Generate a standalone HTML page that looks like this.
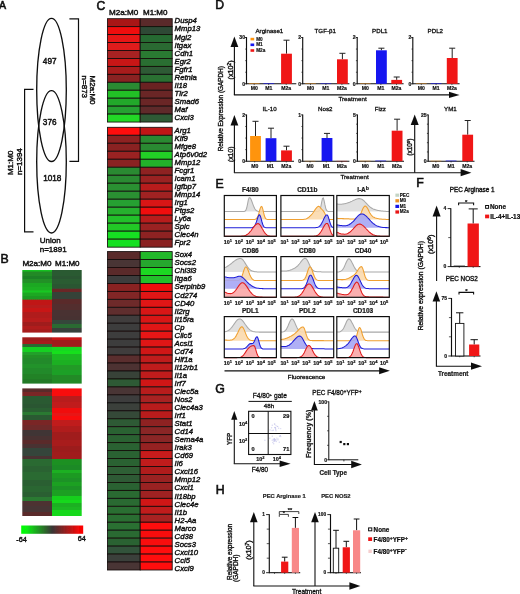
<!DOCTYPE html>
<html><head><meta charset="utf-8"><title>Figure</title>
<style>
html,body{margin:0;padding:0;background:#fff;}
svg{display:block;font-family:"Liberation Sans", Arial, Helvetica, sans-serif;}
</style></head><body>
<svg width="520" height="594" viewBox="0 0 520 594">
<defs><filter id="soft" x="0" y="0" width="100%" height="100%" filterUnits="userSpaceOnUse"><feGaussianBlur stdDeviation="0.38"/></filter></defs>
<rect width="520" height="594" fill="#fff"/>
<g filter="url(#soft)">
<rect width="520" height="594" fill="#fff"/>
<text x="-0.9" y="9.0" font-size="10.6" text-anchor="start" font-weight="normal" font-style="normal" fill="#111" stroke="#111" stroke-width="0.60">A</text>
<ellipse cx="51.5" cy="89.9" rx="14.8" ry="71.6" fill="none" stroke="#111" stroke-width="1.35"/>
<ellipse cx="51.5" cy="161.8" rx="14.8" ry="71.2" fill="none" stroke="#111" stroke-width="1.35"/>
<text x="49.7" y="63.5" font-size="8.2" text-anchor="middle" font-weight="normal" font-style="normal" fill="#111" stroke="#111" stroke-width="0.45">497</text>
<text x="49.7" y="124.9" font-size="8.2" text-anchor="middle" font-weight="normal" font-style="normal" fill="#111" stroke="#111" stroke-width="0.45">376</text>
<text x="52.3" y="180.7" font-size="8.2" text-anchor="middle" font-weight="normal" font-style="normal" fill="#111" stroke="#111" stroke-width="0.45">1018</text>
<text x="39.7" y="243.4" font-size="8.0" text-anchor="start" font-weight="normal" font-style="normal" fill="#111" stroke="#111" stroke-width="0.44">Union</text>
<text x="39.7" y="251.8" font-size="8.0" text-anchor="start" font-weight="normal" font-style="normal" fill="#111" stroke="#111" stroke-width="0.44">n=1891</text>
<polyline points="69.4,18.9 78.5,18.9 78.5,161.4 69.4,161.4" fill="none" stroke="#111" stroke-width="1.2"/>
<polyline points="33.5,89.3 24.6,89.3 24.6,231.8 33.5,231.8" fill="none" stroke="#111" stroke-width="1.2"/>
<text x="89.9" y="75.6" font-size="8" text-anchor="start" font-weight="normal" font-style="normal" fill="#111" transform="rotate(90 89.9 75.6)" stroke="#111" stroke-width="0.44">M2a:M0</text>
<text x="81.6" y="75.6" font-size="8" text-anchor="start" font-weight="normal" font-style="normal" fill="#111" transform="rotate(90 81.6 75.6)" stroke="#111" stroke-width="0.44">n=873</text>
<text x="13.5" y="175.1" font-size="8" text-anchor="start" font-weight="normal" font-style="normal" fill="#111" transform="rotate(-90 13.5 175.1)" stroke="#111" stroke-width="0.44">M1:M0</text>
<text x="21.6" y="175.1" font-size="8" text-anchor="start" font-weight="normal" font-style="normal" fill="#111" transform="rotate(-90 21.6 175.1)" stroke="#111" stroke-width="0.44">n=1394</text>
<text x="0.4" y="262.8" font-size="12.3" text-anchor="start" font-weight="normal" font-style="normal" fill="#111" stroke="#111" stroke-width="0.60">B</text>
<text x="37.0" y="266.3" font-size="8.1" text-anchor="middle" font-weight="normal" font-style="normal" fill="#111" stroke="#111" stroke-width="0.45">M2a:M0</text>
<text x="67.3" y="266.3" font-size="8.0" text-anchor="middle" font-weight="normal" font-style="normal" fill="#111" stroke="#111" stroke-width="0.44">M1:M0</text>
<defs><linearGradient id="g1" x1="0" y1="0" x2="0" y2="1"><stop offset="0.0000" stop-color="#18c020"/><stop offset="0.0176" stop-color="#18c020"/><stop offset="0.0304" stop-color="#208a28"/><stop offset="0.0895" stop-color="#208a28"/><stop offset="0.1022" stop-color="#1e8026"/><stop offset="0.1374" stop-color="#1e8026"/><stop offset="0.1502" stop-color="#209028"/><stop offset="0.2013" stop-color="#209028"/><stop offset="0.2141" stop-color="#1ca824"/><stop offset="0.2652" stop-color="#1ca824"/><stop offset="0.2780" stop-color="#1cb024"/><stop offset="0.3211" stop-color="#1cb024"/><stop offset="0.3339" stop-color="#18c820"/><stop offset="0.3530" stop-color="#18c820"/><stop offset="0.3658" stop-color="#1ca824"/><stop offset="0.4089" stop-color="#1ca824"/><stop offset="0.4217" stop-color="#1c9a24"/><stop offset="0.4665" stop-color="#1c9a24"/><stop offset="0.4792" stop-color="#c01818"/><stop offset="0.5527" stop-color="#c01818"/><stop offset="0.5655" stop-color="#b81a1a"/><stop offset="0.6006" stop-color="#b81a1a"/><stop offset="0.6134" stop-color="#c81616"/><stop offset="0.6645" stop-color="#c81616"/><stop offset="0.6773" stop-color="#b01c1c"/><stop offset="0.7604" stop-color="#b01c1c"/><stop offset="0.7732" stop-color="#b81a1a"/><stop offset="0.8243" stop-color="#b81a1a"/><stop offset="0.8371" stop-color="#a01e1e"/><stop offset="0.8882" stop-color="#a01e1e"/><stop offset="0.9010" stop-color="#b01c1c"/><stop offset="0.9361" stop-color="#b01c1c"/><stop offset="0.9489" stop-color="#a81c1c"/><stop offset="0.9936" stop-color="#a81c1c"/><stop offset="1.0000" stop-color="#a81c1c"/></linearGradient></defs>
<defs><linearGradient id="g2" x1="0" y1="0" x2="0" y2="1"><stop offset="0.0000" stop-color="#2a5a30"/><stop offset="0.0895" stop-color="#2a5a30"/><stop offset="0.1022" stop-color="#2c5432"/><stop offset="0.1374" stop-color="#2c5432"/><stop offset="0.1502" stop-color="#2a5c30"/><stop offset="0.2173" stop-color="#2a5c30"/><stop offset="0.2300" stop-color="#2c5633"/><stop offset="0.2923" stop-color="#2c5633"/><stop offset="0.3051" stop-color="#6a2828"/><stop offset="0.3450" stop-color="#6a2828"/><stop offset="0.3578" stop-color="#344238"/><stop offset="0.4569" stop-color="#344238"/><stop offset="0.4696" stop-color="#5a2c2c"/><stop offset="0.5367" stop-color="#5a2c2c"/><stop offset="0.5495" stop-color="#522e2e"/><stop offset="0.6326" stop-color="#522e2e"/><stop offset="0.6454" stop-color="#4a3030"/><stop offset="0.7284" stop-color="#4a3030"/><stop offset="0.7412" stop-color="#463232"/><stop offset="0.7923" stop-color="#463232"/><stop offset="0.8051" stop-color="#34463a"/><stop offset="0.8562" stop-color="#34463a"/><stop offset="0.8690" stop-color="#2a6a30"/><stop offset="0.9201" stop-color="#2a6a30"/><stop offset="0.9329" stop-color="#38403a"/><stop offset="0.9936" stop-color="#38403a"/><stop offset="1.0000" stop-color="#38403a"/></linearGradient></defs>
<rect x="22.30" y="270.00" width="29.70" height="62.60" fill="url(#g1)"/>
<rect x="52.00" y="270.00" width="29.70" height="62.60" fill="url(#g2)"/>
<defs><linearGradient id="g3" x1="0" y1="0" x2="0" y2="1"><stop offset="0.0000" stop-color="#a01c1c"/><stop offset="0.0713" stop-color="#a01c1c"/><stop offset="0.0886" stop-color="#a81c1c"/><stop offset="0.1361" stop-color="#a81c1c"/><stop offset="0.1533" stop-color="#2a6a30"/><stop offset="0.2009" stop-color="#2a6a30"/><stop offset="0.2181" stop-color="#18d020"/><stop offset="0.3089" stop-color="#18d020"/><stop offset="0.3261" stop-color="#22a02a"/><stop offset="0.3737" stop-color="#22a02a"/><stop offset="0.3909" stop-color="#209028"/><stop offset="0.4384" stop-color="#209028"/><stop offset="0.4557" stop-color="#228a2a"/><stop offset="0.5680" stop-color="#228a2a"/><stop offset="0.5853" stop-color="#20922a"/><stop offset="0.6544" stop-color="#20922a"/><stop offset="0.6717" stop-color="#228a2a"/><stop offset="0.7840" stop-color="#228a2a"/><stop offset="0.8013" stop-color="#208228"/><stop offset="0.8920" stop-color="#208228"/><stop offset="0.9093" stop-color="#207a28"/><stop offset="0.9914" stop-color="#207a28"/><stop offset="1.0000" stop-color="#207a28"/></linearGradient></defs>
<defs><linearGradient id="g4" x1="0" y1="0" x2="0" y2="1"><stop offset="0.0000" stop-color="#c81818"/><stop offset="0.0497" stop-color="#c81818"/><stop offset="0.0670" stop-color="#a01c1c"/><stop offset="0.1965" stop-color="#a01c1c"/><stop offset="0.2138" stop-color="#18d820"/><stop offset="0.2873" stop-color="#18d820"/><stop offset="0.3045" stop-color="#16e01e"/><stop offset="0.3521" stop-color="#16e01e"/><stop offset="0.3693" stop-color="#1cb824"/><stop offset="0.4816" stop-color="#1cb824"/><stop offset="0.4989" stop-color="#1cb024"/><stop offset="0.5896" stop-color="#1cb024"/><stop offset="0.6069" stop-color="#209a28"/><stop offset="0.6976" stop-color="#209a28"/><stop offset="0.7149" stop-color="#1ea026"/><stop offset="0.8056" stop-color="#1ea026"/><stop offset="0.8229" stop-color="#208a28"/><stop offset="0.9914" stop-color="#208a28"/><stop offset="1.0000" stop-color="#208a28"/></linearGradient></defs>
<rect x="22.30" y="337.30" width="29.70" height="46.30" fill="url(#g3)"/>
<rect x="52.00" y="337.30" width="29.70" height="46.30" fill="url(#g4)"/>
<defs><linearGradient id="g5" x1="0" y1="0" x2="0" y2="1"><stop offset="0.0000" stop-color="#5a2c2c"/><stop offset="0.0251" stop-color="#5a2c2c"/><stop offset="0.0313" stop-color="#7a2626"/><stop offset="0.0564" stop-color="#7a2626"/><stop offset="0.0627" stop-color="#2a5a30"/><stop offset="0.1191" stop-color="#2a5a30"/><stop offset="0.1254" stop-color="#2c5632"/><stop offset="0.1505" stop-color="#2c5632"/><stop offset="0.1567" stop-color="#2a5e30"/><stop offset="0.1818" stop-color="#2a5e30"/><stop offset="0.1881" stop-color="#2a7a30"/><stop offset="0.2053" stop-color="#2a7a30"/><stop offset="0.2116" stop-color="#2c5a32"/><stop offset="0.2445" stop-color="#2c5a32"/><stop offset="0.2508" stop-color="#7a2828"/><stop offset="0.2837" stop-color="#7a2828"/><stop offset="0.2900" stop-color="#6e2a2a"/><stop offset="0.3229" stop-color="#6e2a2a"/><stop offset="0.3292" stop-color="#403434"/><stop offset="0.3699" stop-color="#403434"/><stop offset="0.3762" stop-color="#483232"/><stop offset="0.4013" stop-color="#483232"/><stop offset="0.4075" stop-color="#5a2c2c"/><stop offset="0.4326" stop-color="#5a2c2c"/><stop offset="0.4389" stop-color="#4a3030"/><stop offset="0.4639" stop-color="#4a3030"/><stop offset="0.4702" stop-color="#34443a"/><stop offset="0.5266" stop-color="#34443a"/><stop offset="0.5329" stop-color="#4a3030"/><stop offset="0.5502" stop-color="#4a3030"/><stop offset="0.5564" stop-color="#2a6a30"/><stop offset="0.6050" stop-color="#2a6a30"/><stop offset="0.6113" stop-color="#2c6232"/><stop offset="0.6520" stop-color="#2c6232"/><stop offset="0.6583" stop-color="#2a6a30"/><stop offset="0.7147" stop-color="#2a6a30"/><stop offset="0.7210" stop-color="#2c5e32"/><stop offset="0.7618" stop-color="#2c5e32"/><stop offset="0.7680" stop-color="#2a6630"/><stop offset="0.8088" stop-color="#2a6630"/><stop offset="0.8150" stop-color="#2c5e32"/><stop offset="0.8480" stop-color="#2c5e32"/><stop offset="0.8542" stop-color="#2a7a30"/><stop offset="0.8793" stop-color="#2a7a30"/><stop offset="0.8856" stop-color="#4e3030"/><stop offset="0.9185" stop-color="#4e3030"/><stop offset="0.9248" stop-color="#463434"/><stop offset="0.9655" stop-color="#463434"/><stop offset="0.9718" stop-color="#5a2c2c"/><stop offset="0.9969" stop-color="#5a2c2c"/><stop offset="1.0000" stop-color="#5a2c2c"/></linearGradient></defs>
<defs><linearGradient id="g6" x1="0" y1="0" x2="0" y2="1"><stop offset="0.0000" stop-color="#f81010"/><stop offset="0.0564" stop-color="#f81010"/><stop offset="0.0627" stop-color="#b81c1c"/><stop offset="0.1034" stop-color="#b81c1c"/><stop offset="0.1097" stop-color="#c01a1a"/><stop offset="0.1505" stop-color="#c01a1a"/><stop offset="0.1567" stop-color="#f01010"/><stop offset="0.1897" stop-color="#f01010"/><stop offset="0.1959" stop-color="#e81212"/><stop offset="0.2132" stop-color="#e81212"/><stop offset="0.2194" stop-color="#f81010"/><stop offset="0.2445" stop-color="#f81010"/><stop offset="0.2508" stop-color="#c01a1a"/><stop offset="0.2915" stop-color="#c01a1a"/><stop offset="0.2978" stop-color="#b01c1c"/><stop offset="0.3386" stop-color="#b01c1c"/><stop offset="0.3448" stop-color="#a01e1e"/><stop offset="0.4013" stop-color="#a01e1e"/><stop offset="0.4075" stop-color="#a81c1c"/><stop offset="0.4483" stop-color="#a81c1c"/><stop offset="0.4545" stop-color="#9c1e1e"/><stop offset="0.4953" stop-color="#9c1e1e"/><stop offset="0.5016" stop-color="#a01e1e"/><stop offset="0.5502" stop-color="#a01e1e"/><stop offset="0.5564" stop-color="#1c9024"/><stop offset="0.5972" stop-color="#1c9024"/><stop offset="0.6034" stop-color="#1e8a26"/><stop offset="0.6364" stop-color="#1e8a26"/><stop offset="0.6426" stop-color="#1cb024"/><stop offset="0.6599" stop-color="#1cb024"/><stop offset="0.6661" stop-color="#1c9a24"/><stop offset="0.6991" stop-color="#1c9a24"/><stop offset="0.7053" stop-color="#1e9226"/><stop offset="0.7304" stop-color="#1e9226"/><stop offset="0.7367" stop-color="#1ca024"/><stop offset="0.7618" stop-color="#1ca024"/><stop offset="0.7680" stop-color="#1e9226"/><stop offset="0.7931" stop-color="#1e9226"/><stop offset="0.7994" stop-color="#1ca024"/><stop offset="0.8401" stop-color="#1ca024"/><stop offset="0.8464" stop-color="#14d01c"/><stop offset="0.8715" stop-color="#14d01c"/><stop offset="0.8777" stop-color="#12d81a"/><stop offset="0.8950" stop-color="#12d81a"/><stop offset="0.9013" stop-color="#1cb024"/><stop offset="0.9263" stop-color="#1cb024"/><stop offset="0.9326" stop-color="#1ab822"/><stop offset="0.9498" stop-color="#1ab822"/><stop offset="0.9561" stop-color="#14d81c"/><stop offset="0.9969" stop-color="#14d81c"/><stop offset="1.0000" stop-color="#14d81c"/></linearGradient></defs>
<rect x="22.30" y="388.40" width="29.70" height="127.60" fill="url(#g5)"/>
<rect x="52.00" y="388.40" width="29.70" height="127.60" fill="url(#g6)"/>
<defs><linearGradient id="cb" x1="0" y1="0" x2="1" y2="0"><stop offset="0" stop-color="#00ff00"/><stop offset="0.08" stop-color="#08f010"/><stop offset="0.5" stop-color="#3a3636"/><stop offset="0.92" stop-color="#f00808"/><stop offset="1" stop-color="#ff0000"/></linearGradient></defs>
<rect x="21.20" y="525.50" width="62.00" height="8.30" fill="url(#cb)"/>
<text x="16.3" y="541.6" font-size="7.3" text-anchor="start" font-weight="normal" font-style="normal" fill="#111" stroke="#111" stroke-width="0.40">-64</text>
<text x="77.8" y="540.8" font-size="7.3" text-anchor="start" font-weight="normal" font-style="normal" fill="#111" stroke="#111" stroke-width="0.40">64</text>
<text x="96.4" y="9.6" font-size="12.2" text-anchor="start" font-weight="normal" font-style="normal" fill="#111" stroke="#111" stroke-width="0.60">C</text>
<text x="123.6" y="14.8" font-size="8.1" text-anchor="middle" font-weight="normal" font-style="normal" fill="#111" stroke="#111" stroke-width="0.45">M2a:M0</text>
<text x="155.2" y="14.8" font-size="8.0" text-anchor="middle" font-weight="normal" font-style="normal" fill="#111" stroke="#111" stroke-width="0.44">M1:M0</text>
<rect x="107.50" y="18.70" width="32.70" height="7.95" fill="#a81818" stroke="#140c0c" stroke-width="0.85"/>
<rect x="140.20" y="18.70" width="32.00" height="7.95" fill="#5a2a2a" stroke="#140c0c" stroke-width="0.85"/>
<text x="174.6" y="23.400000000000002" font-size="7.7" text-anchor="start" font-weight="normal" font-style="italic" fill="#111" stroke="#111" stroke-width="0.42">Dusp4</text>
<rect x="107.50" y="26.65" width="32.70" height="7.95" fill="#f01010" stroke="#140c0c" stroke-width="0.85"/>
<rect x="140.20" y="26.65" width="32.00" height="7.95" fill="#2e4a35" stroke="#140c0c" stroke-width="0.85"/>
<text x="174.6" y="31.470000000000002" font-size="7.7" text-anchor="start" font-weight="normal" font-style="italic" fill="#111" stroke="#111" stroke-width="0.42">Mmp13</text>
<rect x="107.50" y="34.60" width="32.70" height="7.95" fill="#e81515" stroke="#140c0c" stroke-width="0.85"/>
<rect x="140.20" y="34.60" width="32.00" height="7.95" fill="#256a30" stroke="#140c0c" stroke-width="0.85"/>
<text x="174.6" y="39.540000000000006" font-size="7.7" text-anchor="start" font-weight="normal" font-style="italic" fill="#111" stroke="#111" stroke-width="0.42">Mgl2</text>
<rect x="107.50" y="42.55" width="32.70" height="7.95" fill="#e01a1a" stroke="#140c0c" stroke-width="0.85"/>
<rect x="140.20" y="42.55" width="32.00" height="7.95" fill="#2a6a30" stroke="#140c0c" stroke-width="0.85"/>
<text x="174.6" y="47.61" font-size="7.7" text-anchor="start" font-weight="normal" font-style="italic" fill="#111" stroke="#111" stroke-width="0.42">Itgax</text>
<rect x="107.50" y="50.50" width="32.70" height="7.95" fill="#a82020" stroke="#140c0c" stroke-width="0.85"/>
<rect x="140.20" y="50.50" width="32.00" height="7.95" fill="#2a7a30" stroke="#140c0c" stroke-width="0.85"/>
<text x="174.6" y="55.68000000000001" font-size="7.7" text-anchor="start" font-weight="normal" font-style="italic" fill="#111" stroke="#111" stroke-width="0.42">Cdh1</text>
<rect x="107.50" y="58.45" width="32.70" height="7.95" fill="#c81818" stroke="#140c0c" stroke-width="0.85"/>
<rect x="140.20" y="58.45" width="32.00" height="7.95" fill="#2a6e30" stroke="#140c0c" stroke-width="0.85"/>
<text x="174.6" y="63.75" font-size="7.7" text-anchor="start" font-weight="normal" font-style="italic" fill="#111" stroke="#111" stroke-width="0.42">Egr2</text>
<rect x="107.50" y="66.40" width="32.70" height="7.95" fill="#a81c1c" stroke="#140c0c" stroke-width="0.85"/>
<rect x="140.20" y="66.40" width="32.00" height="7.95" fill="#2e5a34" stroke="#140c0c" stroke-width="0.85"/>
<text x="174.6" y="71.82000000000001" font-size="7.7" text-anchor="start" font-weight="normal" font-style="italic" fill="#111" stroke="#111" stroke-width="0.42">Fgfr1</text>
<rect x="107.50" y="74.35" width="32.70" height="7.95" fill="#8a2424" stroke="#140c0c" stroke-width="0.85"/>
<rect x="140.20" y="74.35" width="32.00" height="7.95" fill="#2a7030" stroke="#140c0c" stroke-width="0.85"/>
<text x="174.6" y="79.89" font-size="7.7" text-anchor="start" font-weight="normal" font-style="italic" fill="#111" stroke="#111" stroke-width="0.42">Retnla</text>
<rect x="107.50" y="82.30" width="32.70" height="7.95" fill="#2a8a30" stroke="#140c0c" stroke-width="0.85"/>
<rect x="140.20" y="82.30" width="32.00" height="7.95" fill="#6a2424" stroke="#140c0c" stroke-width="0.85"/>
<text x="174.6" y="87.96000000000001" font-size="7.7" text-anchor="start" font-weight="normal" font-style="italic" fill="#111" stroke="#111" stroke-width="0.42">Il18</text>
<rect x="107.50" y="90.25" width="32.70" height="7.95" fill="#20c028" stroke="#140c0c" stroke-width="0.85"/>
<rect x="140.20" y="90.25" width="32.00" height="7.95" fill="#6a2828" stroke="#140c0c" stroke-width="0.85"/>
<text x="174.6" y="96.03" font-size="7.7" text-anchor="start" font-weight="normal" font-style="italic" fill="#111" stroke="#111" stroke-width="0.42">Tlr2</text>
<rect x="107.50" y="98.20" width="32.70" height="7.95" fill="#22a82a" stroke="#140c0c" stroke-width="0.85"/>
<rect x="140.20" y="98.20" width="32.00" height="7.95" fill="#6a2626" stroke="#140c0c" stroke-width="0.85"/>
<text x="174.6" y="104.10000000000001" font-size="7.7" text-anchor="start" font-weight="normal" font-style="italic" fill="#111" stroke="#111" stroke-width="0.42">Smad6</text>
<rect x="107.50" y="106.15" width="32.70" height="7.95" fill="#28a030" stroke="#140c0c" stroke-width="0.85"/>
<rect x="140.20" y="106.15" width="32.00" height="7.95" fill="#5e2a2a" stroke="#140c0c" stroke-width="0.85"/>
<text x="174.6" y="112.17000000000002" font-size="7.7" text-anchor="start" font-weight="normal" font-style="italic" fill="#111" stroke="#111" stroke-width="0.42">Maf</text>
<rect x="107.50" y="114.10" width="32.70" height="7.95" fill="#20d828" stroke="#140c0c" stroke-width="0.85"/>
<rect x="140.20" y="114.10" width="32.00" height="7.95" fill="#2e5a34" stroke="#140c0c" stroke-width="0.85"/>
<text x="174.6" y="120.24000000000001" font-size="7.7" text-anchor="start" font-weight="normal" font-style="italic" fill="#111" stroke="#111" stroke-width="0.42">Cxcl3</text>
<rect x="107.50" y="127.30" width="32.70" height="7.99" fill="#ff0808" stroke="#140c0c" stroke-width="0.85"/>
<rect x="140.20" y="127.30" width="32.00" height="7.99" fill="#c01818" stroke="#140c0c" stroke-width="0.85"/>
<text x="174.6" y="133.0" font-size="7.7" text-anchor="start" font-weight="normal" font-style="italic" fill="#111" stroke="#111" stroke-width="0.42">Arg1</text>
<rect x="107.50" y="135.29" width="32.70" height="7.99" fill="#8e2020" stroke="#140c0c" stroke-width="0.85"/>
<rect x="140.20" y="135.29" width="32.00" height="7.99" fill="#2a8a30" stroke="#140c0c" stroke-width="0.85"/>
<text x="174.6" y="141.03" font-size="7.7" text-anchor="start" font-weight="normal" font-style="italic" fill="#111" stroke="#111" stroke-width="0.42">Klf9</text>
<rect x="107.50" y="143.28" width="32.70" height="7.99" fill="#8a2222" stroke="#140c0c" stroke-width="0.85"/>
<rect x="140.20" y="143.28" width="32.00" height="7.99" fill="#2a8a30" stroke="#140c0c" stroke-width="0.85"/>
<text x="174.6" y="149.06" font-size="7.7" text-anchor="start" font-weight="normal" font-style="italic" fill="#111" stroke="#111" stroke-width="0.42">Mfge8</text>
<rect x="107.50" y="151.27" width="32.70" height="7.99" fill="#9a2020" stroke="#140c0c" stroke-width="0.85"/>
<rect x="140.20" y="151.27" width="32.00" height="7.99" fill="#20d028" stroke="#140c0c" stroke-width="0.85"/>
<text x="174.6" y="157.09" font-size="7.7" text-anchor="start" font-weight="normal" font-style="italic" fill="#111" stroke="#111" stroke-width="0.42">Atp6v0d2</text>
<rect x="107.50" y="159.26" width="32.70" height="7.99" fill="#8a2424" stroke="#140c0c" stroke-width="0.85"/>
<rect x="140.20" y="159.26" width="32.00" height="7.99" fill="#24b02c" stroke="#140c0c" stroke-width="0.85"/>
<text x="174.6" y="165.12" font-size="7.7" text-anchor="start" font-weight="normal" font-style="italic" fill="#111" stroke="#111" stroke-width="0.42">Mmp12</text>
<rect x="107.50" y="167.25" width="32.70" height="7.99" fill="#2a8a30" stroke="#140c0c" stroke-width="0.85"/>
<rect x="140.20" y="167.25" width="32.00" height="7.99" fill="#8e2222" stroke="#140c0c" stroke-width="0.85"/>
<text x="174.6" y="173.15" font-size="7.7" text-anchor="start" font-weight="normal" font-style="italic" fill="#111" stroke="#111" stroke-width="0.42">Fcgr1</text>
<rect x="107.50" y="175.24" width="32.70" height="7.99" fill="#2a8a30" stroke="#140c0c" stroke-width="0.85"/>
<rect x="140.20" y="175.24" width="32.00" height="7.99" fill="#9a2020" stroke="#140c0c" stroke-width="0.85"/>
<text x="174.6" y="181.18" font-size="7.7" text-anchor="start" font-weight="normal" font-style="italic" fill="#111" stroke="#111" stroke-width="0.42">Icam1</text>
<rect x="107.50" y="183.23" width="32.70" height="7.99" fill="#2a9030" stroke="#140c0c" stroke-width="0.85"/>
<rect x="140.20" y="183.23" width="32.00" height="7.99" fill="#b81c1c" stroke="#140c0c" stroke-width="0.85"/>
<text x="174.6" y="189.20999999999998" font-size="7.7" text-anchor="start" font-weight="normal" font-style="italic" fill="#111" stroke="#111" stroke-width="0.42">Igfbp7</text>
<rect x="107.50" y="191.22" width="32.70" height="7.99" fill="#2a9030" stroke="#140c0c" stroke-width="0.85"/>
<rect x="140.20" y="191.22" width="32.00" height="7.99" fill="#a02020" stroke="#140c0c" stroke-width="0.85"/>
<text x="174.6" y="197.24" font-size="7.7" text-anchor="start" font-weight="normal" font-style="italic" fill="#111" stroke="#111" stroke-width="0.42">Mmp14</text>
<rect x="107.50" y="199.21" width="32.70" height="7.99" fill="#28a030" stroke="#140c0c" stroke-width="0.85"/>
<rect x="140.20" y="199.21" width="32.00" height="7.99" fill="#d81818" stroke="#140c0c" stroke-width="0.85"/>
<text x="174.6" y="205.26999999999998" font-size="7.7" text-anchor="start" font-weight="normal" font-style="italic" fill="#111" stroke="#111" stroke-width="0.42">Irg1</text>
<rect x="107.50" y="207.20" width="32.70" height="7.99" fill="#26b02e" stroke="#140c0c" stroke-width="0.85"/>
<rect x="140.20" y="207.20" width="32.00" height="7.99" fill="#f01010" stroke="#140c0c" stroke-width="0.85"/>
<text x="174.6" y="213.3" font-size="7.7" text-anchor="start" font-weight="normal" font-style="italic" fill="#111" stroke="#111" stroke-width="0.42">Ptgs2</text>
<rect x="107.50" y="215.19" width="32.70" height="7.99" fill="#22c02a" stroke="#140c0c" stroke-width="0.85"/>
<rect x="140.20" y="215.19" width="32.00" height="7.99" fill="#b81c1c" stroke="#140c0c" stroke-width="0.85"/>
<text x="174.6" y="221.32999999999998" font-size="7.7" text-anchor="start" font-weight="normal" font-style="italic" fill="#111" stroke="#111" stroke-width="0.42">Ly6a</text>
<rect x="107.50" y="223.18" width="32.70" height="7.99" fill="#20c828" stroke="#140c0c" stroke-width="0.85"/>
<rect x="140.20" y="223.18" width="32.00" height="7.99" fill="#9a2020" stroke="#140c0c" stroke-width="0.85"/>
<text x="174.6" y="229.35999999999999" font-size="7.7" text-anchor="start" font-weight="normal" font-style="italic" fill="#111" stroke="#111" stroke-width="0.42">Spic</text>
<rect x="107.50" y="231.17" width="32.70" height="7.99" fill="#18e020" stroke="#140c0c" stroke-width="0.85"/>
<rect x="140.20" y="231.17" width="32.00" height="7.99" fill="#8e2222" stroke="#140c0c" stroke-width="0.85"/>
<text x="174.6" y="237.39" font-size="7.7" text-anchor="start" font-weight="normal" font-style="italic" fill="#111" stroke="#111" stroke-width="0.42">Clec4n</text>
<rect x="107.50" y="239.16" width="32.70" height="7.99" fill="#18e020" stroke="#140c0c" stroke-width="0.85"/>
<rect x="140.20" y="239.16" width="32.00" height="7.99" fill="#8a2424" stroke="#140c0c" stroke-width="0.85"/>
<text x="174.6" y="245.42" font-size="7.7" text-anchor="start" font-weight="normal" font-style="italic" fill="#111" stroke="#111" stroke-width="0.42">Fpr2</text>
<rect x="107.50" y="251.60" width="32.70" height="7.96" fill="#5a2c2c" stroke="#140c0c" stroke-width="0.85"/>
<rect x="140.20" y="251.60" width="32.00" height="7.96" fill="#22b82a" stroke="#140c0c" stroke-width="0.85"/>
<text x="174.6" y="257.3" font-size="7.7" text-anchor="start" font-weight="normal" font-style="italic" fill="#111" stroke="#111" stroke-width="0.42">Sox4</text>
<rect x="107.50" y="259.56" width="32.70" height="7.96" fill="#483434" stroke="#140c0c" stroke-width="0.85"/>
<rect x="140.20" y="259.56" width="32.00" height="7.96" fill="#26a82e" stroke="#140c0c" stroke-width="0.85"/>
<text x="174.6" y="265.34000000000003" font-size="7.7" text-anchor="start" font-weight="normal" font-style="italic" fill="#111" stroke="#111" stroke-width="0.42">Socs2</text>
<rect x="107.50" y="267.52" width="32.70" height="7.96" fill="#5a2c2c" stroke="#140c0c" stroke-width="0.85"/>
<rect x="140.20" y="267.52" width="32.00" height="7.96" fill="#1cd824" stroke="#140c0c" stroke-width="0.85"/>
<text x="174.6" y="273.38" font-size="7.7" text-anchor="start" font-weight="normal" font-style="italic" fill="#111" stroke="#111" stroke-width="0.42">Chi3l3</text>
<rect x="107.50" y="275.48" width="32.70" height="7.96" fill="#3e3e3e" stroke="#140c0c" stroke-width="0.85"/>
<rect x="140.20" y="275.48" width="32.00" height="7.96" fill="#22c02a" stroke="#140c0c" stroke-width="0.85"/>
<text x="174.6" y="281.42" font-size="7.7" text-anchor="start" font-weight="normal" font-style="italic" fill="#111" stroke="#111" stroke-width="0.42">Itga6</text>
<rect x="107.50" y="283.44" width="32.70" height="7.96" fill="#8a2424" stroke="#140c0c" stroke-width="0.85"/>
<rect x="140.20" y="283.44" width="32.00" height="7.96" fill="#f01010" stroke="#140c0c" stroke-width="0.85"/>
<text x="174.6" y="289.46000000000004" font-size="7.7" text-anchor="start" font-weight="normal" font-style="italic" fill="#111" stroke="#111" stroke-width="0.42">Serpinb9</text>
<rect x="107.50" y="291.40" width="32.70" height="7.96" fill="#822626" stroke="#140c0c" stroke-width="0.85"/>
<rect x="140.20" y="291.40" width="32.00" height="7.96" fill="#e01414" stroke="#140c0c" stroke-width="0.85"/>
<text x="174.6" y="297.5" font-size="7.7" text-anchor="start" font-weight="normal" font-style="italic" fill="#111" stroke="#111" stroke-width="0.42">Cd274</text>
<rect x="107.50" y="299.36" width="32.70" height="7.96" fill="#6e2a2a" stroke="#140c0c" stroke-width="0.85"/>
<rect x="140.20" y="299.36" width="32.00" height="7.96" fill="#e01414" stroke="#140c0c" stroke-width="0.85"/>
<text x="174.6" y="305.54" font-size="7.7" text-anchor="start" font-weight="normal" font-style="italic" fill="#111" stroke="#111" stroke-width="0.42">CD40</text>
<rect x="107.50" y="307.32" width="32.70" height="7.96" fill="#5e2e2e" stroke="#140c0c" stroke-width="0.85"/>
<rect x="140.20" y="307.32" width="32.00" height="7.96" fill="#d81818" stroke="#140c0c" stroke-width="0.85"/>
<text x="174.6" y="313.58" font-size="7.7" text-anchor="start" font-weight="normal" font-style="italic" fill="#111" stroke="#111" stroke-width="0.42">Il2rg</text>
<rect x="107.50" y="315.28" width="32.70" height="7.96" fill="#403c3c" stroke="#140c0c" stroke-width="0.85"/>
<rect x="140.20" y="315.28" width="32.00" height="7.96" fill="#d81818" stroke="#140c0c" stroke-width="0.85"/>
<text x="174.6" y="321.62" font-size="7.7" text-anchor="start" font-weight="normal" font-style="italic" fill="#111" stroke="#111" stroke-width="0.42">Il15ra</text>
<rect x="107.50" y="323.24" width="32.70" height="7.96" fill="#3c3c3c" stroke="#140c0c" stroke-width="0.85"/>
<rect x="140.20" y="323.24" width="32.00" height="7.96" fill="#e01414" stroke="#140c0c" stroke-width="0.85"/>
<text x="174.6" y="329.65999999999997" font-size="7.7" text-anchor="start" font-weight="normal" font-style="italic" fill="#111" stroke="#111" stroke-width="0.42">Cp</text>
<rect x="107.50" y="331.20" width="32.70" height="7.96" fill="#3e3e3e" stroke="#140c0c" stroke-width="0.85"/>
<rect x="140.20" y="331.20" width="32.00" height="7.96" fill="#e81212" stroke="#140c0c" stroke-width="0.85"/>
<text x="174.6" y="337.7" font-size="7.7" text-anchor="start" font-weight="normal" font-style="italic" fill="#111" stroke="#111" stroke-width="0.42">Clic5</text>
<rect x="107.50" y="339.16" width="32.70" height="7.96" fill="#3c3c3c" stroke="#140c0c" stroke-width="0.85"/>
<rect x="140.20" y="339.16" width="32.00" height="7.96" fill="#e01414" stroke="#140c0c" stroke-width="0.85"/>
<text x="174.6" y="345.74" font-size="7.7" text-anchor="start" font-weight="normal" font-style="italic" fill="#111" stroke="#111" stroke-width="0.42">Acsl1</text>
<rect x="107.50" y="347.12" width="32.70" height="7.96" fill="#403c3c" stroke="#140c0c" stroke-width="0.85"/>
<rect x="140.20" y="347.12" width="32.00" height="7.96" fill="#d01818" stroke="#140c0c" stroke-width="0.85"/>
<text x="174.6" y="353.78" font-size="7.7" text-anchor="start" font-weight="normal" font-style="italic" fill="#111" stroke="#111" stroke-width="0.42">Cd74</text>
<rect x="107.50" y="355.08" width="32.70" height="7.96" fill="#5a2e2e" stroke="#140c0c" stroke-width="0.85"/>
<rect x="140.20" y="355.08" width="32.00" height="7.96" fill="#c01c1c" stroke="#140c0c" stroke-width="0.85"/>
<text x="174.6" y="361.82" font-size="7.7" text-anchor="start" font-weight="normal" font-style="italic" fill="#111" stroke="#111" stroke-width="0.42">Hif1a</text>
<rect x="107.50" y="363.04" width="32.70" height="7.96" fill="#4e3232" stroke="#140c0c" stroke-width="0.85"/>
<rect x="140.20" y="363.04" width="32.00" height="7.96" fill="#c01c1c" stroke="#140c0c" stroke-width="0.85"/>
<text x="174.6" y="369.86" font-size="7.7" text-anchor="start" font-weight="normal" font-style="italic" fill="#111" stroke="#111" stroke-width="0.42">Il12rb1</text>
<rect x="107.50" y="371.00" width="32.70" height="7.96" fill="#384238" stroke="#140c0c" stroke-width="0.85"/>
<rect x="140.20" y="371.00" width="32.00" height="7.96" fill="#c01c1c" stroke="#140c0c" stroke-width="0.85"/>
<text x="174.6" y="377.9" font-size="7.7" text-anchor="start" font-weight="normal" font-style="italic" fill="#111" stroke="#111" stroke-width="0.42">Il1a</text>
<rect x="107.50" y="378.96" width="32.70" height="7.96" fill="#2e5a34" stroke="#140c0c" stroke-width="0.85"/>
<rect x="140.20" y="378.96" width="32.00" height="7.96" fill="#d01818" stroke="#140c0c" stroke-width="0.85"/>
<text x="174.6" y="385.94" font-size="7.7" text-anchor="start" font-weight="normal" font-style="italic" fill="#111" stroke="#111" stroke-width="0.42">Irf7</text>
<rect x="107.50" y="386.92" width="32.70" height="7.96" fill="#4a3636" stroke="#140c0c" stroke-width="0.85"/>
<rect x="140.20" y="386.92" width="32.00" height="7.96" fill="#b81c1c" stroke="#140c0c" stroke-width="0.85"/>
<text x="174.6" y="393.98" font-size="7.7" text-anchor="start" font-weight="normal" font-style="italic" fill="#111" stroke="#111" stroke-width="0.42">Clec5a</text>
<rect x="107.50" y="394.88" width="32.70" height="7.96" fill="#3e3e3e" stroke="#140c0c" stroke-width="0.85"/>
<rect x="140.20" y="394.88" width="32.00" height="7.96" fill="#a82020" stroke="#140c0c" stroke-width="0.85"/>
<text x="174.6" y="402.02" font-size="7.7" text-anchor="start" font-weight="normal" font-style="italic" fill="#111" stroke="#111" stroke-width="0.42">Nos2</text>
<rect x="107.50" y="402.84" width="32.70" height="7.96" fill="#3a403a" stroke="#140c0c" stroke-width="0.85"/>
<rect x="140.20" y="402.84" width="32.00" height="7.96" fill="#b81c1c" stroke="#140c0c" stroke-width="0.85"/>
<text x="174.6" y="410.06" font-size="7.7" text-anchor="start" font-weight="normal" font-style="italic" fill="#111" stroke="#111" stroke-width="0.42">Clec4a3</text>
<rect x="107.50" y="410.80" width="32.70" height="7.96" fill="#364838" stroke="#140c0c" stroke-width="0.85"/>
<rect x="140.20" y="410.80" width="32.00" height="7.96" fill="#b81c1c" stroke="#140c0c" stroke-width="0.85"/>
<text x="174.6" y="418.1" font-size="7.7" text-anchor="start" font-weight="normal" font-style="italic" fill="#111" stroke="#111" stroke-width="0.42">Irf1</text>
<rect x="107.50" y="418.76" width="32.70" height="7.96" fill="#2e5a34" stroke="#140c0c" stroke-width="0.85"/>
<rect x="140.20" y="418.76" width="32.00" height="7.96" fill="#8e2424" stroke="#140c0c" stroke-width="0.85"/>
<text x="174.6" y="426.14" font-size="7.7" text-anchor="start" font-weight="normal" font-style="italic" fill="#111" stroke="#111" stroke-width="0.42">Stat1</text>
<rect x="107.50" y="426.72" width="32.70" height="7.96" fill="#2c6232" stroke="#140c0c" stroke-width="0.85"/>
<rect x="140.20" y="426.72" width="32.00" height="7.96" fill="#8a2626" stroke="#140c0c" stroke-width="0.85"/>
<text x="174.6" y="434.18" font-size="7.7" text-anchor="start" font-weight="normal" font-style="italic" fill="#111" stroke="#111" stroke-width="0.42">Cd14</text>
<rect x="107.50" y="434.68" width="32.70" height="7.96" fill="#2c6232" stroke="#140c0c" stroke-width="0.85"/>
<rect x="140.20" y="434.68" width="32.00" height="7.96" fill="#8a2626" stroke="#140c0c" stroke-width="0.85"/>
<text x="174.6" y="442.22" font-size="7.7" text-anchor="start" font-weight="normal" font-style="italic" fill="#111" stroke="#111" stroke-width="0.42">Sema4a</text>
<rect x="107.50" y="442.64" width="32.70" height="7.96" fill="#2c6232" stroke="#140c0c" stroke-width="0.85"/>
<rect x="140.20" y="442.64" width="32.00" height="7.96" fill="#962222" stroke="#140c0c" stroke-width="0.85"/>
<text x="174.6" y="450.26" font-size="7.7" text-anchor="start" font-weight="normal" font-style="italic" fill="#111" stroke="#111" stroke-width="0.42">Irak3</text>
<rect x="107.50" y="450.60" width="32.70" height="7.96" fill="#2c6232" stroke="#140c0c" stroke-width="0.85"/>
<rect x="140.20" y="450.60" width="32.00" height="7.96" fill="#c81a1a" stroke="#140c0c" stroke-width="0.85"/>
<text x="174.6" y="458.29999999999995" font-size="7.7" text-anchor="start" font-weight="normal" font-style="italic" fill="#111" stroke="#111" stroke-width="0.42">Cd69</text>
<rect x="107.50" y="458.56" width="32.70" height="7.96" fill="#2c6232" stroke="#140c0c" stroke-width="0.85"/>
<rect x="140.20" y="458.56" width="32.00" height="7.96" fill="#c01c1c" stroke="#140c0c" stroke-width="0.85"/>
<text x="174.6" y="466.34" font-size="7.7" text-anchor="start" font-weight="normal" font-style="italic" fill="#111" stroke="#111" stroke-width="0.42">Il6</text>
<rect x="107.50" y="466.52" width="32.70" height="7.96" fill="#2e5e34" stroke="#140c0c" stroke-width="0.85"/>
<rect x="140.20" y="466.52" width="32.00" height="7.96" fill="#b01e1e" stroke="#140c0c" stroke-width="0.85"/>
<text x="174.6" y="474.38" font-size="7.7" text-anchor="start" font-weight="normal" font-style="italic" fill="#111" stroke="#111" stroke-width="0.42">Cxcl16</text>
<rect x="107.50" y="474.48" width="32.70" height="7.96" fill="#2e5a34" stroke="#140c0c" stroke-width="0.85"/>
<rect x="140.20" y="474.48" width="32.00" height="7.96" fill="#9a2222" stroke="#140c0c" stroke-width="0.85"/>
<text x="174.6" y="482.41999999999996" font-size="7.7" text-anchor="start" font-weight="normal" font-style="italic" fill="#111" stroke="#111" stroke-width="0.42">Mmp12</text>
<rect x="107.50" y="482.44" width="32.70" height="7.96" fill="#2c6232" stroke="#140c0c" stroke-width="0.85"/>
<rect x="140.20" y="482.44" width="32.00" height="7.96" fill="#9a2222" stroke="#140c0c" stroke-width="0.85"/>
<text x="174.6" y="490.46" font-size="7.7" text-anchor="start" font-weight="normal" font-style="italic" fill="#111" stroke="#111" stroke-width="0.42">Cxcl1</text>
<rect x="107.50" y="490.40" width="32.70" height="7.96" fill="#2a6a30" stroke="#140c0c" stroke-width="0.85"/>
<rect x="140.20" y="490.40" width="32.00" height="7.96" fill="#a02020" stroke="#140c0c" stroke-width="0.85"/>
<text x="174.6" y="498.5" font-size="7.7" text-anchor="start" font-weight="normal" font-style="italic" fill="#111" stroke="#111" stroke-width="0.42">Il18bp</text>
<rect x="107.50" y="498.36" width="32.70" height="7.96" fill="#2a6a30" stroke="#140c0c" stroke-width="0.85"/>
<rect x="140.20" y="498.36" width="32.00" height="7.96" fill="#d01818" stroke="#140c0c" stroke-width="0.85"/>
<text x="174.6" y="506.53999999999996" font-size="7.7" text-anchor="start" font-weight="normal" font-style="italic" fill="#111" stroke="#111" stroke-width="0.42">Clec4e</text>
<rect x="107.50" y="506.32" width="32.70" height="7.96" fill="#2a6e30" stroke="#140c0c" stroke-width="0.85"/>
<rect x="140.20" y="506.32" width="32.00" height="7.96" fill="#c01c1c" stroke="#140c0c" stroke-width="0.85"/>
<text x="174.6" y="514.5799999999999" font-size="7.7" text-anchor="start" font-weight="normal" font-style="italic" fill="#111" stroke="#111" stroke-width="0.42">Il1b</text>
<rect x="107.50" y="514.28" width="32.70" height="7.96" fill="#2a6e30" stroke="#140c0c" stroke-width="0.85"/>
<rect x="140.20" y="514.28" width="32.00" height="7.96" fill="#a82020" stroke="#140c0c" stroke-width="0.85"/>
<text x="174.6" y="522.62" font-size="7.7" text-anchor="start" font-weight="normal" font-style="italic" fill="#111" stroke="#111" stroke-width="0.42">H2-Aa</text>
<rect x="107.50" y="522.24" width="32.70" height="7.96" fill="#2a7030" stroke="#140c0c" stroke-width="0.85"/>
<rect x="140.20" y="522.24" width="32.00" height="7.96" fill="#ff0c0c" stroke="#140c0c" stroke-width="0.85"/>
<text x="174.6" y="530.66" font-size="7.7" text-anchor="start" font-weight="normal" font-style="italic" fill="#111" stroke="#111" stroke-width="0.42">Marco</text>
<rect x="107.50" y="530.20" width="32.70" height="7.96" fill="#2a6a30" stroke="#140c0c" stroke-width="0.85"/>
<rect x="140.20" y="530.20" width="32.00" height="7.96" fill="#f81010" stroke="#140c0c" stroke-width="0.85"/>
<text x="174.6" y="538.7" font-size="7.7" text-anchor="start" font-weight="normal" font-style="italic" fill="#111" stroke="#111" stroke-width="0.42">Cd38</text>
<rect x="107.50" y="538.16" width="32.70" height="7.96" fill="#2c6232" stroke="#140c0c" stroke-width="0.85"/>
<rect x="140.20" y="538.16" width="32.00" height="7.96" fill="#f81010" stroke="#140c0c" stroke-width="0.85"/>
<text x="174.6" y="546.74" font-size="7.7" text-anchor="start" font-weight="normal" font-style="italic" fill="#111" stroke="#111" stroke-width="0.42">Socs3</text>
<rect x="107.50" y="546.12" width="32.70" height="7.96" fill="#30523a" stroke="#140c0c" stroke-width="0.85"/>
<rect x="140.20" y="546.12" width="32.00" height="7.96" fill="#ff0c0c" stroke="#140c0c" stroke-width="0.85"/>
<text x="174.6" y="554.78" font-size="7.7" text-anchor="start" font-weight="normal" font-style="italic" fill="#111" stroke="#111" stroke-width="0.42">Cxcl10</text>
<rect x="107.50" y="554.08" width="32.70" height="7.96" fill="#3a403a" stroke="#140c0c" stroke-width="0.85"/>
<rect x="140.20" y="554.08" width="32.00" height="7.96" fill="#ff0c0c" stroke="#140c0c" stroke-width="0.85"/>
<text x="174.6" y="562.8199999999999" font-size="7.7" text-anchor="start" font-weight="normal" font-style="italic" fill="#111" stroke="#111" stroke-width="0.42">Ccl5</text>
<rect x="107.50" y="562.04" width="32.70" height="7.96" fill="#4a3434" stroke="#140c0c" stroke-width="0.85"/>
<rect x="140.20" y="562.04" width="32.00" height="7.96" fill="#ff0c0c" stroke="#140c0c" stroke-width="0.85"/>
<text x="174.6" y="570.8599999999999" font-size="7.7" text-anchor="start" font-weight="normal" font-style="italic" fill="#111" stroke="#111" stroke-width="0.42">Cxcl9</text>
<text x="215.3" y="9.3" font-size="12.2" text-anchor="start" font-weight="normal" font-style="normal" fill="#111" stroke="#111" stroke-width="0.60">D</text>
<line x1="234.4" y1="94.9" x2="234.4" y2="46.1" stroke="#111" stroke-width="1.15"/>
<polygon points="230.50,47.10 238.30,47.10 234.40,36.50" fill="#111"/>
<line x1="233.9" y1="94.9" x2="450.0" y2="94.9" stroke="#111" stroke-width="1.15"/>
<polygon points="449.00,91.70 449.00,98.10 459.60,94.90" fill="#111"/>
<text x="352.6" y="101.0" font-size="6.25" text-anchor="middle" font-weight="normal" font-style="normal" fill="#111" stroke="#111" stroke-width="0.30">Treatment</text>
<text x="222.7" y="151.3" font-size="6.4" text-anchor="start" font-weight="normal" font-style="normal" fill="#111" transform="rotate(-90 222.7 151.3)" stroke="#111" stroke-width="0.35">Relative Expression (GAPDH)</text>
<text x="233.0" y="69.9" font-size="7.2" text-anchor="middle" font-weight="normal" font-style="normal" fill="#111" transform="rotate(-90 233.0 69.9)" stroke="#111" stroke-width="0.40">(x10<tspan dy="-2.2" font-size="4.6">2</tspan><tspan dy="2.2">)</tspan></text>
<line x1="246.5" y1="37.1" x2="246.5" y2="84.3" stroke="#111" stroke-width="1.15"/>
<line x1="246.5" y1="83.8" x2="296.3" y2="83.8" stroke="#111" stroke-width="1.05"/>
<line x1="244.9" y1="37.5" x2="246.5" y2="37.5" stroke="#111" stroke-width="0.9"/>
<line x1="244.9" y1="83.8" x2="246.5" y2="83.8" stroke="#111" stroke-width="0.9"/>
<line x1="245.22" y1="49.075" x2="246.5" y2="49.075" stroke="#111" stroke-width="0.7"/>
<line x1="245.22" y1="60.65" x2="246.5" y2="60.65" stroke="#111" stroke-width="0.7"/>
<line x1="245.22" y1="72.225" x2="246.5" y2="72.225" stroke="#111" stroke-width="0.7"/>
<text x="269.4" y="33.2" font-size="6.2" text-anchor="middle" font-weight="normal" font-style="normal" fill="#111" stroke="#111" stroke-width="0.30">Arginase1</text>
<text x="245.0" y="39.336" font-size="5.1" text-anchor="end" font-weight="bold" font-style="normal" fill="#111" stroke="#111" stroke-width="0.18">30</text>
<text x="245.0" y="85.636" font-size="5.1" text-anchor="end" font-weight="bold" font-style="normal" fill="#111" stroke="#111" stroke-width="0.18">0</text>
<rect x="248.80" y="83.30" width="10.80" height="0.50" fill="#ff9410"/>
<rect x="263.30" y="83.20" width="10.80" height="0.60" fill="#1414f0"/>
<line x1="286.5" y1="53.7" x2="286.5" y2="40.2" stroke="#222" stroke-width="1.0"/>
<line x1="283.476" y1="40.2" x2="289.524" y2="40.2" stroke="#222" stroke-width="1.0"/>
<rect x="281.10" y="53.70" width="10.80" height="30.10" fill="#f01414"/>
<line x1="254.2" y1="83.8" x2="254.2" y2="85.1" stroke="#111" stroke-width="0.6"/>
<text x="254.2" y="90.2" font-size="5.1" text-anchor="middle" font-weight="bold" font-style="normal" fill="#111" stroke="#111" stroke-width="0.18">M0</text>
<line x1="268.7" y1="83.8" x2="268.7" y2="85.1" stroke="#111" stroke-width="0.6"/>
<text x="268.7" y="90.2" font-size="5.1" text-anchor="middle" font-weight="bold" font-style="normal" fill="#111" stroke="#111" stroke-width="0.18">M1</text>
<line x1="286.2" y1="83.8" x2="286.2" y2="85.1" stroke="#111" stroke-width="0.6"/>
<text x="286.2" y="90.2" font-size="5.1" text-anchor="middle" font-weight="bold" font-style="normal" fill="#111" stroke="#111" stroke-width="0.18">M2a</text>
<rect x="250.50" y="37.80" width="3.70" height="2.60" fill="#ff9410"/>
<text x="256.2" y="40.699999999999996" font-size="4.7" text-anchor="start" font-weight="bold" font-style="normal" fill="#111" stroke="#111" stroke-width="0.16">M0</text>
<rect x="250.50" y="43.50" width="3.70" height="2.60" fill="#1414f0"/>
<text x="256.2" y="46.4" font-size="4.7" text-anchor="start" font-weight="bold" font-style="normal" fill="#111" stroke="#111" stroke-width="0.16">M1</text>
<rect x="250.50" y="49.20" width="3.70" height="2.60" fill="#f01414"/>
<text x="256.2" y="52.099999999999994" font-size="4.7" text-anchor="start" font-weight="bold" font-style="normal" fill="#111" stroke="#111" stroke-width="0.16">M2a</text>
<line x1="302.7" y1="37.1" x2="302.7" y2="84.3" stroke="#111" stroke-width="1.15"/>
<line x1="302.7" y1="83.8" x2="349.4" y2="83.8" stroke="#111" stroke-width="1.05"/>
<line x1="301.09999999999997" y1="37.5" x2="302.7" y2="37.5" stroke="#111" stroke-width="0.9"/>
<line x1="301.09999999999997" y1="83.8" x2="302.7" y2="83.8" stroke="#111" stroke-width="0.9"/>
<line x1="301.42" y1="49.075" x2="302.7" y2="49.075" stroke="#111" stroke-width="0.7"/>
<line x1="301.42" y1="60.65" x2="302.7" y2="60.65" stroke="#111" stroke-width="0.7"/>
<line x1="301.42" y1="72.225" x2="302.7" y2="72.225" stroke="#111" stroke-width="0.7"/>
<text x="325.3" y="33.2" font-size="6.2" text-anchor="middle" font-weight="normal" font-style="normal" fill="#111" stroke="#111" stroke-width="0.30">TGF-β1</text>
<text x="301.2" y="39.336" font-size="5.1" text-anchor="end" font-weight="bold" font-style="normal" fill="#111" stroke="#111" stroke-width="0.18">2</text>
<text x="301.2" y="85.636" font-size="5.1" text-anchor="end" font-weight="bold" font-style="normal" fill="#111" stroke="#111" stroke-width="0.18">0</text>
<rect x="305.10" y="83.40" width="10.80" height="0.40" fill="#ff9410"/>
<rect x="320.50" y="83.30" width="10.80" height="0.50" fill="#1414f0"/>
<line x1="342.4" y1="59.3" x2="342.4" y2="53.3" stroke="#222" stroke-width="1.0"/>
<line x1="339.376" y1="53.3" x2="345.424" y2="53.3" stroke="#222" stroke-width="1.0"/>
<rect x="337.00" y="59.30" width="10.80" height="24.50" fill="#f01414"/>
<line x1="310.5" y1="83.8" x2="310.5" y2="85.1" stroke="#111" stroke-width="0.6"/>
<text x="310.5" y="90.2" font-size="5.1" text-anchor="middle" font-weight="bold" font-style="normal" fill="#111" stroke="#111" stroke-width="0.18">M0</text>
<line x1="325.9" y1="83.8" x2="325.9" y2="85.1" stroke="#111" stroke-width="0.6"/>
<text x="325.9" y="90.2" font-size="5.1" text-anchor="middle" font-weight="bold" font-style="normal" fill="#111" stroke="#111" stroke-width="0.18">M1</text>
<line x1="341.9" y1="83.8" x2="341.9" y2="85.1" stroke="#111" stroke-width="0.6"/>
<text x="341.9" y="90.2" font-size="5.1" text-anchor="middle" font-weight="bold" font-style="normal" fill="#111" stroke="#111" stroke-width="0.18">M2a</text>
<line x1="357.2" y1="37.1" x2="357.2" y2="84.3" stroke="#111" stroke-width="1.15"/>
<line x1="357.2" y1="83.8" x2="403.6" y2="83.8" stroke="#111" stroke-width="1.05"/>
<line x1="355.59999999999997" y1="37.5" x2="357.2" y2="37.5" stroke="#111" stroke-width="0.9"/>
<line x1="355.59999999999997" y1="83.8" x2="357.2" y2="83.8" stroke="#111" stroke-width="0.9"/>
<line x1="355.92" y1="49.075" x2="357.2" y2="49.075" stroke="#111" stroke-width="0.7"/>
<line x1="355.92" y1="60.65" x2="357.2" y2="60.65" stroke="#111" stroke-width="0.7"/>
<line x1="355.92" y1="72.225" x2="357.2" y2="72.225" stroke="#111" stroke-width="0.7"/>
<text x="379.8" y="33.2" font-size="6.2" text-anchor="middle" font-weight="normal" font-style="normal" fill="#111" stroke="#111" stroke-width="0.30">PDL1</text>
<text x="355.7" y="39.336" font-size="5.1" text-anchor="end" font-weight="bold" font-style="normal" fill="#111" stroke="#111" stroke-width="0.18">2</text>
<text x="355.7" y="85.636" font-size="5.1" text-anchor="end" font-weight="bold" font-style="normal" fill="#111" stroke="#111" stroke-width="0.18">0</text>
<rect x="359.90" y="83.40" width="10.80" height="0.40" fill="#ff9410"/>
<line x1="381.4" y1="50.3" x2="381.4" y2="48.2" stroke="#222" stroke-width="1.0"/>
<line x1="378.376" y1="48.2" x2="384.424" y2="48.2" stroke="#222" stroke-width="1.0"/>
<rect x="376.00" y="50.30" width="10.80" height="33.50" fill="#1414f0"/>
<line x1="396.7" y1="79.9" x2="396.7" y2="77.0" stroke="#222" stroke-width="1.0"/>
<line x1="393.676" y1="77.0" x2="399.724" y2="77.0" stroke="#222" stroke-width="1.0"/>
<rect x="391.30" y="79.90" width="10.80" height="3.90" fill="#f01414"/>
<line x1="365.3" y1="83.8" x2="365.3" y2="85.1" stroke="#111" stroke-width="0.6"/>
<text x="365.3" y="90.2" font-size="5.1" text-anchor="middle" font-weight="bold" font-style="normal" fill="#111" stroke="#111" stroke-width="0.18">M0</text>
<line x1="380.9" y1="83.8" x2="380.9" y2="85.1" stroke="#111" stroke-width="0.6"/>
<text x="380.9" y="90.2" font-size="5.1" text-anchor="middle" font-weight="bold" font-style="normal" fill="#111" stroke="#111" stroke-width="0.18">M1</text>
<line x1="396.5" y1="83.8" x2="396.5" y2="85.1" stroke="#111" stroke-width="0.6"/>
<text x="396.5" y="90.2" font-size="5.1" text-anchor="middle" font-weight="bold" font-style="normal" fill="#111" stroke="#111" stroke-width="0.18">M2a</text>
<line x1="412.8" y1="37.1" x2="412.8" y2="84.3" stroke="#111" stroke-width="1.15"/>
<line x1="412.8" y1="83.8" x2="459.6" y2="83.8" stroke="#111" stroke-width="1.05"/>
<line x1="411.2" y1="37.5" x2="412.8" y2="37.5" stroke="#111" stroke-width="0.9"/>
<line x1="411.2" y1="83.8" x2="412.8" y2="83.8" stroke="#111" stroke-width="0.9"/>
<line x1="411.52000000000004" y1="49.075" x2="412.8" y2="49.075" stroke="#111" stroke-width="0.7"/>
<line x1="411.52000000000004" y1="60.65" x2="412.8" y2="60.65" stroke="#111" stroke-width="0.7"/>
<line x1="411.52000000000004" y1="72.225" x2="412.8" y2="72.225" stroke="#111" stroke-width="0.7"/>
<text x="435.3" y="33.2" font-size="6.2" text-anchor="middle" font-weight="normal" font-style="normal" fill="#111" stroke="#111" stroke-width="0.30">PDL2</text>
<text x="411.3" y="39.336" font-size="5.1" text-anchor="end" font-weight="bold" font-style="normal" fill="#111" stroke="#111" stroke-width="0.18">2</text>
<text x="411.3" y="85.636" font-size="5.1" text-anchor="end" font-weight="bold" font-style="normal" fill="#111" stroke="#111" stroke-width="0.18">0</text>
<rect x="415.90" y="83.40" width="10.80" height="0.40" fill="#ff9410"/>
<rect x="430.70" y="83.20" width="10.80" height="0.60" fill="#1414f0"/>
<line x1="452.2" y1="58.0" x2="452.2" y2="48.2" stroke="#222" stroke-width="1.0"/>
<line x1="449.176" y1="48.2" x2="455.224" y2="48.2" stroke="#222" stroke-width="1.0"/>
<rect x="446.80" y="58.00" width="10.80" height="25.80" fill="#f01414"/>
<line x1="421.3" y1="83.8" x2="421.3" y2="85.1" stroke="#111" stroke-width="0.6"/>
<text x="421.3" y="90.2" font-size="5.1" text-anchor="middle" font-weight="bold" font-style="normal" fill="#111" stroke="#111" stroke-width="0.18">M0</text>
<line x1="436.1" y1="83.8" x2="436.1" y2="85.1" stroke="#111" stroke-width="0.6"/>
<text x="436.1" y="90.2" font-size="5.1" text-anchor="middle" font-weight="bold" font-style="normal" fill="#111" stroke="#111" stroke-width="0.18">M1</text>
<line x1="451.9" y1="83.8" x2="451.9" y2="85.1" stroke="#111" stroke-width="0.6"/>
<text x="451.9" y="90.2" font-size="5.1" text-anchor="middle" font-weight="bold" font-style="normal" fill="#111" stroke="#111" stroke-width="0.18">M2a</text>
<line x1="234.4" y1="172.7" x2="234.4" y2="124.6" stroke="#111" stroke-width="1.15"/>
<polygon points="230.50,125.60 238.30,125.60 234.40,115.00" fill="#111"/>
<line x1="233.9" y1="172.7" x2="461.59999999999997" y2="172.7" stroke="#111" stroke-width="1.15"/>
<polygon points="460.60,169.10 460.60,176.30 471.40,172.70" fill="#111"/>
<line x1="414.7" y1="172.7" x2="414.7" y2="123.9" stroke="#111" stroke-width="1.15"/>
<polygon points="410.70,124.90 418.70,124.90 414.70,114.50" fill="#111"/>
<text x="354.6" y="179.3" font-size="6.25" text-anchor="middle" font-weight="normal" font-style="normal" fill="#111" stroke="#111" stroke-width="0.30">Treatment</text>
<text x="233.0" y="154.3" font-size="6.8" text-anchor="middle" font-weight="normal" font-style="normal" fill="#111" transform="rotate(-90 233.0 154.3)" stroke="#111" stroke-width="0.37">(x10)</text>
<text x="411.8" y="147.1" font-size="6.5" text-anchor="middle" font-weight="normal" font-style="normal" fill="#111" transform="rotate(-90 411.8 147.1)" stroke="#111" stroke-width="0.36">(x10<tspan dy="-2.0" font-size="4.4">9</tspan><tspan dy="2.0">)</tspan></text>
<line x1="246.5" y1="114.5" x2="246.5" y2="161.7" stroke="#111" stroke-width="1.15"/>
<line x1="246.5" y1="161.2" x2="294.0" y2="161.2" stroke="#111" stroke-width="1.05"/>
<line x1="244.9" y1="114.9" x2="246.5" y2="114.9" stroke="#111" stroke-width="0.9"/>
<line x1="244.9" y1="161.2" x2="246.5" y2="161.2" stroke="#111" stroke-width="0.9"/>
<line x1="245.22" y1="126.475" x2="246.5" y2="126.475" stroke="#111" stroke-width="0.7"/>
<line x1="245.22" y1="138.05" x2="246.5" y2="138.05" stroke="#111" stroke-width="0.7"/>
<line x1="245.22" y1="149.625" x2="246.5" y2="149.625" stroke="#111" stroke-width="0.7"/>
<text x="269.6" y="110.8" font-size="6.2" text-anchor="middle" font-weight="normal" font-style="normal" fill="#111" stroke="#111" stroke-width="0.30">IL-10</text>
<text x="245.0" y="116.736" font-size="5.1" text-anchor="end" font-weight="bold" font-style="normal" fill="#111" stroke="#111" stroke-width="0.18">2</text>
<text x="245.0" y="163.036" font-size="5.1" text-anchor="end" font-weight="bold" font-style="normal" fill="#111" stroke="#111" stroke-width="0.18">0</text>
<line x1="255.5" y1="136.0" x2="255.5" y2="121.3" stroke="#222" stroke-width="1.0"/>
<line x1="252.476" y1="121.3" x2="258.524" y2="121.3" stroke="#222" stroke-width="1.0"/>
<rect x="250.10" y="136.00" width="10.80" height="25.20" fill="#ff9410"/>
<line x1="271.0" y1="138.2" x2="271.0" y2="128.2" stroke="#222" stroke-width="1.0"/>
<line x1="267.976" y1="128.2" x2="274.024" y2="128.2" stroke="#222" stroke-width="1.0"/>
<rect x="265.60" y="138.20" width="10.80" height="23.00" fill="#1414f0"/>
<line x1="286.5" y1="150.4" x2="286.5" y2="146.2" stroke="#222" stroke-width="1.0"/>
<line x1="283.476" y1="146.2" x2="289.524" y2="146.2" stroke="#222" stroke-width="1.0"/>
<rect x="281.10" y="150.40" width="10.80" height="10.80" fill="#f01414"/>
<line x1="254.7" y1="161.2" x2="254.7" y2="162.5" stroke="#111" stroke-width="0.6"/>
<text x="254.7" y="167.6" font-size="5.1" text-anchor="middle" font-weight="bold" font-style="normal" fill="#111" stroke="#111" stroke-width="0.18">M0</text>
<line x1="270.3" y1="161.2" x2="270.3" y2="162.5" stroke="#111" stroke-width="0.6"/>
<text x="270.3" y="167.6" font-size="5.1" text-anchor="middle" font-weight="bold" font-style="normal" fill="#111" stroke="#111" stroke-width="0.18">M1</text>
<line x1="286.3" y1="161.2" x2="286.3" y2="162.5" stroke="#111" stroke-width="0.6"/>
<text x="286.3" y="167.6" font-size="5.1" text-anchor="middle" font-weight="bold" font-style="normal" fill="#111" stroke="#111" stroke-width="0.18">M2a</text>
<line x1="302.7" y1="114.5" x2="302.7" y2="161.7" stroke="#111" stroke-width="1.15"/>
<line x1="302.7" y1="161.2" x2="349.4" y2="161.2" stroke="#111" stroke-width="1.05"/>
<line x1="301.09999999999997" y1="114.9" x2="302.7" y2="114.9" stroke="#111" stroke-width="0.9"/>
<line x1="301.09999999999997" y1="161.2" x2="302.7" y2="161.2" stroke="#111" stroke-width="0.9"/>
<line x1="301.42" y1="126.475" x2="302.7" y2="126.475" stroke="#111" stroke-width="0.7"/>
<line x1="301.42" y1="138.05" x2="302.7" y2="138.05" stroke="#111" stroke-width="0.7"/>
<line x1="301.42" y1="149.625" x2="302.7" y2="149.625" stroke="#111" stroke-width="0.7"/>
<text x="325.3" y="110.8" font-size="6.2" text-anchor="middle" font-weight="normal" font-style="normal" fill="#111" stroke="#111" stroke-width="0.30">Nos2</text>
<text x="301.2" y="116.736" font-size="5.1" text-anchor="end" font-weight="bold" font-style="normal" fill="#111" stroke="#111" stroke-width="0.18">1</text>
<text x="301.2" y="163.036" font-size="5.1" text-anchor="end" font-weight="bold" font-style="normal" fill="#111" stroke="#111" stroke-width="0.18">0</text>
<rect x="304.70" y="160.90" width="10.80" height="0.30" fill="#ff9410"/>
<line x1="327.0" y1="138.0" x2="327.0" y2="133.4" stroke="#222" stroke-width="1.0"/>
<line x1="323.976" y1="133.4" x2="330.024" y2="133.4" stroke="#222" stroke-width="1.0"/>
<rect x="321.60" y="138.00" width="10.80" height="23.20" fill="#1414f0"/>
<rect x="336.40" y="160.90" width="10.80" height="0.30" fill="#f01414"/>
<line x1="310.1" y1="161.2" x2="310.1" y2="162.5" stroke="#111" stroke-width="0.6"/>
<text x="310.1" y="167.6" font-size="5.1" text-anchor="middle" font-weight="bold" font-style="normal" fill="#111" stroke="#111" stroke-width="0.18">M0</text>
<line x1="326.3" y1="161.2" x2="326.3" y2="162.5" stroke="#111" stroke-width="0.6"/>
<text x="326.3" y="167.6" font-size="5.1" text-anchor="middle" font-weight="bold" font-style="normal" fill="#111" stroke="#111" stroke-width="0.18">M1</text>
<line x1="341.8" y1="161.2" x2="341.8" y2="162.5" stroke="#111" stroke-width="0.6"/>
<text x="341.8" y="167.6" font-size="5.1" text-anchor="middle" font-weight="bold" font-style="normal" fill="#111" stroke="#111" stroke-width="0.18">M2a</text>
<line x1="357.4" y1="114.5" x2="357.4" y2="161.7" stroke="#111" stroke-width="1.15"/>
<line x1="357.4" y1="161.2" x2="404.0" y2="161.2" stroke="#111" stroke-width="1.05"/>
<line x1="355.79999999999995" y1="114.9" x2="357.4" y2="114.9" stroke="#111" stroke-width="0.9"/>
<line x1="355.79999999999995" y1="161.2" x2="357.4" y2="161.2" stroke="#111" stroke-width="0.9"/>
<line x1="356.12" y1="124.16" x2="357.4" y2="124.16" stroke="#111" stroke-width="0.7"/>
<line x1="356.12" y1="133.42" x2="357.4" y2="133.42" stroke="#111" stroke-width="0.7"/>
<line x1="356.12" y1="142.68" x2="357.4" y2="142.68" stroke="#111" stroke-width="0.7"/>
<line x1="356.12" y1="151.94" x2="357.4" y2="151.94" stroke="#111" stroke-width="0.7"/>
<text x="380.3" y="110.8" font-size="6.2" text-anchor="middle" font-weight="normal" font-style="normal" fill="#111" stroke="#111" stroke-width="0.30">Fizz</text>
<text x="355.9" y="116.736" font-size="5.1" text-anchor="end" font-weight="bold" font-style="normal" fill="#111" stroke="#111" stroke-width="0.18">5</text>
<text x="355.9" y="163.036" font-size="5.1" text-anchor="end" font-weight="bold" font-style="normal" fill="#111" stroke="#111" stroke-width="0.18">0</text>
<rect x="359.80" y="160.80" width="10.80" height="0.40" fill="#ff9410"/>
<rect x="375.30" y="160.60" width="10.80" height="0.60" fill="#1414f0"/>
<line x1="397.1" y1="130.7" x2="397.1" y2="119.2" stroke="#222" stroke-width="1.0"/>
<line x1="394.076" y1="119.2" x2="400.124" y2="119.2" stroke="#222" stroke-width="1.0"/>
<rect x="391.70" y="130.70" width="10.80" height="30.50" fill="#f01414"/>
<line x1="365.2" y1="161.2" x2="365.2" y2="162.5" stroke="#111" stroke-width="0.6"/>
<text x="365.2" y="167.6" font-size="5.1" text-anchor="middle" font-weight="bold" font-style="normal" fill="#111" stroke="#111" stroke-width="0.18">M0</text>
<line x1="380.7" y1="161.2" x2="380.7" y2="162.5" stroke="#111" stroke-width="0.6"/>
<text x="380.7" y="167.6" font-size="5.1" text-anchor="middle" font-weight="bold" font-style="normal" fill="#111" stroke="#111" stroke-width="0.18">M1</text>
<line x1="396.9" y1="161.2" x2="396.9" y2="162.5" stroke="#111" stroke-width="0.6"/>
<text x="396.9" y="167.6" font-size="5.1" text-anchor="middle" font-weight="bold" font-style="normal" fill="#111" stroke="#111" stroke-width="0.18">M2a</text>
<line x1="428.2" y1="114.5" x2="428.2" y2="161.7" stroke="#111" stroke-width="1.15"/>
<line x1="428.2" y1="161.2" x2="474.5" y2="161.2" stroke="#111" stroke-width="1.05"/>
<line x1="426.59999999999997" y1="114.9" x2="428.2" y2="114.9" stroke="#111" stroke-width="0.9"/>
<line x1="426.59999999999997" y1="161.2" x2="428.2" y2="161.2" stroke="#111" stroke-width="0.9"/>
<line x1="426.92" y1="124.16" x2="428.2" y2="124.16" stroke="#111" stroke-width="0.7"/>
<line x1="426.92" y1="133.42" x2="428.2" y2="133.42" stroke="#111" stroke-width="0.7"/>
<line x1="426.92" y1="142.68" x2="428.2" y2="142.68" stroke="#111" stroke-width="0.7"/>
<line x1="426.92" y1="151.94" x2="428.2" y2="151.94" stroke="#111" stroke-width="0.7"/>
<text x="450.4" y="110.8" font-size="6.2" text-anchor="middle" font-weight="normal" font-style="normal" fill="#111" stroke="#111" stroke-width="0.30">YM1</text>
<text x="426.7" y="116.736" font-size="5.1" text-anchor="end" font-weight="bold" font-style="normal" fill="#111" stroke="#111" stroke-width="0.18">25</text>
<text x="426.7" y="163.036" font-size="5.1" text-anchor="end" font-weight="bold" font-style="normal" fill="#111" stroke="#111" stroke-width="0.18">0</text>
<rect x="430.50" y="160.80" width="10.80" height="0.40" fill="#ff9410"/>
<rect x="445.70" y="160.60" width="10.80" height="0.60" fill="#1414f0"/>
<line x1="467.7" y1="134.7" x2="467.7" y2="120.5" stroke="#222" stroke-width="1.0"/>
<line x1="464.676" y1="120.5" x2="470.724" y2="120.5" stroke="#222" stroke-width="1.0"/>
<rect x="462.30" y="134.70" width="10.80" height="26.50" fill="#f01414"/>
<line x1="435.9" y1="161.2" x2="435.9" y2="162.5" stroke="#111" stroke-width="0.6"/>
<text x="435.9" y="167.6" font-size="5.1" text-anchor="middle" font-weight="bold" font-style="normal" fill="#111" stroke="#111" stroke-width="0.18">M0</text>
<line x1="451.1" y1="161.2" x2="451.1" y2="162.5" stroke="#111" stroke-width="0.6"/>
<text x="451.1" y="167.6" font-size="5.1" text-anchor="middle" font-weight="bold" font-style="normal" fill="#111" stroke="#111" stroke-width="0.18">M1</text>
<line x1="467.2" y1="161.2" x2="467.2" y2="162.5" stroke="#111" stroke-width="0.6"/>
<text x="467.2" y="167.6" font-size="5.1" text-anchor="middle" font-weight="bold" font-style="normal" fill="#111" stroke="#111" stroke-width="0.18">M2a</text>
<text x="215.6" y="187.6" font-size="12.3" text-anchor="start" font-weight="normal" font-style="normal" fill="#111" stroke="#111" stroke-width="0.60">E</text>
<path d="M224.30,211.49 L224.3,211.5 L225.1,211.5 L225.9,211.5 L226.7,211.5 L227.5,211.5 L228.3,211.5 L229.1,211.5 L229.9,211.5 L230.7,211.5 L231.5,211.5 L232.3,211.5 L233.1,211.5 L233.9,211.5 L234.7,211.5 L235.5,211.5 L236.3,211.5 L237.1,211.5 L237.9,211.5 L238.7,211.5 L239.5,211.5 L240.3,211.5 L241.1,211.5 L241.9,211.5 L242.7,211.5 L243.5,211.5 L244.3,211.4 L245.1,211.1 L245.9,210.1 L246.7,208.0 L247.5,204.3 L248.3,200.2 L249.1,197.7 L249.9,197.7 L250.8,198.8 L251.6,200.7 L252.4,202.9 L253.2,205.1 L254.0,207.1 L254.8,208.7 L255.6,209.8 L256.4,210.5 L257.2,211.0 L258.0,211.3 L258.8,211.4 L259.6,211.4 L260.4,211.5 L261.2,211.5 L262.0,211.5 L262.8,211.5 L263.6,211.5 L264.4,211.5 L265.2,211.5 L266.0,211.5 L266.8,211.5 L267.6,211.5 L268.4,211.5 L269.2,211.5 L270.0,211.5 L270.8,211.5 L271.6,211.5 L272.4,211.5 L273.2,211.5 L274.0,211.5 L274.8,211.5 L275.6,211.5 L276.4,211.5 L276.40,211.49 Z" fill="#dddddd" fill-opacity="0.9" stroke="none"/>
<path d="M224.3,211.5 L225.1,211.5 L225.9,211.5 L226.7,211.5 L227.5,211.5 L228.3,211.5 L229.1,211.5 L229.9,211.5 L230.7,211.5 L231.5,211.5 L232.3,211.5 L233.1,211.5 L233.9,211.5 L234.7,211.5 L235.5,211.5 L236.3,211.5 L237.1,211.5 L237.9,211.5 L238.7,211.5 L239.5,211.5 L240.3,211.5 L241.1,211.5 L241.9,211.5 L242.7,211.5 L243.5,211.5 L244.3,211.4 L245.1,211.1 L245.9,210.1 L246.7,208.0 L247.5,204.3 L248.3,200.2 L249.1,197.7 L249.9,197.7 L250.8,198.8 L251.6,200.7 L252.4,202.9 L253.2,205.1 L254.0,207.1 L254.8,208.7 L255.6,209.8 L256.4,210.5 L257.2,211.0 L258.0,211.3 L258.8,211.4 L259.6,211.4 L260.4,211.5 L261.2,211.5 L262.0,211.5 L262.8,211.5 L263.6,211.5 L264.4,211.5 L265.2,211.5 L266.0,211.5 L266.8,211.5 L267.6,211.5 L268.4,211.5 L269.2,211.5 L270.0,211.5 L270.8,211.5 L271.6,211.5 L272.4,211.5 L273.2,211.5 L274.0,211.5 L274.8,211.5 L275.6,211.5 L276.4,211.5" fill="none" stroke="#a8a8a8" stroke-width="1.05" stroke-linejoin="round"/>
<path d="M224.30,219.49 L224.3,219.5 L225.1,219.5 L225.9,219.5 L226.7,219.5 L227.5,219.5 L228.3,219.5 L229.1,219.5 L229.9,219.5 L230.7,219.5 L231.5,219.5 L232.3,219.5 L233.1,219.5 L233.9,219.5 L234.7,219.5 L235.5,219.5 L236.3,219.5 L237.1,219.5 L237.9,219.5 L238.7,219.5 L239.5,219.5 L240.3,219.5 L241.1,219.5 L241.9,219.5 L242.7,219.5 L243.5,219.5 L244.3,219.5 L245.1,219.5 L245.9,219.5 L246.7,219.5 L247.5,219.5 L248.3,219.5 L249.1,219.5 L249.9,219.5 L250.8,219.5 L251.6,219.5 L252.4,219.5 L253.2,219.5 L254.0,219.5 L254.8,219.4 L255.6,219.1 L256.4,218.6 L257.2,217.6 L258.0,215.9 L258.8,213.4 L259.6,210.5 L260.4,207.9 L261.2,206.4 L262.0,206.7 L262.8,209.2 L263.6,212.7 L264.4,215.8 L265.2,217.9 L266.0,218.9 L266.8,219.3 L267.6,219.4 L268.4,219.5 L269.2,219.5 L270.0,219.5 L270.8,219.5 L271.6,219.5 L272.4,219.5 L273.2,219.5 L274.0,219.5 L274.8,219.5 L275.6,219.5 L276.4,219.5 L276.40,219.49 Z" fill="#fbd9ad" fill-opacity="0.9" stroke="none"/>
<path d="M224.3,219.5 L225.1,219.5 L225.9,219.5 L226.7,219.5 L227.5,219.5 L228.3,219.5 L229.1,219.5 L229.9,219.5 L230.7,219.5 L231.5,219.5 L232.3,219.5 L233.1,219.5 L233.9,219.5 L234.7,219.5 L235.5,219.5 L236.3,219.5 L237.1,219.5 L237.9,219.5 L238.7,219.5 L239.5,219.5 L240.3,219.5 L241.1,219.5 L241.9,219.5 L242.7,219.5 L243.5,219.5 L244.3,219.5 L245.1,219.5 L245.9,219.5 L246.7,219.5 L247.5,219.5 L248.3,219.5 L249.1,219.5 L249.9,219.5 L250.8,219.5 L251.6,219.5 L252.4,219.5 L253.2,219.5 L254.0,219.5 L254.8,219.4 L255.6,219.1 L256.4,218.6 L257.2,217.6 L258.0,215.9 L258.8,213.4 L259.6,210.5 L260.4,207.9 L261.2,206.4 L262.0,206.7 L262.8,209.2 L263.6,212.7 L264.4,215.8 L265.2,217.9 L266.0,218.9 L266.8,219.3 L267.6,219.4 L268.4,219.5 L269.2,219.5 L270.0,219.5 L270.8,219.5 L271.6,219.5 L272.4,219.5 L273.2,219.5 L274.0,219.5 L274.8,219.5 L275.6,219.5 L276.4,219.5" fill="none" stroke="#f0a030" stroke-width="1.05" stroke-linejoin="round"/>
<path d="M224.30,227.73 L224.3,227.7 L225.1,227.7 L225.9,227.7 L226.7,227.7 L227.5,227.7 L228.3,227.7 L229.1,227.7 L229.9,227.7 L230.7,227.7 L231.5,227.7 L232.3,227.7 L233.1,227.7 L233.9,227.7 L234.7,227.7 L235.5,227.7 L236.3,227.7 L237.1,227.7 L237.9,227.7 L238.7,227.7 L239.5,227.7 L240.3,227.7 L241.1,227.7 L241.9,227.7 L242.7,227.7 L243.5,227.7 L244.3,227.7 L245.1,227.7 L245.9,227.7 L246.7,227.7 L247.5,227.7 L248.3,227.7 L249.1,227.7 L249.9,227.7 L250.8,227.7 L251.6,227.7 L252.4,227.6 L253.2,227.3 L254.0,226.7 L254.8,225.7 L255.6,224.1 L256.4,221.9 L257.2,219.3 L258.0,216.9 L258.8,215.2 L259.6,214.8 L260.4,216.2 L261.2,218.9 L262.0,222.0 L262.8,224.6 L263.6,226.3 L264.4,227.1 L265.2,227.5 L266.0,227.7 L266.8,227.7 L267.6,227.7 L268.4,227.7 L269.2,227.7 L270.0,227.7 L270.8,227.7 L271.6,227.7 L272.4,227.7 L273.2,227.7 L274.0,227.7 L274.8,227.7 L275.6,227.7 L276.4,227.7 L276.40,227.73 Z" fill="#a6a6f4" fill-opacity="0.9" stroke="none"/>
<path d="M224.3,227.7 L225.1,227.7 L225.9,227.7 L226.7,227.7 L227.5,227.7 L228.3,227.7 L229.1,227.7 L229.9,227.7 L230.7,227.7 L231.5,227.7 L232.3,227.7 L233.1,227.7 L233.9,227.7 L234.7,227.7 L235.5,227.7 L236.3,227.7 L237.1,227.7 L237.9,227.7 L238.7,227.7 L239.5,227.7 L240.3,227.7 L241.1,227.7 L241.9,227.7 L242.7,227.7 L243.5,227.7 L244.3,227.7 L245.1,227.7 L245.9,227.7 L246.7,227.7 L247.5,227.7 L248.3,227.7 L249.1,227.7 L249.9,227.7 L250.8,227.7 L251.6,227.7 L252.4,227.6 L253.2,227.3 L254.0,226.7 L254.8,225.7 L255.6,224.1 L256.4,221.9 L257.2,219.3 L258.0,216.9 L258.8,215.2 L259.6,214.8 L260.4,216.2 L261.2,218.9 L262.0,222.0 L262.8,224.6 L263.6,226.3 L264.4,227.1 L265.2,227.5 L266.0,227.7 L266.8,227.7 L267.6,227.7 L268.4,227.7 L269.2,227.7 L270.0,227.7 L270.8,227.7 L271.6,227.7 L272.4,227.7 L273.2,227.7 L274.0,227.7 L274.8,227.7 L275.6,227.7 L276.4,227.7" fill="none" stroke="#1c1cd8" stroke-width="1.05" stroke-linejoin="round"/>
<path d="M224.30,236.30 L224.3,236.3 L225.1,236.3 L225.9,236.3 L226.7,236.3 L227.5,236.3 L228.3,236.3 L229.1,236.3 L229.9,236.3 L230.7,236.3 L231.5,236.3 L232.3,236.3 L233.1,236.3 L233.9,236.3 L234.7,236.3 L235.5,236.3 L236.3,236.3 L237.1,236.3 L237.9,236.3 L238.7,236.3 L239.5,236.3 L240.3,236.2 L241.1,236.2 L241.9,236.1 L242.7,236.0 L243.5,235.9 L244.3,235.7 L245.1,235.5 L245.9,235.2 L246.7,234.7 L247.5,234.2 L248.3,233.6 L249.1,232.8 L249.9,231.9 L250.8,231.0 L251.6,229.9 L252.4,228.8 L253.2,227.7 L254.0,226.6 L254.8,225.6 L255.6,224.8 L256.4,224.2 L257.2,223.7 L258.0,223.6 L258.8,223.8 L259.6,224.5 L260.4,225.5 L261.2,226.7 L262.0,228.2 L262.8,229.6 L263.6,231.0 L264.4,232.3 L265.2,233.4 L266.0,234.2 L266.8,234.9 L267.6,235.4 L268.4,235.7 L269.2,235.9 L270.0,236.1 L270.8,236.2 L271.6,236.2 L272.4,236.3 L273.2,236.3 L274.0,236.3 L274.8,236.3 L275.6,236.3 L276.4,236.3 L276.40,236.30 Z" fill="#f9a6a6" fill-opacity="0.9" stroke="none"/>
<path d="M224.3,236.3 L225.1,236.3 L225.9,236.3 L226.7,236.3 L227.5,236.3 L228.3,236.3 L229.1,236.3 L229.9,236.3 L230.7,236.3 L231.5,236.3 L232.3,236.3 L233.1,236.3 L233.9,236.3 L234.7,236.3 L235.5,236.3 L236.3,236.3 L237.1,236.3 L237.9,236.3 L238.7,236.3 L239.5,236.3 L240.3,236.2 L241.1,236.2 L241.9,236.1 L242.7,236.0 L243.5,235.9 L244.3,235.7 L245.1,235.5 L245.9,235.2 L246.7,234.7 L247.5,234.2 L248.3,233.6 L249.1,232.8 L249.9,231.9 L250.8,231.0 L251.6,229.9 L252.4,228.8 L253.2,227.7 L254.0,226.6 L254.8,225.6 L255.6,224.8 L256.4,224.2 L257.2,223.7 L258.0,223.6 L258.8,223.8 L259.6,224.5 L260.4,225.5 L261.2,226.7 L262.0,228.2 L262.8,229.6 L263.6,231.0 L264.4,232.3 L265.2,233.4 L266.0,234.2 L266.8,234.9 L267.6,235.4 L268.4,235.7 L269.2,235.9 L270.0,236.1 L270.8,236.2 L271.6,236.2 L272.4,236.3 L273.2,236.3 L274.0,236.3 L274.8,236.3 L275.6,236.3 L276.4,236.3" fill="none" stroke="#e01c1c" stroke-width="1.05" stroke-linejoin="round"/>
<rect x="224.30" y="195.50" width="52.10" height="40.80" fill="none" stroke="#111" stroke-width="1.2"/>
<text x="250.35" y="192.2" font-size="6.5" text-anchor="middle" font-weight="bold" font-style="normal" fill="#1a1a1a" stroke="#1a1a1a" stroke-width="0.23">F4/80</text>
<text x="227.9" y="243.60000000000002" font-size="5.4" text-anchor="middle" font-weight="bold" font-style="normal" fill="#111" stroke="#111" stroke-width="0.19">10<tspan dy="-1.94" font-size="4.00">1</tspan></text>
<text x="238.85" y="243.60000000000002" font-size="5.4" text-anchor="middle" font-weight="bold" font-style="normal" fill="#111" stroke="#111" stroke-width="0.19">10<tspan dy="-1.94" font-size="4.00">2</tspan></text>
<text x="249.8" y="243.60000000000002" font-size="5.4" text-anchor="middle" font-weight="bold" font-style="normal" fill="#111" stroke="#111" stroke-width="0.19">10<tspan dy="-1.94" font-size="4.00">3</tspan></text>
<text x="260.75" y="243.60000000000002" font-size="5.4" text-anchor="middle" font-weight="bold" font-style="normal" fill="#111" stroke="#111" stroke-width="0.19">10<tspan dy="-1.94" font-size="4.00">4</tspan></text>
<text x="271.7" y="243.60000000000002" font-size="5.4" text-anchor="middle" font-weight="bold" font-style="normal" fill="#111" stroke="#111" stroke-width="0.19">10<tspan dy="-1.94" font-size="4.00">5</tspan></text>
<path d="M280.90,211.49 L280.9,211.5 L281.7,211.5 L282.5,211.5 L283.3,211.5 L284.1,211.5 L284.9,211.5 L285.7,211.5 L286.5,211.5 L287.3,211.5 L288.1,211.5 L288.9,211.5 L289.7,211.5 L290.5,211.5 L291.3,211.5 L292.1,211.5 L292.9,211.5 L293.7,211.5 L294.5,211.5 L295.3,211.5 L296.1,211.5 L296.9,211.5 L297.7,211.5 L298.5,211.5 L299.3,211.5 L300.1,211.5 L300.9,211.5 L301.7,211.5 L302.5,211.5 L303.3,211.5 L304.1,211.5 L304.9,211.5 L305.7,211.5 L306.5,211.5 L307.3,211.5 L308.1,211.5 L308.9,211.5 L309.7,211.5 L310.5,211.5 L311.3,211.5 L312.1,211.5 L312.9,211.5 L313.7,211.5 L314.5,211.5 L315.3,211.5 L316.1,211.5 L316.9,211.5 L317.7,211.5 L318.5,211.3 L319.3,210.8 L320.1,209.4 L320.9,206.3 L321.7,202.0 L322.5,198.4 L323.3,197.9 L324.1,200.6 L324.9,204.7 L325.7,208.2 L326.5,210.2 L327.3,211.1 L328.1,211.4 L328.9,211.5 L329.7,211.5 L330.5,211.5 L331.3,211.5 L332.1,211.5 L332.9,211.5 L333.7,211.5 L333.70,211.49 Z" fill="#dddddd" fill-opacity="0.9" stroke="none"/>
<path d="M280.9,211.5 L281.7,211.5 L282.5,211.5 L283.3,211.5 L284.1,211.5 L284.9,211.5 L285.7,211.5 L286.5,211.5 L287.3,211.5 L288.1,211.5 L288.9,211.5 L289.7,211.5 L290.5,211.5 L291.3,211.5 L292.1,211.5 L292.9,211.5 L293.7,211.5 L294.5,211.5 L295.3,211.5 L296.1,211.5 L296.9,211.5 L297.7,211.5 L298.5,211.5 L299.3,211.5 L300.1,211.5 L300.9,211.5 L301.7,211.5 L302.5,211.5 L303.3,211.5 L304.1,211.5 L304.9,211.5 L305.7,211.5 L306.5,211.5 L307.3,211.5 L308.1,211.5 L308.9,211.5 L309.7,211.5 L310.5,211.5 L311.3,211.5 L312.1,211.5 L312.9,211.5 L313.7,211.5 L314.5,211.5 L315.3,211.5 L316.1,211.5 L316.9,211.5 L317.7,211.5 L318.5,211.3 L319.3,210.8 L320.1,209.4 L320.9,206.3 L321.7,202.0 L322.5,198.4 L323.3,197.9 L324.1,200.6 L324.9,204.7 L325.7,208.2 L326.5,210.2 L327.3,211.1 L328.1,211.4 L328.9,211.5 L329.7,211.5 L330.5,211.5 L331.3,211.5 L332.1,211.5 L332.9,211.5 L333.7,211.5" fill="none" stroke="#a8a8a8" stroke-width="1.05" stroke-linejoin="round"/>
<path d="M280.90,219.49 L280.9,219.5 L281.7,219.5 L282.5,219.5 L283.3,219.5 L284.1,219.5 L284.9,219.5 L285.7,219.5 L286.5,219.5 L287.3,219.5 L288.1,219.5 L288.9,219.5 L289.7,219.5 L290.5,219.5 L291.3,219.5 L292.1,219.5 L292.9,219.5 L293.7,219.5 L294.5,219.5 L295.3,219.5 L296.1,219.5 L296.9,219.5 L297.7,219.5 L298.5,219.5 L299.3,219.5 L300.1,219.5 L300.9,219.5 L301.7,219.5 L302.5,219.4 L303.3,219.4 L304.1,219.3 L304.9,219.2 L305.7,219.0 L306.5,218.7 L307.3,218.3 L308.1,217.8 L308.9,217.2 L309.7,216.5 L310.5,215.7 L311.3,214.9 L312.1,214.0 L312.9,213.0 L313.7,211.8 L314.5,210.6 L315.3,209.4 L316.1,208.3 L316.9,207.4 L317.7,206.7 L318.5,206.3 L319.3,206.5 L320.1,207.3 L320.9,208.3 L321.7,209.2 L322.5,210.0 L323.3,210.9 L324.1,212.1 L324.9,213.6 L325.7,215.3 L326.5,216.8 L327.3,218.0 L328.1,218.7 L328.9,219.2 L329.7,219.4 L330.5,219.4 L331.3,219.5 L332.1,219.5 L332.9,219.5 L333.7,219.5 L333.70,219.49 Z" fill="#fbd9ad" fill-opacity="0.9" stroke="none"/>
<path d="M280.9,219.5 L281.7,219.5 L282.5,219.5 L283.3,219.5 L284.1,219.5 L284.9,219.5 L285.7,219.5 L286.5,219.5 L287.3,219.5 L288.1,219.5 L288.9,219.5 L289.7,219.5 L290.5,219.5 L291.3,219.5 L292.1,219.5 L292.9,219.5 L293.7,219.5 L294.5,219.5 L295.3,219.5 L296.1,219.5 L296.9,219.5 L297.7,219.5 L298.5,219.5 L299.3,219.5 L300.1,219.5 L300.9,219.5 L301.7,219.5 L302.5,219.4 L303.3,219.4 L304.1,219.3 L304.9,219.2 L305.7,219.0 L306.5,218.7 L307.3,218.3 L308.1,217.8 L308.9,217.2 L309.7,216.5 L310.5,215.7 L311.3,214.9 L312.1,214.0 L312.9,213.0 L313.7,211.8 L314.5,210.6 L315.3,209.4 L316.1,208.3 L316.9,207.4 L317.7,206.7 L318.5,206.3 L319.3,206.5 L320.1,207.3 L320.9,208.3 L321.7,209.2 L322.5,210.0 L323.3,210.9 L324.1,212.1 L324.9,213.6 L325.7,215.3 L326.5,216.8 L327.3,218.0 L328.1,218.7 L328.9,219.2 L329.7,219.4 L330.5,219.4 L331.3,219.5 L332.1,219.5 L332.9,219.5 L333.7,219.5" fill="none" stroke="#f0a030" stroke-width="1.05" stroke-linejoin="round"/>
<path d="M280.90,227.73 L280.9,227.7 L281.7,227.7 L282.5,227.7 L283.3,227.7 L284.1,227.7 L284.9,227.7 L285.7,227.7 L286.5,227.7 L287.3,227.7 L288.1,227.7 L288.9,227.7 L289.7,227.7 L290.5,227.7 L291.3,227.7 L292.1,227.7 L292.9,227.7 L293.7,227.7 L294.5,227.7 L295.3,227.7 L296.1,227.7 L296.9,227.7 L297.7,227.7 L298.5,227.7 L299.3,227.7 L300.1,227.7 L300.9,227.7 L301.7,227.7 L302.5,227.7 L303.3,227.7 L304.1,227.7 L304.9,227.7 L305.7,227.7 L306.5,227.7 L307.3,227.7 L308.1,227.7 L308.9,227.7 L309.7,227.7 L310.5,227.7 L311.3,227.7 L312.1,227.7 L312.9,227.7 L313.7,227.7 L314.5,227.7 L315.3,227.7 L316.1,227.6 L316.9,227.5 L317.7,227.3 L318.5,226.9 L319.3,226.4 L320.1,225.7 L320.9,224.6 L321.7,223.3 L322.5,221.8 L323.3,220.1 L324.1,218.3 L324.9,216.8 L325.7,215.6 L326.5,214.9 L327.3,214.9 L328.1,216.3 L328.9,218.8 L329.7,221.6 L330.5,224.1 L331.3,225.8 L332.1,226.8 L332.9,227.4 L333.7,227.6 L333.70,227.73 Z" fill="#a6a6f4" fill-opacity="0.9" stroke="none"/>
<path d="M280.9,227.7 L281.7,227.7 L282.5,227.7 L283.3,227.7 L284.1,227.7 L284.9,227.7 L285.7,227.7 L286.5,227.7 L287.3,227.7 L288.1,227.7 L288.9,227.7 L289.7,227.7 L290.5,227.7 L291.3,227.7 L292.1,227.7 L292.9,227.7 L293.7,227.7 L294.5,227.7 L295.3,227.7 L296.1,227.7 L296.9,227.7 L297.7,227.7 L298.5,227.7 L299.3,227.7 L300.1,227.7 L300.9,227.7 L301.7,227.7 L302.5,227.7 L303.3,227.7 L304.1,227.7 L304.9,227.7 L305.7,227.7 L306.5,227.7 L307.3,227.7 L308.1,227.7 L308.9,227.7 L309.7,227.7 L310.5,227.7 L311.3,227.7 L312.1,227.7 L312.9,227.7 L313.7,227.7 L314.5,227.7 L315.3,227.7 L316.1,227.6 L316.9,227.5 L317.7,227.3 L318.5,226.9 L319.3,226.4 L320.1,225.7 L320.9,224.6 L321.7,223.3 L322.5,221.8 L323.3,220.1 L324.1,218.3 L324.9,216.8 L325.7,215.6 L326.5,214.9 L327.3,214.9 L328.1,216.3 L328.9,218.8 L329.7,221.6 L330.5,224.1 L331.3,225.8 L332.1,226.8 L332.9,227.4 L333.7,227.6" fill="none" stroke="#1c1cd8" stroke-width="1.05" stroke-linejoin="round"/>
<path d="M280.90,236.30 L280.9,236.3 L281.7,236.3 L282.5,236.3 L283.3,236.3 L284.1,236.3 L284.9,236.3 L285.7,236.3 L286.5,236.3 L287.3,236.3 L288.1,236.3 L288.9,236.3 L289.7,236.3 L290.5,236.3 L291.3,236.3 L292.1,236.3 L292.9,236.3 L293.7,236.3 L294.5,236.3 L295.3,236.3 L296.1,236.3 L296.9,236.3 L297.7,236.3 L298.5,236.3 L299.3,236.3 L300.1,236.3 L300.9,236.3 L301.7,236.3 L302.5,236.3 L303.3,236.3 L304.1,236.3 L304.9,236.3 L305.7,236.3 L306.5,236.3 L307.3,236.3 L308.1,236.3 L308.9,236.3 L309.7,236.3 L310.5,236.3 L311.3,236.3 L312.1,236.3 L312.9,236.3 L313.7,236.2 L314.5,236.1 L315.3,236.0 L316.1,235.9 L316.9,235.6 L317.7,235.2 L318.5,234.6 L319.3,233.9 L320.1,232.9 L320.9,231.8 L321.7,230.4 L322.5,229.0 L323.3,227.5 L324.1,226.1 L324.9,224.8 L325.7,223.9 L326.5,223.4 L327.3,223.4 L328.1,224.4 L328.9,226.3 L329.7,228.7 L330.5,231.0 L331.3,233.0 L332.1,234.4 L332.9,235.3 L333.7,235.8 L333.70,236.30 Z" fill="#f9a6a6" fill-opacity="0.9" stroke="none"/>
<path d="M280.9,236.3 L281.7,236.3 L282.5,236.3 L283.3,236.3 L284.1,236.3 L284.9,236.3 L285.7,236.3 L286.5,236.3 L287.3,236.3 L288.1,236.3 L288.9,236.3 L289.7,236.3 L290.5,236.3 L291.3,236.3 L292.1,236.3 L292.9,236.3 L293.7,236.3 L294.5,236.3 L295.3,236.3 L296.1,236.3 L296.9,236.3 L297.7,236.3 L298.5,236.3 L299.3,236.3 L300.1,236.3 L300.9,236.3 L301.7,236.3 L302.5,236.3 L303.3,236.3 L304.1,236.3 L304.9,236.3 L305.7,236.3 L306.5,236.3 L307.3,236.3 L308.1,236.3 L308.9,236.3 L309.7,236.3 L310.5,236.3 L311.3,236.3 L312.1,236.3 L312.9,236.3 L313.7,236.2 L314.5,236.1 L315.3,236.0 L316.1,235.9 L316.9,235.6 L317.7,235.2 L318.5,234.6 L319.3,233.9 L320.1,232.9 L320.9,231.8 L321.7,230.4 L322.5,229.0 L323.3,227.5 L324.1,226.1 L324.9,224.8 L325.7,223.9 L326.5,223.4 L327.3,223.4 L328.1,224.4 L328.9,226.3 L329.7,228.7 L330.5,231.0 L331.3,233.0 L332.1,234.4 L332.9,235.3 L333.7,235.8" fill="none" stroke="#e01c1c" stroke-width="1.05" stroke-linejoin="round"/>
<rect x="280.90" y="195.50" width="52.80" height="40.80" fill="none" stroke="#111" stroke-width="1.2"/>
<text x="307.29999999999995" y="192.2" font-size="6.5" text-anchor="middle" font-weight="bold" font-style="normal" fill="#1a1a1a" stroke="#1a1a1a" stroke-width="0.23">CD11b</text>
<text x="284.5" y="243.60000000000002" font-size="5.4" text-anchor="middle" font-weight="bold" font-style="normal" fill="#111" stroke="#111" stroke-width="0.19">10<tspan dy="-1.94" font-size="4.00">1</tspan></text>
<text x="295.45" y="243.60000000000002" font-size="5.4" text-anchor="middle" font-weight="bold" font-style="normal" fill="#111" stroke="#111" stroke-width="0.19">10<tspan dy="-1.94" font-size="4.00">2</tspan></text>
<text x="306.4" y="243.60000000000002" font-size="5.4" text-anchor="middle" font-weight="bold" font-style="normal" fill="#111" stroke="#111" stroke-width="0.19">10<tspan dy="-1.94" font-size="4.00">3</tspan></text>
<text x="317.35" y="243.60000000000002" font-size="5.4" text-anchor="middle" font-weight="bold" font-style="normal" fill="#111" stroke="#111" stroke-width="0.19">10<tspan dy="-1.94" font-size="4.00">4</tspan></text>
<text x="328.3" y="243.60000000000002" font-size="5.4" text-anchor="middle" font-weight="bold" font-style="normal" fill="#111" stroke="#111" stroke-width="0.19">10<tspan dy="-1.94" font-size="4.00">5</tspan></text>
<path d="M336.80,211.49 L336.8,204.0 L337.6,204.1 L338.4,204.2 L339.2,204.3 L340.0,204.3 L340.8,204.2 L341.6,204.2 L342.5,204.1 L343.3,204.0 L344.1,203.8 L344.9,203.7 L345.7,203.5 L346.5,203.3 L347.3,203.1 L348.1,202.8 L348.9,202.5 L349.7,202.2 L350.5,201.8 L351.3,201.5 L352.1,201.1 L353.0,200.6 L353.8,200.2 L354.6,199.9 L355.4,199.5 L356.2,199.2 L357.0,198.9 L357.8,198.7 L358.6,198.6 L359.4,198.6 L360.2,198.7 L361.0,198.9 L361.8,199.3 L362.6,199.8 L363.5,200.4 L364.3,201.2 L365.1,202.0 L365.9,202.8 L366.7,203.7 L367.5,204.6 L368.3,205.4 L369.1,206.2 L369.9,206.9 L370.7,207.5 L371.5,208.0 L372.3,208.5 L373.1,208.9 L374.0,209.2 L374.8,209.5 L375.6,209.8 L376.4,210.0 L377.2,210.2 L378.0,210.4 L378.8,210.5 L379.6,210.7 L380.4,210.8 L381.2,210.9 L382.0,211.0 L382.8,211.1 L383.6,211.2 L384.5,211.3 L385.3,211.3 L386.1,211.4 L386.9,211.4 L387.7,211.4 L388.5,211.4 L389.3,211.5 L389.30,211.49 Z" fill="#dddddd" fill-opacity="0.9" stroke="none"/>
<path d="M336.8,204.0 L337.6,204.1 L338.4,204.2 L339.2,204.3 L340.0,204.3 L340.8,204.2 L341.6,204.2 L342.5,204.1 L343.3,204.0 L344.1,203.8 L344.9,203.7 L345.7,203.5 L346.5,203.3 L347.3,203.1 L348.1,202.8 L348.9,202.5 L349.7,202.2 L350.5,201.8 L351.3,201.5 L352.1,201.1 L353.0,200.6 L353.8,200.2 L354.6,199.9 L355.4,199.5 L356.2,199.2 L357.0,198.9 L357.8,198.7 L358.6,198.6 L359.4,198.6 L360.2,198.7 L361.0,198.9 L361.8,199.3 L362.6,199.8 L363.5,200.4 L364.3,201.2 L365.1,202.0 L365.9,202.8 L366.7,203.7 L367.5,204.6 L368.3,205.4 L369.1,206.2 L369.9,206.9 L370.7,207.5 L371.5,208.0 L372.3,208.5 L373.1,208.9 L374.0,209.2 L374.8,209.5 L375.6,209.8 L376.4,210.0 L377.2,210.2 L378.0,210.4 L378.8,210.5 L379.6,210.7 L380.4,210.8 L381.2,210.9 L382.0,211.0 L382.8,211.1 L383.6,211.2 L384.5,211.3 L385.3,211.3 L386.1,211.4 L386.9,211.4 L387.7,211.4 L388.5,211.4 L389.3,211.5" fill="none" stroke="#a8a8a8" stroke-width="1.05" stroke-linejoin="round"/>
<path d="M336.80,219.49 L336.8,218.3 L337.6,218.3 L338.4,218.4 L339.2,218.4 L340.0,218.5 L340.8,218.5 L341.6,218.5 L342.5,218.6 L343.3,218.6 L344.1,218.7 L344.9,218.7 L345.7,218.7 L346.5,218.8 L347.3,218.8 L348.1,218.8 L348.9,218.8 L349.7,218.9 L350.5,218.9 L351.3,218.9 L352.1,218.9 L353.0,218.9 L353.8,218.9 L354.6,218.9 L355.4,218.9 L356.2,218.7 L357.0,218.5 L357.8,218.0 L358.6,217.3 L359.4,216.3 L360.2,214.9 L361.0,213.2 L361.8,211.2 L362.6,209.3 L363.5,207.6 L364.3,206.5 L365.1,206.0 L365.9,206.3 L366.7,207.1 L367.5,208.3 L368.3,209.8 L369.1,211.4 L369.9,212.9 L370.7,214.3 L371.5,215.4 L372.3,216.2 L373.1,216.9 L374.0,217.3 L374.8,217.7 L375.6,218.0 L376.4,218.2 L377.2,218.4 L378.0,218.6 L378.8,218.7 L379.6,218.9 L380.4,219.0 L381.2,219.1 L382.0,219.2 L382.8,219.2 L383.6,219.3 L384.5,219.3 L385.3,219.3 L386.1,219.4 L386.9,219.4 L387.7,219.4 L388.5,219.4 L389.3,219.4 L389.30,219.49 Z" fill="#fbd9ad" fill-opacity="0.9" stroke="none"/>
<path d="M336.8,218.3 L337.6,218.3 L338.4,218.4 L339.2,218.4 L340.0,218.5 L340.8,218.5 L341.6,218.5 L342.5,218.6 L343.3,218.6 L344.1,218.7 L344.9,218.7 L345.7,218.7 L346.5,218.8 L347.3,218.8 L348.1,218.8 L348.9,218.8 L349.7,218.9 L350.5,218.9 L351.3,218.9 L352.1,218.9 L353.0,218.9 L353.8,218.9 L354.6,218.9 L355.4,218.9 L356.2,218.7 L357.0,218.5 L357.8,218.0 L358.6,217.3 L359.4,216.3 L360.2,214.9 L361.0,213.2 L361.8,211.2 L362.6,209.3 L363.5,207.6 L364.3,206.5 L365.1,206.0 L365.9,206.3 L366.7,207.1 L367.5,208.3 L368.3,209.8 L369.1,211.4 L369.9,212.9 L370.7,214.3 L371.5,215.4 L372.3,216.2 L373.1,216.9 L374.0,217.3 L374.8,217.7 L375.6,218.0 L376.4,218.2 L377.2,218.4 L378.0,218.6 L378.8,218.7 L379.6,218.9 L380.4,219.0 L381.2,219.1 L382.0,219.2 L382.8,219.2 L383.6,219.3 L384.5,219.3 L385.3,219.3 L386.1,219.4 L386.9,219.4 L387.7,219.4 L388.5,219.4 L389.3,219.4" fill="none" stroke="#f0a030" stroke-width="1.05" stroke-linejoin="round"/>
<path d="M336.80,227.73 L336.8,224.7 L337.6,224.9 L338.4,225.1 L339.2,225.2 L340.0,225.4 L340.8,225.5 L341.6,225.6 L342.5,225.7 L343.3,225.8 L344.1,225.8 L344.9,225.7 L345.7,225.7 L346.5,225.6 L347.3,225.4 L348.1,225.1 L348.9,224.8 L349.7,224.3 L350.5,223.8 L351.3,223.2 L352.1,222.4 L353.0,221.6 L353.8,220.8 L354.6,219.8 L355.4,218.9 L356.2,217.9 L357.0,217.0 L357.8,216.1 L358.6,215.4 L359.4,214.7 L360.2,214.3 L361.0,214.0 L361.8,214.0 L362.6,214.1 L363.5,214.3 L364.3,214.7 L365.1,215.3 L365.9,215.9 L366.7,216.6 L367.5,217.5 L368.3,218.3 L369.1,219.2 L369.9,220.1 L370.7,221.0 L371.5,221.8 L372.3,222.6 L373.1,223.3 L374.0,224.0 L374.8,224.6 L375.6,225.1 L376.4,225.6 L377.2,226.0 L378.0,226.3 L378.8,226.6 L379.6,226.8 L380.4,227.0 L381.2,227.2 L382.0,227.3 L382.8,227.4 L383.6,227.5 L384.5,227.5 L385.3,227.6 L386.1,227.6 L386.9,227.6 L387.7,227.7 L388.5,227.7 L389.3,227.7 L389.30,227.73 Z" fill="#a6a6f4" fill-opacity="0.9" stroke="none"/>
<path d="M336.8,224.7 L337.6,224.9 L338.4,225.1 L339.2,225.2 L340.0,225.4 L340.8,225.5 L341.6,225.6 L342.5,225.7 L343.3,225.8 L344.1,225.8 L344.9,225.7 L345.7,225.7 L346.5,225.6 L347.3,225.4 L348.1,225.1 L348.9,224.8 L349.7,224.3 L350.5,223.8 L351.3,223.2 L352.1,222.4 L353.0,221.6 L353.8,220.8 L354.6,219.8 L355.4,218.9 L356.2,217.9 L357.0,217.0 L357.8,216.1 L358.6,215.4 L359.4,214.7 L360.2,214.3 L361.0,214.0 L361.8,214.0 L362.6,214.1 L363.5,214.3 L364.3,214.7 L365.1,215.3 L365.9,215.9 L366.7,216.6 L367.5,217.5 L368.3,218.3 L369.1,219.2 L369.9,220.1 L370.7,221.0 L371.5,221.8 L372.3,222.6 L373.1,223.3 L374.0,224.0 L374.8,224.6 L375.6,225.1 L376.4,225.6 L377.2,226.0 L378.0,226.3 L378.8,226.6 L379.6,226.8 L380.4,227.0 L381.2,227.2 L382.0,227.3 L382.8,227.4 L383.6,227.5 L384.5,227.5 L385.3,227.6 L386.1,227.6 L386.9,227.6 L387.7,227.7 L388.5,227.7 L389.3,227.7" fill="none" stroke="#1c1cd8" stroke-width="1.05" stroke-linejoin="round"/>
<path d="M336.80,236.30 L336.8,232.1 L337.6,232.5 L338.4,232.8 L339.2,233.2 L340.0,233.4 L340.8,233.7 L341.6,233.9 L342.5,234.0 L343.3,234.1 L344.1,234.2 L344.9,234.2 L345.7,234.1 L346.5,233.9 L347.3,233.7 L348.1,233.3 L348.9,232.8 L349.7,232.3 L350.5,231.6 L351.3,230.9 L352.1,230.0 L353.0,229.1 L353.8,228.2 L354.6,227.3 L355.4,226.4 L356.2,225.6 L357.0,225.0 L357.8,224.5 L358.6,224.2 L359.4,224.1 L360.2,224.1 L361.0,224.4 L361.8,224.8 L362.6,225.4 L363.5,226.0 L364.3,226.8 L365.1,227.6 L365.9,228.5 L366.7,229.3 L367.5,230.2 L368.3,231.0 L369.1,231.8 L369.9,232.5 L370.7,233.2 L371.5,233.7 L372.3,234.2 L373.1,234.7 L374.0,235.0 L374.8,235.3 L375.6,235.5 L376.4,235.7 L377.2,235.9 L378.0,236.0 L378.8,236.1 L379.6,236.1 L380.4,236.2 L381.2,236.2 L382.0,236.2 L382.8,236.3 L383.6,236.3 L384.5,236.3 L385.3,236.3 L386.1,236.3 L386.9,236.3 L387.7,236.3 L388.5,236.3 L389.3,236.3 L389.30,236.30 Z" fill="#f9a6a6" fill-opacity="0.9" stroke="none"/>
<path d="M336.8,232.1 L337.6,232.5 L338.4,232.8 L339.2,233.2 L340.0,233.4 L340.8,233.7 L341.6,233.9 L342.5,234.0 L343.3,234.1 L344.1,234.2 L344.9,234.2 L345.7,234.1 L346.5,233.9 L347.3,233.7 L348.1,233.3 L348.9,232.8 L349.7,232.3 L350.5,231.6 L351.3,230.9 L352.1,230.0 L353.0,229.1 L353.8,228.2 L354.6,227.3 L355.4,226.4 L356.2,225.6 L357.0,225.0 L357.8,224.5 L358.6,224.2 L359.4,224.1 L360.2,224.1 L361.0,224.4 L361.8,224.8 L362.6,225.4 L363.5,226.0 L364.3,226.8 L365.1,227.6 L365.9,228.5 L366.7,229.3 L367.5,230.2 L368.3,231.0 L369.1,231.8 L369.9,232.5 L370.7,233.2 L371.5,233.7 L372.3,234.2 L373.1,234.7 L374.0,235.0 L374.8,235.3 L375.6,235.5 L376.4,235.7 L377.2,235.9 L378.0,236.0 L378.8,236.1 L379.6,236.1 L380.4,236.2 L381.2,236.2 L382.0,236.2 L382.8,236.3 L383.6,236.3 L384.5,236.3 L385.3,236.3 L386.1,236.3 L386.9,236.3 L387.7,236.3 L388.5,236.3 L389.3,236.3" fill="none" stroke="#e01c1c" stroke-width="1.05" stroke-linejoin="round"/>
<rect x="336.80" y="195.50" width="52.50" height="40.80" fill="none" stroke="#111" stroke-width="1.2"/>
<text x="363.05" y="192.2" font-size="6.5" text-anchor="middle" font-weight="bold" font-style="normal" fill="#1a1a1a" stroke="#1a1a1a" stroke-width="0.23">I-A<tspan dy="-2.0" font-size="5.2">b</tspan></text>
<text x="340.40000000000003" y="243.60000000000002" font-size="5.4" text-anchor="middle" font-weight="bold" font-style="normal" fill="#111" stroke="#111" stroke-width="0.19">10<tspan dy="-1.94" font-size="4.00">1</tspan></text>
<text x="351.35" y="243.60000000000002" font-size="5.4" text-anchor="middle" font-weight="bold" font-style="normal" fill="#111" stroke="#111" stroke-width="0.19">10<tspan dy="-1.94" font-size="4.00">2</tspan></text>
<text x="362.3" y="243.60000000000002" font-size="5.4" text-anchor="middle" font-weight="bold" font-style="normal" fill="#111" stroke="#111" stroke-width="0.19">10<tspan dy="-1.94" font-size="4.00">3</tspan></text>
<text x="373.25" y="243.60000000000002" font-size="5.4" text-anchor="middle" font-weight="bold" font-style="normal" fill="#111" stroke="#111" stroke-width="0.19">10<tspan dy="-1.94" font-size="4.00">4</tspan></text>
<text x="384.20000000000005" y="243.60000000000002" font-size="5.4" text-anchor="middle" font-weight="bold" font-style="normal" fill="#111" stroke="#111" stroke-width="0.19">10<tspan dy="-1.94" font-size="4.00">5</tspan></text>
<path d="M224.30,271.98 L224.3,267.9 L225.1,267.6 L225.9,267.2 L226.7,266.8 L227.5,266.3 L228.3,265.8 L229.1,265.2 L229.9,264.6 L230.7,264.0 L231.5,263.3 L232.3,262.7 L233.1,262.0 L233.9,261.4 L234.7,260.8 L235.5,260.2 L236.3,259.7 L237.1,259.3 L237.9,259.0 L238.7,258.7 L239.5,258.6 L240.3,258.5 L241.1,258.6 L241.9,259.0 L242.7,259.7 L243.5,260.7 L244.3,261.8 L245.1,263.1 L245.9,264.4 L246.7,265.6 L247.5,266.8 L248.3,267.9 L249.1,268.8 L249.9,269.6 L250.8,270.2 L251.6,270.7 L252.4,271.1 L253.2,271.3 L254.0,271.5 L254.8,271.7 L255.6,271.8 L256.4,271.8 L257.2,271.9 L258.0,271.9 L258.8,271.9 L259.6,271.9 L260.4,271.9 L261.2,271.9 L262.0,271.9 L262.8,272.0 L263.6,272.0 L264.4,272.0 L265.2,272.0 L266.0,272.0 L266.8,272.0 L267.6,272.0 L268.4,272.0 L269.2,272.0 L270.0,272.0 L270.8,272.0 L271.6,272.0 L272.4,272.0 L273.2,272.0 L274.0,272.0 L274.8,272.0 L275.6,272.0 L276.4,272.0 L276.40,271.98 Z" fill="#dddddd" fill-opacity="0.9" stroke="none"/>
<path d="M224.3,267.9 L225.1,267.6 L225.9,267.2 L226.7,266.8 L227.5,266.3 L228.3,265.8 L229.1,265.2 L229.9,264.6 L230.7,264.0 L231.5,263.3 L232.3,262.7 L233.1,262.0 L233.9,261.4 L234.7,260.8 L235.5,260.2 L236.3,259.7 L237.1,259.3 L237.9,259.0 L238.7,258.7 L239.5,258.6 L240.3,258.5 L241.1,258.6 L241.9,259.0 L242.7,259.7 L243.5,260.7 L244.3,261.8 L245.1,263.1 L245.9,264.4 L246.7,265.6 L247.5,266.8 L248.3,267.9 L249.1,268.8 L249.9,269.6 L250.8,270.2 L251.6,270.7 L252.4,271.1 L253.2,271.3 L254.0,271.5 L254.8,271.7 L255.6,271.8 L256.4,271.8 L257.2,271.9 L258.0,271.9 L258.8,271.9 L259.6,271.9 L260.4,271.9 L261.2,271.9 L262.0,271.9 L262.8,272.0 L263.6,272.0 L264.4,272.0 L265.2,272.0 L266.0,272.0 L266.8,272.0 L267.6,272.0 L268.4,272.0 L269.2,272.0 L270.0,272.0 L270.8,272.0 L271.6,272.0 L272.4,272.0 L273.2,272.0 L274.0,272.0 L274.8,272.0 L275.6,272.0 L276.4,272.0" fill="none" stroke="#a8a8a8" stroke-width="1.05" stroke-linejoin="round"/>
<path d="M224.30,280.53 L224.3,280.5 L225.1,280.5 L225.9,280.5 L226.7,280.5 L227.5,280.5 L228.3,280.5 L229.1,280.5 L229.9,280.5 L230.7,280.5 L231.5,280.5 L232.3,280.5 L233.1,280.5 L233.9,280.5 L234.7,280.5 L235.5,280.5 L236.3,280.5 L237.1,280.5 L237.9,280.4 L238.7,280.2 L239.5,279.9 L240.3,279.1 L241.1,278.0 L241.9,276.3 L242.7,274.0 L243.5,271.5 L244.3,269.1 L245.1,267.4 L245.9,266.8 L246.7,267.4 L247.5,268.7 L248.3,270.7 L249.1,272.9 L249.9,275.0 L250.8,276.8 L251.6,278.2 L252.4,279.2 L253.2,279.8 L254.0,280.2 L254.8,280.4 L255.6,280.5 L256.4,280.5 L257.2,280.5 L258.0,280.5 L258.8,280.5 L259.6,280.5 L260.4,280.5 L261.2,280.5 L262.0,280.5 L262.8,280.5 L263.6,280.5 L264.4,280.5 L265.2,280.5 L266.0,280.5 L266.8,280.5 L267.6,280.5 L268.4,280.5 L269.2,280.5 L270.0,280.5 L270.8,280.5 L271.6,280.5 L272.4,280.5 L273.2,280.5 L274.0,280.5 L274.8,280.5 L275.6,280.5 L276.4,280.5 L276.40,280.53 Z" fill="#fbd9ad" fill-opacity="0.9" stroke="none"/>
<path d="M224.3,280.5 L225.1,280.5 L225.9,280.5 L226.7,280.5 L227.5,280.5 L228.3,280.5 L229.1,280.5 L229.9,280.5 L230.7,280.5 L231.5,280.5 L232.3,280.5 L233.1,280.5 L233.9,280.5 L234.7,280.5 L235.5,280.5 L236.3,280.5 L237.1,280.5 L237.9,280.4 L238.7,280.2 L239.5,279.9 L240.3,279.1 L241.1,278.0 L241.9,276.3 L242.7,274.0 L243.5,271.5 L244.3,269.1 L245.1,267.4 L245.9,266.8 L246.7,267.4 L247.5,268.7 L248.3,270.7 L249.1,272.9 L249.9,275.0 L250.8,276.8 L251.6,278.2 L252.4,279.2 L253.2,279.8 L254.0,280.2 L254.8,280.4 L255.6,280.5 L256.4,280.5 L257.2,280.5 L258.0,280.5 L258.8,280.5 L259.6,280.5 L260.4,280.5 L261.2,280.5 L262.0,280.5 L262.8,280.5 L263.6,280.5 L264.4,280.5 L265.2,280.5 L266.0,280.5 L266.8,280.5 L267.6,280.5 L268.4,280.5 L269.2,280.5 L270.0,280.5 L270.8,280.5 L271.6,280.5 L272.4,280.5 L273.2,280.5 L274.0,280.5 L274.8,280.5 L275.6,280.5 L276.4,280.5" fill="none" stroke="#f0a030" stroke-width="1.05" stroke-linejoin="round"/>
<path d="M224.30,288.75 L224.3,276.6 L225.1,276.9 L225.9,277.1 L226.7,277.3 L227.5,277.4 L228.3,277.6 L229.1,277.7 L229.9,277.8 L230.7,277.8 L231.5,277.8 L232.3,277.8 L233.1,277.8 L233.9,277.7 L234.7,277.5 L235.5,277.3 L236.3,277.0 L237.1,276.8 L237.9,276.5 L238.7,276.3 L239.5,276.2 L240.3,276.3 L241.1,276.6 L241.9,277.0 L242.7,277.6 L243.5,278.2 L244.3,279.0 L245.1,279.8 L245.9,280.7 L246.7,281.5 L247.5,282.3 L248.3,283.1 L249.1,283.9 L249.9,284.5 L250.8,285.2 L251.6,285.8 L252.4,286.3 L253.2,286.7 L254.0,287.1 L254.8,287.4 L255.6,287.7 L256.4,287.9 L257.2,288.1 L258.0,288.2 L258.8,288.3 L259.6,288.4 L260.4,288.5 L261.2,288.5 L262.0,288.6 L262.8,288.6 L263.6,288.7 L264.4,288.7 L265.2,288.7 L266.0,288.7 L266.8,288.7 L267.6,288.7 L268.4,288.7 L269.2,288.7 L270.0,288.7 L270.8,288.7 L271.6,288.7 L272.4,288.7 L273.2,288.7 L274.0,288.7 L274.8,288.7 L275.6,288.8 L276.4,288.8 L276.40,288.75 Z" fill="#a6a6f4" fill-opacity="0.9" stroke="none"/>
<path d="M224.3,276.6 L225.1,276.9 L225.9,277.1 L226.7,277.3 L227.5,277.4 L228.3,277.6 L229.1,277.7 L229.9,277.8 L230.7,277.8 L231.5,277.8 L232.3,277.8 L233.1,277.8 L233.9,277.7 L234.7,277.5 L235.5,277.3 L236.3,277.0 L237.1,276.8 L237.9,276.5 L238.7,276.3 L239.5,276.2 L240.3,276.3 L241.1,276.6 L241.9,277.0 L242.7,277.6 L243.5,278.2 L244.3,279.0 L245.1,279.8 L245.9,280.7 L246.7,281.5 L247.5,282.3 L248.3,283.1 L249.1,283.9 L249.9,284.5 L250.8,285.2 L251.6,285.8 L252.4,286.3 L253.2,286.7 L254.0,287.1 L254.8,287.4 L255.6,287.7 L256.4,287.9 L257.2,288.1 L258.0,288.2 L258.8,288.3 L259.6,288.4 L260.4,288.5 L261.2,288.5 L262.0,288.6 L262.8,288.6 L263.6,288.7 L264.4,288.7 L265.2,288.7 L266.0,288.7 L266.8,288.7 L267.6,288.7 L268.4,288.7 L269.2,288.7 L270.0,288.7 L270.8,288.7 L271.6,288.7 L272.4,288.7 L273.2,288.7 L274.0,288.7 L274.8,288.7 L275.6,288.8 L276.4,288.8" fill="none" stroke="#1c1cd8" stroke-width="1.05" stroke-linejoin="round"/>
<path d="M224.30,297.30 L224.3,291.8 L225.1,292.2 L225.9,292.6 L226.7,292.9 L227.5,293.2 L228.3,293.4 L229.1,293.5 L229.9,293.6 L230.7,293.6 L231.5,293.5 L232.3,293.2 L233.1,292.8 L233.9,292.2 L234.7,291.4 L235.5,290.5 L236.3,289.4 L237.1,288.3 L237.9,287.0 L238.7,285.9 L239.5,284.8 L240.3,283.8 L241.1,283.2 L241.9,282.8 L242.7,282.7 L243.5,283.0 L244.3,283.5 L245.1,284.3 L245.9,285.3 L246.7,286.4 L247.5,287.6 L248.3,288.9 L249.1,290.1 L249.9,291.3 L250.8,292.3 L251.6,293.3 L252.4,294.1 L253.2,294.8 L254.0,295.4 L254.8,295.8 L255.6,296.2 L256.4,296.5 L257.2,296.7 L258.0,296.8 L258.8,296.9 L259.6,297.0 L260.4,297.1 L261.2,297.1 L262.0,297.1 L262.8,297.2 L263.6,297.2 L264.4,297.2 L265.2,297.2 L266.0,297.2 L266.8,297.2 L267.6,297.2 L268.4,297.2 L269.2,297.2 L270.0,297.2 L270.8,297.2 L271.6,297.3 L272.4,297.3 L273.2,297.3 L274.0,297.3 L274.8,297.3 L275.6,297.3 L276.4,297.3 L276.40,297.30 Z" fill="#f9a6a6" fill-opacity="0.9" stroke="none"/>
<path d="M224.3,291.8 L225.1,292.2 L225.9,292.6 L226.7,292.9 L227.5,293.2 L228.3,293.4 L229.1,293.5 L229.9,293.6 L230.7,293.6 L231.5,293.5 L232.3,293.2 L233.1,292.8 L233.9,292.2 L234.7,291.4 L235.5,290.5 L236.3,289.4 L237.1,288.3 L237.9,287.0 L238.7,285.9 L239.5,284.8 L240.3,283.8 L241.1,283.2 L241.9,282.8 L242.7,282.7 L243.5,283.0 L244.3,283.5 L245.1,284.3 L245.9,285.3 L246.7,286.4 L247.5,287.6 L248.3,288.9 L249.1,290.1 L249.9,291.3 L250.8,292.3 L251.6,293.3 L252.4,294.1 L253.2,294.8 L254.0,295.4 L254.8,295.8 L255.6,296.2 L256.4,296.5 L257.2,296.7 L258.0,296.8 L258.8,296.9 L259.6,297.0 L260.4,297.1 L261.2,297.1 L262.0,297.1 L262.8,297.2 L263.6,297.2 L264.4,297.2 L265.2,297.2 L266.0,297.2 L266.8,297.2 L267.6,297.2 L268.4,297.2 L269.2,297.2 L270.0,297.2 L270.8,297.2 L271.6,297.3 L272.4,297.3 L273.2,297.3 L274.0,297.3 L274.8,297.3 L275.6,297.3 L276.4,297.3" fill="none" stroke="#e01c1c" stroke-width="1.05" stroke-linejoin="round"/>
<rect x="224.30" y="256.60" width="52.10" height="40.70" fill="none" stroke="#111" stroke-width="1.2"/>
<text x="250.35" y="253.3" font-size="6.5" text-anchor="middle" font-weight="bold" font-style="normal" fill="#1a1a1a" stroke="#1a1a1a" stroke-width="0.23">CD86</text>
<text x="227.9" y="304.6" font-size="5.4" text-anchor="middle" font-weight="bold" font-style="normal" fill="#111" stroke="#111" stroke-width="0.19">10<tspan dy="-1.94" font-size="4.00">1</tspan></text>
<text x="238.85" y="304.6" font-size="5.4" text-anchor="middle" font-weight="bold" font-style="normal" fill="#111" stroke="#111" stroke-width="0.19">10<tspan dy="-1.94" font-size="4.00">2</tspan></text>
<text x="249.8" y="304.6" font-size="5.4" text-anchor="middle" font-weight="bold" font-style="normal" fill="#111" stroke="#111" stroke-width="0.19">10<tspan dy="-1.94" font-size="4.00">3</tspan></text>
<text x="260.75" y="304.6" font-size="5.4" text-anchor="middle" font-weight="bold" font-style="normal" fill="#111" stroke="#111" stroke-width="0.19">10<tspan dy="-1.94" font-size="4.00">4</tspan></text>
<text x="271.7" y="304.6" font-size="5.4" text-anchor="middle" font-weight="bold" font-style="normal" fill="#111" stroke="#111" stroke-width="0.19">10<tspan dy="-1.94" font-size="4.00">5</tspan></text>
<path d="M280.90,271.98 L280.9,271.0 L281.7,271.0 L282.5,271.0 L283.3,271.0 L284.1,271.0 L284.9,271.0 L285.7,271.0 L286.5,270.9 L287.3,270.8 L288.1,270.7 L288.9,270.5 L289.7,270.3 L290.5,270.0 L291.3,269.7 L292.1,269.4 L292.9,269.0 L293.7,268.6 L294.5,268.2 L295.3,267.7 L296.1,267.1 L296.9,266.5 L297.7,265.8 L298.5,264.9 L299.3,264.0 L300.1,263.0 L300.9,261.9 L301.7,260.9 L302.5,259.9 L303.3,259.1 L304.1,258.6 L304.9,258.3 L305.7,258.5 L306.5,259.1 L307.3,260.2 L308.1,261.8 L308.9,263.5 L309.7,265.2 L310.5,266.9 L311.3,268.3 L312.1,269.4 L312.9,270.2 L313.7,270.8 L314.5,271.2 L315.3,271.5 L316.1,271.6 L316.9,271.7 L317.7,271.8 L318.5,271.8 L319.3,271.8 L320.1,271.8 L320.9,271.8 L321.7,271.9 L322.5,271.9 L323.3,271.9 L324.1,271.9 L324.9,271.9 L325.7,271.9 L326.5,271.9 L327.3,271.9 L328.1,271.9 L328.9,271.9 L329.7,271.9 L330.5,271.9 L331.3,271.9 L332.1,271.9 L332.9,271.9 L333.7,271.9 L333.70,271.98 Z" fill="#dddddd" fill-opacity="0.9" stroke="none"/>
<path d="M280.9,271.0 L281.7,271.0 L282.5,271.0 L283.3,271.0 L284.1,271.0 L284.9,271.0 L285.7,271.0 L286.5,270.9 L287.3,270.8 L288.1,270.7 L288.9,270.5 L289.7,270.3 L290.5,270.0 L291.3,269.7 L292.1,269.4 L292.9,269.0 L293.7,268.6 L294.5,268.2 L295.3,267.7 L296.1,267.1 L296.9,266.5 L297.7,265.8 L298.5,264.9 L299.3,264.0 L300.1,263.0 L300.9,261.9 L301.7,260.9 L302.5,259.9 L303.3,259.1 L304.1,258.6 L304.9,258.3 L305.7,258.5 L306.5,259.1 L307.3,260.2 L308.1,261.8 L308.9,263.5 L309.7,265.2 L310.5,266.9 L311.3,268.3 L312.1,269.4 L312.9,270.2 L313.7,270.8 L314.5,271.2 L315.3,271.5 L316.1,271.6 L316.9,271.7 L317.7,271.8 L318.5,271.8 L319.3,271.8 L320.1,271.8 L320.9,271.8 L321.7,271.9 L322.5,271.9 L323.3,271.9 L324.1,271.9 L324.9,271.9 L325.7,271.9 L326.5,271.9 L327.3,271.9 L328.1,271.9 L328.9,271.9 L329.7,271.9 L330.5,271.9 L331.3,271.9 L332.1,271.9 L332.9,271.9 L333.7,271.9" fill="none" stroke="#a8a8a8" stroke-width="1.05" stroke-linejoin="round"/>
<path d="M280.90,280.53 L280.9,280.5 L281.7,280.5 L282.5,280.5 L283.3,280.5 L284.1,280.5 L284.9,280.5 L285.7,280.5 L286.5,280.5 L287.3,280.5 L288.1,280.5 L288.9,280.5 L289.7,280.5 L290.5,280.5 L291.3,280.5 L292.1,280.5 L292.9,280.5 L293.7,280.5 L294.5,280.5 L295.3,280.5 L296.1,280.5 L296.9,280.5 L297.7,280.5 L298.5,280.5 L299.3,280.5 L300.1,280.5 L300.9,280.5 L301.7,280.4 L302.5,280.3 L303.3,280.0 L304.1,279.5 L304.9,278.5 L305.7,277.0 L306.5,275.0 L307.3,272.5 L308.1,270.0 L308.9,268.0 L309.7,266.9 L310.5,267.0 L311.3,268.2 L312.1,270.2 L312.9,272.5 L313.7,274.8 L314.5,276.8 L315.3,278.2 L316.1,279.3 L316.9,279.9 L317.7,280.2 L318.5,280.4 L319.3,280.5 L320.1,280.5 L320.9,280.5 L321.7,280.5 L322.5,280.5 L323.3,280.5 L324.1,280.5 L324.9,280.5 L325.7,280.5 L326.5,280.5 L327.3,280.5 L328.1,280.5 L328.9,280.5 L329.7,280.5 L330.5,280.5 L331.3,280.5 L332.1,280.5 L332.9,280.5 L333.7,280.5 L333.70,280.53 Z" fill="#fbd9ad" fill-opacity="0.9" stroke="none"/>
<path d="M280.9,280.5 L281.7,280.5 L282.5,280.5 L283.3,280.5 L284.1,280.5 L284.9,280.5 L285.7,280.5 L286.5,280.5 L287.3,280.5 L288.1,280.5 L288.9,280.5 L289.7,280.5 L290.5,280.5 L291.3,280.5 L292.1,280.5 L292.9,280.5 L293.7,280.5 L294.5,280.5 L295.3,280.5 L296.1,280.5 L296.9,280.5 L297.7,280.5 L298.5,280.5 L299.3,280.5 L300.1,280.5 L300.9,280.5 L301.7,280.4 L302.5,280.3 L303.3,280.0 L304.1,279.5 L304.9,278.5 L305.7,277.0 L306.5,275.0 L307.3,272.5 L308.1,270.0 L308.9,268.0 L309.7,266.9 L310.5,267.0 L311.3,268.2 L312.1,270.2 L312.9,272.5 L313.7,274.8 L314.5,276.8 L315.3,278.2 L316.1,279.3 L316.9,279.9 L317.7,280.2 L318.5,280.4 L319.3,280.5 L320.1,280.5 L320.9,280.5 L321.7,280.5 L322.5,280.5 L323.3,280.5 L324.1,280.5 L324.9,280.5 L325.7,280.5 L326.5,280.5 L327.3,280.5 L328.1,280.5 L328.9,280.5 L329.7,280.5 L330.5,280.5 L331.3,280.5 L332.1,280.5 L332.9,280.5 L333.7,280.5" fill="none" stroke="#f0a030" stroke-width="1.05" stroke-linejoin="round"/>
<path d="M280.90,288.75 L280.9,288.8 L281.7,288.8 L282.5,288.8 L283.3,288.8 L284.1,288.8 L284.9,288.8 L285.7,288.8 L286.5,288.8 L287.3,288.8 L288.1,288.8 L288.9,288.8 L289.7,288.8 L290.5,288.8 L291.3,288.8 L292.1,288.8 L292.9,288.8 L293.7,288.8 L294.5,288.8 L295.3,288.8 L296.1,288.8 L296.9,288.8 L297.7,288.8 L298.5,288.8 L299.3,288.7 L300.1,288.7 L300.9,288.7 L301.7,288.7 L302.5,288.5 L303.3,288.3 L304.1,287.7 L304.9,286.9 L305.7,285.6 L306.5,283.8 L307.3,281.6 L308.1,279.3 L308.9,277.1 L309.7,275.6 L310.5,275.1 L311.3,275.5 L312.1,276.9 L312.9,278.8 L313.7,281.0 L314.5,283.1 L315.3,284.9 L316.1,286.4 L316.9,287.3 L317.7,288.0 L318.5,288.4 L319.3,288.6 L320.1,288.7 L320.9,288.7 L321.7,288.7 L322.5,288.7 L323.3,288.8 L324.1,288.8 L324.9,288.8 L325.7,288.8 L326.5,288.8 L327.3,288.8 L328.1,288.8 L328.9,288.8 L329.7,288.8 L330.5,288.8 L331.3,288.8 L332.1,288.8 L332.9,288.8 L333.7,288.8 L333.70,288.75 Z" fill="#a6a6f4" fill-opacity="0.9" stroke="none"/>
<path d="M280.9,288.8 L281.7,288.8 L282.5,288.8 L283.3,288.8 L284.1,288.8 L284.9,288.8 L285.7,288.8 L286.5,288.8 L287.3,288.8 L288.1,288.8 L288.9,288.8 L289.7,288.8 L290.5,288.8 L291.3,288.8 L292.1,288.8 L292.9,288.8 L293.7,288.8 L294.5,288.8 L295.3,288.8 L296.1,288.8 L296.9,288.8 L297.7,288.8 L298.5,288.8 L299.3,288.7 L300.1,288.7 L300.9,288.7 L301.7,288.7 L302.5,288.5 L303.3,288.3 L304.1,287.7 L304.9,286.9 L305.7,285.6 L306.5,283.8 L307.3,281.6 L308.1,279.3 L308.9,277.1 L309.7,275.6 L310.5,275.1 L311.3,275.5 L312.1,276.9 L312.9,278.8 L313.7,281.0 L314.5,283.1 L315.3,284.9 L316.1,286.4 L316.9,287.3 L317.7,288.0 L318.5,288.4 L319.3,288.6 L320.1,288.7 L320.9,288.7 L321.7,288.7 L322.5,288.7 L323.3,288.8 L324.1,288.8 L324.9,288.8 L325.7,288.8 L326.5,288.8 L327.3,288.8 L328.1,288.8 L328.9,288.8 L329.7,288.8 L330.5,288.8 L331.3,288.8 L332.1,288.8 L332.9,288.8 L333.7,288.8" fill="none" stroke="#1c1cd8" stroke-width="1.05" stroke-linejoin="round"/>
<path d="M280.90,297.30 L280.9,297.3 L281.7,297.3 L282.5,297.3 L283.3,297.3 L284.1,297.3 L284.9,297.3 L285.7,297.3 L286.5,297.3 L287.3,297.3 L288.1,297.3 L288.9,297.3 L289.7,297.3 L290.5,297.3 L291.3,297.3 L292.1,297.3 L292.9,297.3 L293.7,297.2 L294.5,297.2 L295.3,297.1 L296.1,297.0 L296.9,296.9 L297.7,296.6 L298.5,296.3 L299.3,295.8 L300.1,295.2 L300.9,294.5 L301.7,293.5 L302.5,292.4 L303.3,291.1 L304.1,289.7 L304.9,288.3 L305.7,286.9 L306.5,285.7 L307.3,284.8 L308.1,284.2 L308.9,283.9 L309.7,284.1 L310.5,284.6 L311.3,285.5 L312.1,286.6 L312.9,287.9 L313.7,289.3 L314.5,290.7 L315.3,292.1 L316.1,293.2 L316.9,294.2 L317.7,295.1 L318.5,295.7 L319.3,296.2 L320.1,296.6 L320.9,296.8 L321.7,297.0 L322.5,297.1 L323.3,297.2 L324.1,297.2 L324.9,297.3 L325.7,297.3 L326.5,297.3 L327.3,297.3 L328.1,297.3 L328.9,297.3 L329.7,297.3 L330.5,297.3 L331.3,297.3 L332.1,297.3 L332.9,297.3 L333.7,297.3 L333.70,297.30 Z" fill="#f9a6a6" fill-opacity="0.9" stroke="none"/>
<path d="M280.9,297.3 L281.7,297.3 L282.5,297.3 L283.3,297.3 L284.1,297.3 L284.9,297.3 L285.7,297.3 L286.5,297.3 L287.3,297.3 L288.1,297.3 L288.9,297.3 L289.7,297.3 L290.5,297.3 L291.3,297.3 L292.1,297.3 L292.9,297.3 L293.7,297.2 L294.5,297.2 L295.3,297.1 L296.1,297.0 L296.9,296.9 L297.7,296.6 L298.5,296.3 L299.3,295.8 L300.1,295.2 L300.9,294.5 L301.7,293.5 L302.5,292.4 L303.3,291.1 L304.1,289.7 L304.9,288.3 L305.7,286.9 L306.5,285.7 L307.3,284.8 L308.1,284.2 L308.9,283.9 L309.7,284.1 L310.5,284.6 L311.3,285.5 L312.1,286.6 L312.9,287.9 L313.7,289.3 L314.5,290.7 L315.3,292.1 L316.1,293.2 L316.9,294.2 L317.7,295.1 L318.5,295.7 L319.3,296.2 L320.1,296.6 L320.9,296.8 L321.7,297.0 L322.5,297.1 L323.3,297.2 L324.1,297.2 L324.9,297.3 L325.7,297.3 L326.5,297.3 L327.3,297.3 L328.1,297.3 L328.9,297.3 L329.7,297.3 L330.5,297.3 L331.3,297.3 L332.1,297.3 L332.9,297.3 L333.7,297.3" fill="none" stroke="#e01c1c" stroke-width="1.05" stroke-linejoin="round"/>
<rect x="280.90" y="256.60" width="52.80" height="40.70" fill="none" stroke="#111" stroke-width="1.2"/>
<text x="307.29999999999995" y="253.3" font-size="6.5" text-anchor="middle" font-weight="bold" font-style="normal" fill="#1a1a1a" stroke="#1a1a1a" stroke-width="0.23">CD80</text>
<text x="284.5" y="304.6" font-size="5.4" text-anchor="middle" font-weight="bold" font-style="normal" fill="#111" stroke="#111" stroke-width="0.19">10<tspan dy="-1.94" font-size="4.00">1</tspan></text>
<text x="295.45" y="304.6" font-size="5.4" text-anchor="middle" font-weight="bold" font-style="normal" fill="#111" stroke="#111" stroke-width="0.19">10<tspan dy="-1.94" font-size="4.00">2</tspan></text>
<text x="306.4" y="304.6" font-size="5.4" text-anchor="middle" font-weight="bold" font-style="normal" fill="#111" stroke="#111" stroke-width="0.19">10<tspan dy="-1.94" font-size="4.00">3</tspan></text>
<text x="317.35" y="304.6" font-size="5.4" text-anchor="middle" font-weight="bold" font-style="normal" fill="#111" stroke="#111" stroke-width="0.19">10<tspan dy="-1.94" font-size="4.00">4</tspan></text>
<text x="328.3" y="304.6" font-size="5.4" text-anchor="middle" font-weight="bold" font-style="normal" fill="#111" stroke="#111" stroke-width="0.19">10<tspan dy="-1.94" font-size="4.00">5</tspan></text>
<path d="M336.80,271.98 L336.8,272.0 L337.6,271.9 L338.4,271.9 L339.2,271.8 L340.0,271.5 L340.8,271.2 L341.6,270.6 L342.5,269.8 L343.3,268.6 L344.1,267.2 L344.9,265.4 L345.7,263.5 L346.5,261.7 L347.3,260.2 L348.1,259.1 L348.9,258.8 L349.7,259.1 L350.5,259.9 L351.3,261.2 L352.1,262.8 L353.0,264.5 L353.8,266.2 L354.6,267.6 L355.4,268.9 L356.2,269.9 L357.0,270.6 L357.8,271.1 L358.6,271.5 L359.4,271.7 L360.2,271.8 L361.0,271.9 L361.8,271.9 L362.6,272.0 L363.5,272.0 L364.3,272.0 L365.1,272.0 L365.9,272.0 L366.7,272.0 L367.5,272.0 L368.3,272.0 L369.1,272.0 L369.9,272.0 L370.7,272.0 L371.5,272.0 L372.3,272.0 L373.1,272.0 L374.0,272.0 L374.8,272.0 L375.6,272.0 L376.4,272.0 L377.2,272.0 L378.0,272.0 L378.8,272.0 L379.6,272.0 L380.4,272.0 L381.2,272.0 L382.0,272.0 L382.8,272.0 L383.6,272.0 L384.5,272.0 L385.3,272.0 L386.1,272.0 L386.9,272.0 L387.7,272.0 L388.5,272.0 L389.3,272.0 L389.30,271.98 Z" fill="#dddddd" fill-opacity="0.9" stroke="none"/>
<path d="M336.8,272.0 L337.6,271.9 L338.4,271.9 L339.2,271.8 L340.0,271.5 L340.8,271.2 L341.6,270.6 L342.5,269.8 L343.3,268.6 L344.1,267.2 L344.9,265.4 L345.7,263.5 L346.5,261.7 L347.3,260.2 L348.1,259.1 L348.9,258.8 L349.7,259.1 L350.5,259.9 L351.3,261.2 L352.1,262.8 L353.0,264.5 L353.8,266.2 L354.6,267.6 L355.4,268.9 L356.2,269.9 L357.0,270.6 L357.8,271.1 L358.6,271.5 L359.4,271.7 L360.2,271.8 L361.0,271.9 L361.8,271.9 L362.6,272.0 L363.5,272.0 L364.3,272.0 L365.1,272.0 L365.9,272.0 L366.7,272.0 L367.5,272.0 L368.3,272.0 L369.1,272.0 L369.9,272.0 L370.7,272.0 L371.5,272.0 L372.3,272.0 L373.1,272.0 L374.0,272.0 L374.8,272.0 L375.6,272.0 L376.4,272.0 L377.2,272.0 L378.0,272.0 L378.8,272.0 L379.6,272.0 L380.4,272.0 L381.2,272.0 L382.0,272.0 L382.8,272.0 L383.6,272.0 L384.5,272.0 L385.3,272.0 L386.1,272.0 L386.9,272.0 L387.7,272.0 L388.5,272.0 L389.3,272.0" fill="none" stroke="#a8a8a8" stroke-width="1.05" stroke-linejoin="round"/>
<path d="M336.80,280.53 L336.8,279.3 L337.6,279.4 L338.4,279.5 L339.2,279.5 L340.0,279.5 L340.8,279.6 L341.6,279.6 L342.5,279.6 L343.3,279.6 L344.1,279.5 L344.9,279.4 L345.7,279.3 L346.5,279.1 L347.3,278.8 L348.1,278.5 L348.9,278.1 L349.7,277.7 L350.5,277.3 L351.3,276.8 L352.1,276.3 L353.0,275.8 L353.8,275.2 L354.6,274.5 L355.4,273.7 L356.2,272.7 L357.0,271.5 L357.8,270.2 L358.6,269.0 L359.4,267.9 L360.2,267.1 L361.0,266.6 L361.8,266.7 L362.6,268.2 L363.5,270.8 L364.3,273.8 L365.1,276.5 L365.9,278.3 L366.7,279.4 L367.5,280.0 L368.3,280.3 L369.1,280.4 L369.9,280.4 L370.7,280.4 L371.5,280.4 L372.3,280.4 L373.1,280.4 L374.0,280.4 L374.8,280.4 L375.6,280.4 L376.4,280.4 L377.2,280.5 L378.0,280.5 L378.8,280.5 L379.6,280.5 L380.4,280.5 L381.2,280.5 L382.0,280.5 L382.8,280.5 L383.6,280.5 L384.5,280.5 L385.3,280.5 L386.1,280.5 L386.9,280.5 L387.7,280.5 L388.5,280.5 L389.3,280.5 L389.30,280.53 Z" fill="#fbd9ad" fill-opacity="0.9" stroke="none"/>
<path d="M336.8,279.3 L337.6,279.4 L338.4,279.5 L339.2,279.5 L340.0,279.5 L340.8,279.6 L341.6,279.6 L342.5,279.6 L343.3,279.6 L344.1,279.5 L344.9,279.4 L345.7,279.3 L346.5,279.1 L347.3,278.8 L348.1,278.5 L348.9,278.1 L349.7,277.7 L350.5,277.3 L351.3,276.8 L352.1,276.3 L353.0,275.8 L353.8,275.2 L354.6,274.5 L355.4,273.7 L356.2,272.7 L357.0,271.5 L357.8,270.2 L358.6,269.0 L359.4,267.9 L360.2,267.1 L361.0,266.6 L361.8,266.7 L362.6,268.2 L363.5,270.8 L364.3,273.8 L365.1,276.5 L365.9,278.3 L366.7,279.4 L367.5,280.0 L368.3,280.3 L369.1,280.4 L369.9,280.4 L370.7,280.4 L371.5,280.4 L372.3,280.4 L373.1,280.4 L374.0,280.4 L374.8,280.4 L375.6,280.4 L376.4,280.4 L377.2,280.5 L378.0,280.5 L378.8,280.5 L379.6,280.5 L380.4,280.5 L381.2,280.5 L382.0,280.5 L382.8,280.5 L383.6,280.5 L384.5,280.5 L385.3,280.5 L386.1,280.5 L386.9,280.5 L387.7,280.5 L388.5,280.5 L389.3,280.5" fill="none" stroke="#f0a030" stroke-width="1.05" stroke-linejoin="round"/>
<path d="M336.80,288.75 L336.8,287.0 L337.6,287.1 L338.4,287.2 L339.2,287.3 L340.0,287.4 L340.8,287.5 L341.6,287.6 L342.5,287.7 L343.3,287.8 L344.1,287.8 L344.9,287.8 L345.7,287.7 L346.5,287.5 L347.3,287.2 L348.1,286.7 L348.9,286.0 L349.7,285.1 L350.5,284.0 L351.3,282.6 L352.1,281.1 L353.0,279.5 L353.8,278.0 L354.6,276.7 L355.4,275.8 L356.2,275.3 L357.0,275.4 L357.8,276.2 L358.6,277.4 L359.4,279.1 L360.2,280.8 L361.0,282.6 L361.8,284.2 L362.6,285.5 L363.5,286.6 L364.3,287.3 L365.1,287.9 L365.9,288.2 L366.7,288.4 L367.5,288.5 L368.3,288.6 L369.1,288.7 L369.9,288.7 L370.7,288.7 L371.5,288.7 L372.3,288.7 L373.1,288.7 L374.0,288.7 L374.8,288.7 L375.6,288.7 L376.4,288.7 L377.2,288.7 L378.0,288.7 L378.8,288.7 L379.6,288.7 L380.4,288.7 L381.2,288.7 L382.0,288.7 L382.8,288.7 L383.6,288.7 L384.5,288.7 L385.3,288.7 L386.1,288.7 L386.9,288.7 L387.7,288.7 L388.5,288.7 L389.3,288.7 L389.30,288.75 Z" fill="#a6a6f4" fill-opacity="0.9" stroke="none"/>
<path d="M336.8,287.0 L337.6,287.1 L338.4,287.2 L339.2,287.3 L340.0,287.4 L340.8,287.5 L341.6,287.6 L342.5,287.7 L343.3,287.8 L344.1,287.8 L344.9,287.8 L345.7,287.7 L346.5,287.5 L347.3,287.2 L348.1,286.7 L348.9,286.0 L349.7,285.1 L350.5,284.0 L351.3,282.6 L352.1,281.1 L353.0,279.5 L353.8,278.0 L354.6,276.7 L355.4,275.8 L356.2,275.3 L357.0,275.4 L357.8,276.2 L358.6,277.4 L359.4,279.1 L360.2,280.8 L361.0,282.6 L361.8,284.2 L362.6,285.5 L363.5,286.6 L364.3,287.3 L365.1,287.9 L365.9,288.2 L366.7,288.4 L367.5,288.5 L368.3,288.6 L369.1,288.7 L369.9,288.7 L370.7,288.7 L371.5,288.7 L372.3,288.7 L373.1,288.7 L374.0,288.7 L374.8,288.7 L375.6,288.7 L376.4,288.7 L377.2,288.7 L378.0,288.7 L378.8,288.7 L379.6,288.7 L380.4,288.7 L381.2,288.7 L382.0,288.7 L382.8,288.7 L383.6,288.7 L384.5,288.7 L385.3,288.7 L386.1,288.7 L386.9,288.7 L387.7,288.7 L388.5,288.7 L389.3,288.7" fill="none" stroke="#1c1cd8" stroke-width="1.05" stroke-linejoin="round"/>
<path d="M336.80,297.30 L336.8,293.1 L337.6,293.3 L338.4,293.6 L339.2,293.8 L340.0,294.0 L340.8,294.1 L341.6,294.3 L342.5,294.5 L343.3,294.6 L344.1,294.7 L344.9,294.8 L345.7,294.8 L346.5,294.7 L347.3,294.6 L348.1,294.2 L348.9,293.7 L349.7,292.9 L350.5,291.9 L351.3,290.6 L352.1,289.1 L353.0,287.5 L353.8,285.8 L354.6,284.3 L355.4,283.1 L356.2,282.3 L357.0,282.1 L357.8,282.7 L358.6,284.1 L359.4,286.2 L360.2,288.5 L361.0,290.8 L361.8,292.7 L362.6,294.2 L363.5,295.3 L364.3,296.0 L365.1,296.4 L365.9,296.6 L366.7,296.7 L367.5,296.8 L368.3,296.8 L369.1,296.9 L369.9,296.9 L370.7,296.9 L371.5,296.9 L372.3,297.0 L373.1,297.0 L374.0,297.0 L374.8,297.0 L375.6,297.0 L376.4,297.1 L377.2,297.1 L378.0,297.1 L378.8,297.1 L379.6,297.1 L380.4,297.1 L381.2,297.1 L382.0,297.1 L382.8,297.1 L383.6,297.2 L384.5,297.2 L385.3,297.2 L386.1,297.2 L386.9,297.2 L387.7,297.2 L388.5,297.2 L389.3,297.2 L389.30,297.30 Z" fill="#f9a6a6" fill-opacity="0.9" stroke="none"/>
<path d="M336.8,293.1 L337.6,293.3 L338.4,293.6 L339.2,293.8 L340.0,294.0 L340.8,294.1 L341.6,294.3 L342.5,294.5 L343.3,294.6 L344.1,294.7 L344.9,294.8 L345.7,294.8 L346.5,294.7 L347.3,294.6 L348.1,294.2 L348.9,293.7 L349.7,292.9 L350.5,291.9 L351.3,290.6 L352.1,289.1 L353.0,287.5 L353.8,285.8 L354.6,284.3 L355.4,283.1 L356.2,282.3 L357.0,282.1 L357.8,282.7 L358.6,284.1 L359.4,286.2 L360.2,288.5 L361.0,290.8 L361.8,292.7 L362.6,294.2 L363.5,295.3 L364.3,296.0 L365.1,296.4 L365.9,296.6 L366.7,296.7 L367.5,296.8 L368.3,296.8 L369.1,296.9 L369.9,296.9 L370.7,296.9 L371.5,296.9 L372.3,297.0 L373.1,297.0 L374.0,297.0 L374.8,297.0 L375.6,297.0 L376.4,297.1 L377.2,297.1 L378.0,297.1 L378.8,297.1 L379.6,297.1 L380.4,297.1 L381.2,297.1 L382.0,297.1 L382.8,297.1 L383.6,297.2 L384.5,297.2 L385.3,297.2 L386.1,297.2 L386.9,297.2 L387.7,297.2 L388.5,297.2 L389.3,297.2" fill="none" stroke="#e01c1c" stroke-width="1.05" stroke-linejoin="round"/>
<rect x="336.80" y="256.60" width="52.50" height="40.70" fill="none" stroke="#111" stroke-width="1.2"/>
<text x="363.05" y="253.3" font-size="6.5" text-anchor="middle" font-weight="bold" font-style="normal" fill="#1a1a1a" stroke="#1a1a1a" stroke-width="0.23">CD40</text>
<text x="340.40000000000003" y="304.6" font-size="5.4" text-anchor="middle" font-weight="bold" font-style="normal" fill="#111" stroke="#111" stroke-width="0.19">10<tspan dy="-1.94" font-size="4.00">1</tspan></text>
<text x="351.35" y="304.6" font-size="5.4" text-anchor="middle" font-weight="bold" font-style="normal" fill="#111" stroke="#111" stroke-width="0.19">10<tspan dy="-1.94" font-size="4.00">2</tspan></text>
<text x="362.3" y="304.6" font-size="5.4" text-anchor="middle" font-weight="bold" font-style="normal" fill="#111" stroke="#111" stroke-width="0.19">10<tspan dy="-1.94" font-size="4.00">3</tspan></text>
<text x="373.25" y="304.6" font-size="5.4" text-anchor="middle" font-weight="bold" font-style="normal" fill="#111" stroke="#111" stroke-width="0.19">10<tspan dy="-1.94" font-size="4.00">4</tspan></text>
<text x="384.20000000000005" y="304.6" font-size="5.4" text-anchor="middle" font-weight="bold" font-style="normal" fill="#111" stroke="#111" stroke-width="0.19">10<tspan dy="-1.94" font-size="4.00">5</tspan></text>
<path d="M224.30,332.10 L224.3,331.8 L225.1,331.7 L225.9,331.5 L226.7,331.3 L227.5,330.9 L228.3,330.5 L229.1,330.0 L229.9,329.3 L230.7,328.5 L231.5,327.6 L232.3,326.6 L233.1,325.5 L233.9,324.4 L234.7,323.2 L235.5,322.1 L236.3,321.0 L237.1,320.2 L237.9,319.5 L238.7,319.1 L239.5,318.9 L240.3,319.0 L241.1,319.4 L241.9,320.0 L242.7,320.9 L243.5,321.9 L244.3,323.0 L245.1,324.2 L245.9,325.3 L246.7,326.4 L247.5,327.4 L248.3,328.4 L249.1,329.2 L249.9,329.9 L250.8,330.4 L251.6,330.9 L252.4,331.2 L253.2,331.5 L254.0,331.7 L254.8,331.8 L255.6,331.9 L256.4,332.0 L257.2,332.0 L258.0,332.0 L258.8,332.1 L259.6,332.1 L260.4,332.1 L261.2,332.1 L262.0,332.1 L262.8,332.1 L263.6,332.1 L264.4,332.1 L265.2,332.1 L266.0,332.1 L266.8,332.1 L267.6,332.1 L268.4,332.1 L269.2,332.1 L270.0,332.1 L270.8,332.1 L271.6,332.1 L272.4,332.1 L273.2,332.1 L274.0,332.1 L274.8,332.1 L275.6,332.1 L276.4,332.1 L276.40,332.10 Z" fill="#dddddd" fill-opacity="0.9" stroke="none"/>
<path d="M224.3,331.8 L225.1,331.7 L225.9,331.5 L226.7,331.3 L227.5,330.9 L228.3,330.5 L229.1,330.0 L229.9,329.3 L230.7,328.5 L231.5,327.6 L232.3,326.6 L233.1,325.5 L233.9,324.4 L234.7,323.2 L235.5,322.1 L236.3,321.0 L237.1,320.2 L237.9,319.5 L238.7,319.1 L239.5,318.9 L240.3,319.0 L241.1,319.4 L241.9,320.0 L242.7,320.9 L243.5,321.9 L244.3,323.0 L245.1,324.2 L245.9,325.3 L246.7,326.4 L247.5,327.4 L248.3,328.4 L249.1,329.2 L249.9,329.9 L250.8,330.4 L251.6,330.9 L252.4,331.2 L253.2,331.5 L254.0,331.7 L254.8,331.8 L255.6,331.9 L256.4,332.0 L257.2,332.0 L258.0,332.0 L258.8,332.1 L259.6,332.1 L260.4,332.1 L261.2,332.1 L262.0,332.1 L262.8,332.1 L263.6,332.1 L264.4,332.1 L265.2,332.1 L266.0,332.1 L266.8,332.1 L267.6,332.1 L268.4,332.1 L269.2,332.1 L270.0,332.1 L270.8,332.1 L271.6,332.1 L272.4,332.1 L273.2,332.1 L274.0,332.1 L274.8,332.1 L275.6,332.1 L276.4,332.1" fill="none" stroke="#a8a8a8" stroke-width="1.05" stroke-linejoin="round"/>
<path d="M224.30,340.71 L224.3,339.9 L225.1,340.0 L225.9,340.1 L226.7,340.1 L227.5,340.2 L228.3,340.2 L229.1,340.2 L229.9,340.2 L230.7,340.1 L231.5,340.0 L232.3,339.7 L233.1,339.3 L233.9,338.8 L234.7,338.0 L235.5,336.9 L236.3,335.6 L237.1,334.0 L237.9,332.4 L238.7,330.7 L239.5,329.1 L240.3,327.9 L241.1,327.1 L241.9,326.8 L242.7,327.3 L243.5,328.4 L244.3,330.1 L245.1,332.1 L245.9,334.1 L246.7,336.0 L247.5,337.5 L248.3,338.6 L249.1,339.4 L249.9,340.0 L250.8,340.3 L251.6,340.5 L252.4,340.6 L253.2,340.6 L254.0,340.7 L254.8,340.7 L255.6,340.7 L256.4,340.7 L257.2,340.7 L258.0,340.7 L258.8,340.7 L259.6,340.7 L260.4,340.7 L261.2,340.7 L262.0,340.7 L262.8,340.7 L263.6,340.7 L264.4,340.7 L265.2,340.7 L266.0,340.7 L266.8,340.7 L267.6,340.7 L268.4,340.7 L269.2,340.7 L270.0,340.7 L270.8,340.7 L271.6,340.7 L272.4,340.7 L273.2,340.7 L274.0,340.7 L274.8,340.7 L275.6,340.7 L276.4,340.7 L276.40,340.71 Z" fill="#fbd9ad" fill-opacity="0.9" stroke="none"/>
<path d="M224.3,339.9 L225.1,340.0 L225.9,340.1 L226.7,340.1 L227.5,340.2 L228.3,340.2 L229.1,340.2 L229.9,340.2 L230.7,340.1 L231.5,340.0 L232.3,339.7 L233.1,339.3 L233.9,338.8 L234.7,338.0 L235.5,336.9 L236.3,335.6 L237.1,334.0 L237.9,332.4 L238.7,330.7 L239.5,329.1 L240.3,327.9 L241.1,327.1 L241.9,326.8 L242.7,327.3 L243.5,328.4 L244.3,330.1 L245.1,332.1 L245.9,334.1 L246.7,336.0 L247.5,337.5 L248.3,338.6 L249.1,339.4 L249.9,340.0 L250.8,340.3 L251.6,340.5 L252.4,340.6 L253.2,340.6 L254.0,340.7 L254.8,340.7 L255.6,340.7 L256.4,340.7 L257.2,340.7 L258.0,340.7 L258.8,340.7 L259.6,340.7 L260.4,340.7 L261.2,340.7 L262.0,340.7 L262.8,340.7 L263.6,340.7 L264.4,340.7 L265.2,340.7 L266.0,340.7 L266.8,340.7 L267.6,340.7 L268.4,340.7 L269.2,340.7 L270.0,340.7 L270.8,340.7 L271.6,340.7 L272.4,340.7 L273.2,340.7 L274.0,340.7 L274.8,340.7 L275.6,340.7 L276.4,340.7" fill="none" stroke="#f0a030" stroke-width="1.05" stroke-linejoin="round"/>
<path d="M224.30,348.99 L224.3,349.0 L225.1,349.0 L225.9,349.0 L226.7,349.0 L227.5,349.0 L228.3,349.0 L229.1,349.0 L229.9,349.0 L230.7,349.0 L231.5,349.0 L232.3,349.0 L233.1,349.0 L233.9,349.0 L234.7,349.0 L235.5,349.0 L236.3,349.0 L237.1,349.0 L237.9,349.0 L238.7,349.0 L239.5,349.0 L240.3,349.0 L241.1,349.0 L241.9,348.9 L242.7,348.9 L243.5,348.8 L244.3,348.5 L245.1,348.2 L245.9,347.6 L246.7,346.9 L247.5,346.0 L248.3,345.1 L249.1,344.3 L249.9,343.8 L250.8,343.6 L251.6,343.6 L252.4,343.5 L253.2,343.1 L254.0,342.0 L254.8,340.2 L255.6,338.3 L256.4,336.9 L257.2,336.7 L258.0,338.3 L258.8,341.1 L259.6,344.1 L260.4,346.5 L261.2,347.9 L262.0,348.6 L262.8,348.9 L263.6,349.0 L264.4,349.0 L265.2,349.0 L266.0,349.0 L266.8,349.0 L267.6,349.0 L268.4,349.0 L269.2,349.0 L270.0,349.0 L270.8,349.0 L271.6,349.0 L272.4,349.0 L273.2,349.0 L274.0,349.0 L274.8,349.0 L275.6,349.0 L276.4,349.0 L276.40,348.99 Z" fill="#a6a6f4" fill-opacity="0.9" stroke="none"/>
<path d="M224.3,349.0 L225.1,349.0 L225.9,349.0 L226.7,349.0 L227.5,349.0 L228.3,349.0 L229.1,349.0 L229.9,349.0 L230.7,349.0 L231.5,349.0 L232.3,349.0 L233.1,349.0 L233.9,349.0 L234.7,349.0 L235.5,349.0 L236.3,349.0 L237.1,349.0 L237.9,349.0 L238.7,349.0 L239.5,349.0 L240.3,349.0 L241.1,349.0 L241.9,348.9 L242.7,348.9 L243.5,348.8 L244.3,348.5 L245.1,348.2 L245.9,347.6 L246.7,346.9 L247.5,346.0 L248.3,345.1 L249.1,344.3 L249.9,343.8 L250.8,343.6 L251.6,343.6 L252.4,343.5 L253.2,343.1 L254.0,342.0 L254.8,340.2 L255.6,338.3 L256.4,336.9 L257.2,336.7 L258.0,338.3 L258.8,341.1 L259.6,344.1 L260.4,346.5 L261.2,347.9 L262.0,348.6 L262.8,348.9 L263.6,349.0 L264.4,349.0 L265.2,349.0 L266.0,349.0 L266.8,349.0 L267.6,349.0 L268.4,349.0 L269.2,349.0 L270.0,349.0 L270.8,349.0 L271.6,349.0 L272.4,349.0 L273.2,349.0 L274.0,349.0 L274.8,349.0 L275.6,349.0 L276.4,349.0" fill="none" stroke="#1c1cd8" stroke-width="1.05" stroke-linejoin="round"/>
<path d="M224.30,357.60 L224.3,357.6 L225.1,357.6 L225.9,357.6 L226.7,357.6 L227.5,357.6 L228.3,357.6 L229.1,357.6 L229.9,357.6 L230.7,357.6 L231.5,357.6 L232.3,357.6 L233.1,357.6 L233.9,357.6 L234.7,357.6 L235.5,357.6 L236.3,357.6 L237.1,357.6 L237.9,357.5 L238.7,357.5 L239.5,357.4 L240.3,357.2 L241.1,356.9 L241.9,356.5 L242.7,355.9 L243.5,355.1 L244.3,354.0 L245.1,352.9 L245.9,351.6 L246.7,350.4 L247.5,349.3 L248.3,348.4 L249.1,347.6 L249.9,346.9 L250.8,346.4 L251.6,346.0 L252.4,345.7 L253.2,345.6 L254.0,345.7 L254.8,346.7 L255.6,349.0 L256.4,351.8 L257.2,354.3 L258.0,356.0 L258.8,356.9 L259.6,357.4 L260.4,357.5 L261.2,357.6 L262.0,357.6 L262.8,357.6 L263.6,357.6 L264.4,357.6 L265.2,357.6 L266.0,357.6 L266.8,357.6 L267.6,357.6 L268.4,357.6 L269.2,357.6 L270.0,357.6 L270.8,357.6 L271.6,357.6 L272.4,357.6 L273.2,357.6 L274.0,357.6 L274.8,357.6 L275.6,357.6 L276.4,357.6 L276.40,357.60 Z" fill="#f9a6a6" fill-opacity="0.9" stroke="none"/>
<path d="M224.3,357.6 L225.1,357.6 L225.9,357.6 L226.7,357.6 L227.5,357.6 L228.3,357.6 L229.1,357.6 L229.9,357.6 L230.7,357.6 L231.5,357.6 L232.3,357.6 L233.1,357.6 L233.9,357.6 L234.7,357.6 L235.5,357.6 L236.3,357.6 L237.1,357.6 L237.9,357.5 L238.7,357.5 L239.5,357.4 L240.3,357.2 L241.1,356.9 L241.9,356.5 L242.7,355.9 L243.5,355.1 L244.3,354.0 L245.1,352.9 L245.9,351.6 L246.7,350.4 L247.5,349.3 L248.3,348.4 L249.1,347.6 L249.9,346.9 L250.8,346.4 L251.6,346.0 L252.4,345.7 L253.2,345.6 L254.0,345.7 L254.8,346.7 L255.6,349.0 L256.4,351.8 L257.2,354.3 L258.0,356.0 L258.8,356.9 L259.6,357.4 L260.4,357.5 L261.2,357.6 L262.0,357.6 L262.8,357.6 L263.6,357.6 L264.4,357.6 L265.2,357.6 L266.0,357.6 L266.8,357.6 L267.6,357.6 L268.4,357.6 L269.2,357.6 L270.0,357.6 L270.8,357.6 L271.6,357.6 L272.4,357.6 L273.2,357.6 L274.0,357.6 L274.8,357.6 L275.6,357.6 L276.4,357.6" fill="none" stroke="#e01c1c" stroke-width="1.05" stroke-linejoin="round"/>
<rect x="224.30" y="316.60" width="52.10" height="41.00" fill="none" stroke="#111" stroke-width="1.2"/>
<text x="250.35" y="313.3" font-size="6.5" text-anchor="middle" font-weight="bold" font-style="normal" fill="#1a1a1a" stroke="#1a1a1a" stroke-width="0.23">PDL1</text>
<text x="227.9" y="364.90000000000003" font-size="5.4" text-anchor="middle" font-weight="bold" font-style="normal" fill="#111" stroke="#111" stroke-width="0.19">10<tspan dy="-1.94" font-size="4.00">1</tspan></text>
<text x="238.85" y="364.90000000000003" font-size="5.4" text-anchor="middle" font-weight="bold" font-style="normal" fill="#111" stroke="#111" stroke-width="0.19">10<tspan dy="-1.94" font-size="4.00">2</tspan></text>
<text x="249.8" y="364.90000000000003" font-size="5.4" text-anchor="middle" font-weight="bold" font-style="normal" fill="#111" stroke="#111" stroke-width="0.19">10<tspan dy="-1.94" font-size="4.00">3</tspan></text>
<text x="260.75" y="364.90000000000003" font-size="5.4" text-anchor="middle" font-weight="bold" font-style="normal" fill="#111" stroke="#111" stroke-width="0.19">10<tspan dy="-1.94" font-size="4.00">4</tspan></text>
<text x="271.7" y="364.90000000000003" font-size="5.4" text-anchor="middle" font-weight="bold" font-style="normal" fill="#111" stroke="#111" stroke-width="0.19">10<tspan dy="-1.94" font-size="4.00">5</tspan></text>
<path d="M280.90,332.10 L280.9,332.1 L281.7,332.0 L282.5,331.9 L283.3,331.8 L284.1,331.5 L284.9,331.0 L285.7,330.2 L286.5,329.1 L287.3,327.6 L288.1,325.8 L288.9,323.8 L289.7,321.9 L290.5,320.3 L291.3,319.2 L292.1,318.9 L292.9,319.4 L293.7,320.4 L294.5,322.0 L295.3,323.9 L296.1,325.7 L296.9,327.4 L297.7,328.9 L298.5,330.0 L299.3,330.8 L300.1,331.3 L300.9,331.7 L301.7,331.9 L302.5,332.0 L303.3,332.0 L304.1,332.1 L304.9,332.1 L305.7,332.1 L306.5,332.1 L307.3,332.1 L308.1,332.1 L308.9,332.1 L309.7,332.1 L310.5,332.1 L311.3,332.1 L312.1,332.1 L312.9,332.1 L313.7,332.1 L314.5,332.1 L315.3,332.1 L316.1,332.1 L316.9,332.1 L317.7,332.1 L318.5,332.1 L319.3,332.1 L320.1,332.1 L320.9,332.1 L321.7,332.1 L322.5,332.1 L323.3,332.1 L324.1,332.1 L324.9,332.1 L325.7,332.1 L326.5,332.1 L327.3,332.1 L328.1,332.1 L328.9,332.1 L329.7,332.1 L330.5,332.1 L331.3,332.1 L332.1,332.1 L332.9,332.1 L333.7,332.1 L333.70,332.10 Z" fill="#dddddd" fill-opacity="0.9" stroke="none"/>
<path d="M280.9,332.1 L281.7,332.0 L282.5,331.9 L283.3,331.8 L284.1,331.5 L284.9,331.0 L285.7,330.2 L286.5,329.1 L287.3,327.6 L288.1,325.8 L288.9,323.8 L289.7,321.9 L290.5,320.3 L291.3,319.2 L292.1,318.9 L292.9,319.4 L293.7,320.4 L294.5,322.0 L295.3,323.9 L296.1,325.7 L296.9,327.4 L297.7,328.9 L298.5,330.0 L299.3,330.8 L300.1,331.3 L300.9,331.7 L301.7,331.9 L302.5,332.0 L303.3,332.0 L304.1,332.1 L304.9,332.1 L305.7,332.1 L306.5,332.1 L307.3,332.1 L308.1,332.1 L308.9,332.1 L309.7,332.1 L310.5,332.1 L311.3,332.1 L312.1,332.1 L312.9,332.1 L313.7,332.1 L314.5,332.1 L315.3,332.1 L316.1,332.1 L316.9,332.1 L317.7,332.1 L318.5,332.1 L319.3,332.1 L320.1,332.1 L320.9,332.1 L321.7,332.1 L322.5,332.1 L323.3,332.1 L324.1,332.1 L324.9,332.1 L325.7,332.1 L326.5,332.1 L327.3,332.1 L328.1,332.1 L328.9,332.1 L329.7,332.1 L330.5,332.1 L331.3,332.1 L332.1,332.1 L332.9,332.1 L333.7,332.1" fill="none" stroke="#a8a8a8" stroke-width="1.05" stroke-linejoin="round"/>
<path d="M280.90,340.71 L280.9,339.4 L281.7,339.4 L282.5,339.3 L283.3,339.2 L284.1,339.0 L284.9,338.8 L285.7,338.5 L286.5,338.2 L287.3,337.9 L288.1,337.6 L288.9,337.2 L289.7,336.8 L290.5,336.4 L291.3,336.0 L292.1,335.5 L292.9,335.0 L293.7,334.5 L294.5,333.9 L295.3,333.2 L296.1,332.5 L296.9,331.7 L297.7,330.8 L298.5,329.9 L299.3,329.1 L300.1,328.4 L300.9,327.7 L301.7,327.3 L302.5,327.0 L303.3,327.1 L304.1,328.0 L304.9,330.1 L305.7,332.8 L306.5,335.4 L307.3,337.4 L308.1,338.9 L308.9,339.8 L309.7,340.2 L310.5,340.4 L311.3,340.5 L312.1,340.6 L312.9,340.6 L313.7,340.6 L314.5,340.6 L315.3,340.6 L316.1,340.6 L316.9,340.6 L317.7,340.6 L318.5,340.6 L319.3,340.6 L320.1,340.6 L320.9,340.6 L321.7,340.6 L322.5,340.6 L323.3,340.6 L324.1,340.7 L324.9,340.7 L325.7,340.7 L326.5,340.7 L327.3,340.7 L328.1,340.7 L328.9,340.7 L329.7,340.7 L330.5,340.7 L331.3,340.7 L332.1,340.7 L332.9,340.7 L333.7,340.7 L333.70,340.71 Z" fill="#fbd9ad" fill-opacity="0.9" stroke="none"/>
<path d="M280.9,339.4 L281.7,339.4 L282.5,339.3 L283.3,339.2 L284.1,339.0 L284.9,338.8 L285.7,338.5 L286.5,338.2 L287.3,337.9 L288.1,337.6 L288.9,337.2 L289.7,336.8 L290.5,336.4 L291.3,336.0 L292.1,335.5 L292.9,335.0 L293.7,334.5 L294.5,333.9 L295.3,333.2 L296.1,332.5 L296.9,331.7 L297.7,330.8 L298.5,329.9 L299.3,329.1 L300.1,328.4 L300.9,327.7 L301.7,327.3 L302.5,327.0 L303.3,327.1 L304.1,328.0 L304.9,330.1 L305.7,332.8 L306.5,335.4 L307.3,337.4 L308.1,338.9 L308.9,339.8 L309.7,340.2 L310.5,340.4 L311.3,340.5 L312.1,340.6 L312.9,340.6 L313.7,340.6 L314.5,340.6 L315.3,340.6 L316.1,340.6 L316.9,340.6 L317.7,340.6 L318.5,340.6 L319.3,340.6 L320.1,340.6 L320.9,340.6 L321.7,340.6 L322.5,340.6 L323.3,340.6 L324.1,340.7 L324.9,340.7 L325.7,340.7 L326.5,340.7 L327.3,340.7 L328.1,340.7 L328.9,340.7 L329.7,340.7 L330.5,340.7 L331.3,340.7 L332.1,340.7 L332.9,340.7 L333.7,340.7" fill="none" stroke="#f0a030" stroke-width="1.05" stroke-linejoin="round"/>
<path d="M280.90,348.99 L280.9,346.3 L281.7,346.4 L282.5,346.5 L283.3,346.5 L284.1,346.5 L284.9,346.5 L285.7,346.4 L286.5,346.2 L287.3,345.9 L288.1,345.6 L288.9,345.2 L289.7,344.7 L290.5,344.0 L291.3,343.3 L292.1,342.5 L292.9,341.6 L293.7,340.7 L294.5,339.8 L295.3,338.9 L296.1,338.1 L296.9,337.3 L297.7,336.7 L298.5,336.3 L299.3,336.1 L300.1,336.1 L300.9,336.5 L301.7,337.3 L302.5,338.5 L303.3,339.9 L304.1,341.4 L304.9,342.9 L305.7,344.2 L306.5,345.4 L307.3,346.3 L308.1,347.1 L308.9,347.6 L309.7,348.0 L310.5,348.3 L311.3,348.4 L312.1,348.5 L312.9,348.6 L313.7,348.7 L314.5,348.7 L315.3,348.7 L316.1,348.7 L316.9,348.8 L317.7,348.8 L318.5,348.8 L319.3,348.8 L320.1,348.8 L320.9,348.8 L321.7,348.8 L322.5,348.8 L323.3,348.8 L324.1,348.8 L324.9,348.9 L325.7,348.9 L326.5,348.9 L327.3,348.9 L328.1,348.9 L328.9,348.9 L329.7,348.9 L330.5,348.9 L331.3,348.9 L332.1,348.9 L332.9,348.9 L333.7,348.9 L333.70,348.99 Z" fill="#a6a6f4" fill-opacity="0.9" stroke="none"/>
<path d="M280.9,346.3 L281.7,346.4 L282.5,346.5 L283.3,346.5 L284.1,346.5 L284.9,346.5 L285.7,346.4 L286.5,346.2 L287.3,345.9 L288.1,345.6 L288.9,345.2 L289.7,344.7 L290.5,344.0 L291.3,343.3 L292.1,342.5 L292.9,341.6 L293.7,340.7 L294.5,339.8 L295.3,338.9 L296.1,338.1 L296.9,337.3 L297.7,336.7 L298.5,336.3 L299.3,336.1 L300.1,336.1 L300.9,336.5 L301.7,337.3 L302.5,338.5 L303.3,339.9 L304.1,341.4 L304.9,342.9 L305.7,344.2 L306.5,345.4 L307.3,346.3 L308.1,347.1 L308.9,347.6 L309.7,348.0 L310.5,348.3 L311.3,348.4 L312.1,348.5 L312.9,348.6 L313.7,348.7 L314.5,348.7 L315.3,348.7 L316.1,348.7 L316.9,348.8 L317.7,348.8 L318.5,348.8 L319.3,348.8 L320.1,348.8 L320.9,348.8 L321.7,348.8 L322.5,348.8 L323.3,348.8 L324.1,348.8 L324.9,348.9 L325.7,348.9 L326.5,348.9 L327.3,348.9 L328.1,348.9 L328.9,348.9 L329.7,348.9 L330.5,348.9 L331.3,348.9 L332.1,348.9 L332.9,348.9 L333.7,348.9" fill="none" stroke="#1c1cd8" stroke-width="1.05" stroke-linejoin="round"/>
<path d="M280.90,357.60 L280.9,357.6 L281.7,357.6 L282.5,357.6 L283.3,357.6 L284.1,357.6 L284.9,357.6 L285.7,357.6 L286.5,357.6 L287.3,357.6 L288.1,357.6 L288.9,357.6 L289.7,357.6 L290.5,357.6 L291.3,357.6 L292.1,357.6 L292.9,357.6 L293.7,357.6 L294.5,357.6 L295.3,357.6 L296.1,357.6 L296.9,357.6 L297.7,357.5 L298.5,357.5 L299.3,357.4 L300.1,357.1 L300.9,356.8 L301.7,356.2 L302.5,355.4 L303.3,354.3 L304.1,352.9 L304.9,351.3 L305.7,349.5 L306.5,347.9 L307.3,346.5 L308.1,345.7 L308.9,345.4 L309.7,345.8 L310.5,346.7 L311.3,348.0 L312.1,349.6 L312.9,351.2 L313.7,352.8 L314.5,354.1 L315.3,355.2 L316.1,356.0 L316.9,356.6 L317.7,357.0 L318.5,357.3 L319.3,357.4 L320.1,357.5 L320.9,357.6 L321.7,357.6 L322.5,357.6 L323.3,357.6 L324.1,357.6 L324.9,357.6 L325.7,357.6 L326.5,357.6 L327.3,357.6 L328.1,357.6 L328.9,357.6 L329.7,357.6 L330.5,357.6 L331.3,357.6 L332.1,357.6 L332.9,357.6 L333.7,357.6 L333.70,357.60 Z" fill="#f9a6a6" fill-opacity="0.9" stroke="none"/>
<path d="M280.9,357.6 L281.7,357.6 L282.5,357.6 L283.3,357.6 L284.1,357.6 L284.9,357.6 L285.7,357.6 L286.5,357.6 L287.3,357.6 L288.1,357.6 L288.9,357.6 L289.7,357.6 L290.5,357.6 L291.3,357.6 L292.1,357.6 L292.9,357.6 L293.7,357.6 L294.5,357.6 L295.3,357.6 L296.1,357.6 L296.9,357.6 L297.7,357.5 L298.5,357.5 L299.3,357.4 L300.1,357.1 L300.9,356.8 L301.7,356.2 L302.5,355.4 L303.3,354.3 L304.1,352.9 L304.9,351.3 L305.7,349.5 L306.5,347.9 L307.3,346.5 L308.1,345.7 L308.9,345.4 L309.7,345.8 L310.5,346.7 L311.3,348.0 L312.1,349.6 L312.9,351.2 L313.7,352.8 L314.5,354.1 L315.3,355.2 L316.1,356.0 L316.9,356.6 L317.7,357.0 L318.5,357.3 L319.3,357.4 L320.1,357.5 L320.9,357.6 L321.7,357.6 L322.5,357.6 L323.3,357.6 L324.1,357.6 L324.9,357.6 L325.7,357.6 L326.5,357.6 L327.3,357.6 L328.1,357.6 L328.9,357.6 L329.7,357.6 L330.5,357.6 L331.3,357.6 L332.1,357.6 L332.9,357.6 L333.7,357.6" fill="none" stroke="#e01c1c" stroke-width="1.05" stroke-linejoin="round"/>
<rect x="280.90" y="316.60" width="52.80" height="41.00" fill="none" stroke="#111" stroke-width="1.2"/>
<text x="307.29999999999995" y="313.3" font-size="6.5" text-anchor="middle" font-weight="bold" font-style="normal" fill="#1a1a1a" stroke="#1a1a1a" stroke-width="0.23">PDL2</text>
<text x="284.5" y="364.90000000000003" font-size="5.4" text-anchor="middle" font-weight="bold" font-style="normal" fill="#111" stroke="#111" stroke-width="0.19">10<tspan dy="-1.94" font-size="4.00">1</tspan></text>
<text x="295.45" y="364.90000000000003" font-size="5.4" text-anchor="middle" font-weight="bold" font-style="normal" fill="#111" stroke="#111" stroke-width="0.19">10<tspan dy="-1.94" font-size="4.00">2</tspan></text>
<text x="306.4" y="364.90000000000003" font-size="5.4" text-anchor="middle" font-weight="bold" font-style="normal" fill="#111" stroke="#111" stroke-width="0.19">10<tspan dy="-1.94" font-size="4.00">3</tspan></text>
<text x="317.35" y="364.90000000000003" font-size="5.4" text-anchor="middle" font-weight="bold" font-style="normal" fill="#111" stroke="#111" stroke-width="0.19">10<tspan dy="-1.94" font-size="4.00">4</tspan></text>
<text x="328.3" y="364.90000000000003" font-size="5.4" text-anchor="middle" font-weight="bold" font-style="normal" fill="#111" stroke="#111" stroke-width="0.19">10<tspan dy="-1.94" font-size="4.00">5</tspan></text>
<path d="M336.80,332.10 L336.8,332.1 L337.6,332.0 L338.4,332.0 L339.2,331.9 L340.0,331.7 L340.8,331.3 L341.6,330.7 L342.5,329.9 L343.3,328.8 L344.1,327.3 L344.9,325.5 L345.7,323.7 L346.5,321.8 L347.3,320.3 L348.1,319.3 L348.9,318.9 L349.7,319.2 L350.5,320.1 L351.3,321.4 L352.1,322.9 L353.0,324.6 L353.8,326.3 L354.6,327.8 L355.4,329.0 L356.2,330.0 L357.0,330.7 L357.8,331.2 L358.6,331.6 L359.4,331.8 L360.2,331.9 L361.0,332.0 L361.8,332.1 L362.6,332.1 L363.5,332.1 L364.3,332.1 L365.1,332.1 L365.9,332.1 L366.7,332.1 L367.5,332.1 L368.3,332.1 L369.1,332.1 L369.9,332.1 L370.7,332.1 L371.5,332.1 L372.3,332.1 L373.1,332.1 L374.0,332.1 L374.8,332.1 L375.6,332.1 L376.4,332.1 L377.2,332.1 L378.0,332.1 L378.8,332.1 L379.6,332.1 L380.4,332.1 L381.2,332.1 L382.0,332.1 L382.8,332.1 L383.6,332.1 L384.5,332.1 L385.3,332.1 L386.1,332.1 L386.9,332.1 L387.7,332.1 L388.5,332.1 L389.3,332.1 L389.30,332.10 Z" fill="#dddddd" fill-opacity="0.9" stroke="none"/>
<path d="M336.8,332.1 L337.6,332.0 L338.4,332.0 L339.2,331.9 L340.0,331.7 L340.8,331.3 L341.6,330.7 L342.5,329.9 L343.3,328.8 L344.1,327.3 L344.9,325.5 L345.7,323.7 L346.5,321.8 L347.3,320.3 L348.1,319.3 L348.9,318.9 L349.7,319.2 L350.5,320.1 L351.3,321.4 L352.1,322.9 L353.0,324.6 L353.8,326.3 L354.6,327.8 L355.4,329.0 L356.2,330.0 L357.0,330.7 L357.8,331.2 L358.6,331.6 L359.4,331.8 L360.2,331.9 L361.0,332.0 L361.8,332.1 L362.6,332.1 L363.5,332.1 L364.3,332.1 L365.1,332.1 L365.9,332.1 L366.7,332.1 L367.5,332.1 L368.3,332.1 L369.1,332.1 L369.9,332.1 L370.7,332.1 L371.5,332.1 L372.3,332.1 L373.1,332.1 L374.0,332.1 L374.8,332.1 L375.6,332.1 L376.4,332.1 L377.2,332.1 L378.0,332.1 L378.8,332.1 L379.6,332.1 L380.4,332.1 L381.2,332.1 L382.0,332.1 L382.8,332.1 L383.6,332.1 L384.5,332.1 L385.3,332.1 L386.1,332.1 L386.9,332.1 L387.7,332.1 L388.5,332.1 L389.3,332.1" fill="none" stroke="#a8a8a8" stroke-width="1.05" stroke-linejoin="round"/>
<path d="M336.80,340.71 L336.8,340.7 L337.6,340.7 L338.4,340.7 L339.2,340.7 L340.0,340.7 L340.8,340.7 L341.6,340.7 L342.5,340.7 L343.3,340.7 L344.1,340.7 L344.9,340.7 L345.7,340.7 L346.5,340.7 L347.3,340.7 L348.1,340.7 L348.9,340.7 L349.7,340.7 L350.5,340.7 L351.3,340.7 L352.1,340.7 L353.0,340.6 L353.8,340.4 L354.6,339.8 L355.4,338.8 L356.2,337.0 L357.0,334.5 L357.8,331.6 L358.6,329.0 L359.4,327.6 L360.2,327.9 L361.0,329.7 L361.8,332.5 L362.6,335.3 L363.5,337.6 L364.3,339.2 L365.1,340.0 L365.9,340.5 L366.7,340.6 L367.5,340.7 L368.3,340.7 L369.1,340.7 L369.9,340.7 L370.7,340.7 L371.5,340.7 L372.3,340.7 L373.1,340.7 L374.0,340.7 L374.8,340.7 L375.6,340.7 L376.4,340.7 L377.2,340.7 L378.0,340.7 L378.8,340.7 L379.6,340.7 L380.4,340.7 L381.2,340.7 L382.0,340.7 L382.8,340.7 L383.6,340.7 L384.5,340.7 L385.3,340.7 L386.1,340.7 L386.9,340.7 L387.7,340.7 L388.5,340.7 L389.3,340.7 L389.30,340.71 Z" fill="#fbd9ad" fill-opacity="0.9" stroke="none"/>
<path d="M336.8,340.7 L337.6,340.7 L338.4,340.7 L339.2,340.7 L340.0,340.7 L340.8,340.7 L341.6,340.7 L342.5,340.7 L343.3,340.7 L344.1,340.7 L344.9,340.7 L345.7,340.7 L346.5,340.7 L347.3,340.7 L348.1,340.7 L348.9,340.7 L349.7,340.7 L350.5,340.7 L351.3,340.7 L352.1,340.7 L353.0,340.6 L353.8,340.4 L354.6,339.8 L355.4,338.8 L356.2,337.0 L357.0,334.5 L357.8,331.6 L358.6,329.0 L359.4,327.6 L360.2,327.9 L361.0,329.7 L361.8,332.5 L362.6,335.3 L363.5,337.6 L364.3,339.2 L365.1,340.0 L365.9,340.5 L366.7,340.6 L367.5,340.7 L368.3,340.7 L369.1,340.7 L369.9,340.7 L370.7,340.7 L371.5,340.7 L372.3,340.7 L373.1,340.7 L374.0,340.7 L374.8,340.7 L375.6,340.7 L376.4,340.7 L377.2,340.7 L378.0,340.7 L378.8,340.7 L379.6,340.7 L380.4,340.7 L381.2,340.7 L382.0,340.7 L382.8,340.7 L383.6,340.7 L384.5,340.7 L385.3,340.7 L386.1,340.7 L386.9,340.7 L387.7,340.7 L388.5,340.7 L389.3,340.7" fill="none" stroke="#f0a030" stroke-width="1.05" stroke-linejoin="round"/>
<path d="M336.80,348.99 L336.8,348.9 L337.6,348.8 L338.4,348.7 L339.2,348.6 L340.0,348.4 L340.8,348.2 L341.6,348.0 L342.5,347.7 L343.3,347.3 L344.1,346.9 L344.9,346.4 L345.7,345.9 L346.5,345.2 L347.3,344.5 L348.1,343.6 L348.9,342.6 L349.7,341.5 L350.5,340.3 L351.3,339.1 L352.1,338.0 L353.0,337.0 L353.8,336.3 L354.6,335.9 L355.4,336.0 L356.2,336.9 L357.0,338.6 L357.8,340.8 L358.6,343.0 L359.4,345.0 L360.2,346.5 L361.0,347.6 L361.8,348.3 L362.6,348.6 L363.5,348.8 L364.3,348.9 L365.1,349.0 L365.9,349.0 L366.7,349.0 L367.5,349.0 L368.3,349.0 L369.1,349.0 L369.9,349.0 L370.7,349.0 L371.5,349.0 L372.3,349.0 L373.1,349.0 L374.0,349.0 L374.8,349.0 L375.6,349.0 L376.4,349.0 L377.2,349.0 L378.0,349.0 L378.8,349.0 L379.6,349.0 L380.4,349.0 L381.2,349.0 L382.0,349.0 L382.8,349.0 L383.6,349.0 L384.5,349.0 L385.3,349.0 L386.1,349.0 L386.9,349.0 L387.7,349.0 L388.5,349.0 L389.3,349.0 L389.30,348.99 Z" fill="#a6a6f4" fill-opacity="0.9" stroke="none"/>
<path d="M336.8,348.9 L337.6,348.8 L338.4,348.7 L339.2,348.6 L340.0,348.4 L340.8,348.2 L341.6,348.0 L342.5,347.7 L343.3,347.3 L344.1,346.9 L344.9,346.4 L345.7,345.9 L346.5,345.2 L347.3,344.5 L348.1,343.6 L348.9,342.6 L349.7,341.5 L350.5,340.3 L351.3,339.1 L352.1,338.0 L353.0,337.0 L353.8,336.3 L354.6,335.9 L355.4,336.0 L356.2,336.9 L357.0,338.6 L357.8,340.8 L358.6,343.0 L359.4,345.0 L360.2,346.5 L361.0,347.6 L361.8,348.3 L362.6,348.6 L363.5,348.8 L364.3,348.9 L365.1,349.0 L365.9,349.0 L366.7,349.0 L367.5,349.0 L368.3,349.0 L369.1,349.0 L369.9,349.0 L370.7,349.0 L371.5,349.0 L372.3,349.0 L373.1,349.0 L374.0,349.0 L374.8,349.0 L375.6,349.0 L376.4,349.0 L377.2,349.0 L378.0,349.0 L378.8,349.0 L379.6,349.0 L380.4,349.0 L381.2,349.0 L382.0,349.0 L382.8,349.0 L383.6,349.0 L384.5,349.0 L385.3,349.0 L386.1,349.0 L386.9,349.0 L387.7,349.0 L388.5,349.0 L389.3,349.0" fill="none" stroke="#1c1cd8" stroke-width="1.05" stroke-linejoin="round"/>
<path d="M336.80,357.60 L336.8,357.6 L337.6,357.6 L338.4,357.6 L339.2,357.6 L340.0,357.6 L340.8,357.6 L341.6,357.6 L342.5,357.6 L343.3,357.6 L344.1,357.6 L344.9,357.6 L345.7,357.6 L346.5,357.6 L347.3,357.5 L348.1,357.4 L348.9,357.2 L349.7,356.8 L350.5,356.1 L351.3,355.1 L352.1,353.5 L353.0,351.5 L353.8,349.2 L354.6,346.9 L355.4,345.0 L356.2,343.8 L357.0,343.7 L357.8,344.7 L358.6,346.7 L359.4,349.2 L360.2,351.6 L361.0,353.7 L361.8,355.3 L362.6,356.4 L363.5,357.0 L364.3,357.3 L365.1,357.5 L365.9,357.6 L366.7,357.6 L367.5,357.6 L368.3,357.6 L369.1,357.6 L369.9,357.6 L370.7,357.6 L371.5,357.6 L372.3,357.6 L373.1,357.6 L374.0,357.6 L374.8,357.6 L375.6,357.6 L376.4,357.6 L377.2,357.6 L378.0,357.6 L378.8,357.6 L379.6,357.6 L380.4,357.6 L381.2,357.6 L382.0,357.6 L382.8,357.6 L383.6,357.6 L384.5,357.6 L385.3,357.6 L386.1,357.6 L386.9,357.6 L387.7,357.6 L388.5,357.6 L389.3,357.6 L389.30,357.60 Z" fill="#f9a6a6" fill-opacity="0.9" stroke="none"/>
<path d="M336.8,357.6 L337.6,357.6 L338.4,357.6 L339.2,357.6 L340.0,357.6 L340.8,357.6 L341.6,357.6 L342.5,357.6 L343.3,357.6 L344.1,357.6 L344.9,357.6 L345.7,357.6 L346.5,357.6 L347.3,357.5 L348.1,357.4 L348.9,357.2 L349.7,356.8 L350.5,356.1 L351.3,355.1 L352.1,353.5 L353.0,351.5 L353.8,349.2 L354.6,346.9 L355.4,345.0 L356.2,343.8 L357.0,343.7 L357.8,344.7 L358.6,346.7 L359.4,349.2 L360.2,351.6 L361.0,353.7 L361.8,355.3 L362.6,356.4 L363.5,357.0 L364.3,357.3 L365.1,357.5 L365.9,357.6 L366.7,357.6 L367.5,357.6 L368.3,357.6 L369.1,357.6 L369.9,357.6 L370.7,357.6 L371.5,357.6 L372.3,357.6 L373.1,357.6 L374.0,357.6 L374.8,357.6 L375.6,357.6 L376.4,357.6 L377.2,357.6 L378.0,357.6 L378.8,357.6 L379.6,357.6 L380.4,357.6 L381.2,357.6 L382.0,357.6 L382.8,357.6 L383.6,357.6 L384.5,357.6 L385.3,357.6 L386.1,357.6 L386.9,357.6 L387.7,357.6 L388.5,357.6 L389.3,357.6" fill="none" stroke="#e01c1c" stroke-width="1.05" stroke-linejoin="round"/>
<rect x="336.80" y="316.60" width="52.50" height="41.00" fill="none" stroke="#111" stroke-width="1.2"/>
<text x="363.05" y="313.3" font-size="6.5" text-anchor="middle" font-weight="bold" font-style="normal" fill="#1a1a1a" stroke="#1a1a1a" stroke-width="0.23">CD103</text>
<text x="340.40000000000003" y="364.90000000000003" font-size="5.4" text-anchor="middle" font-weight="bold" font-style="normal" fill="#111" stroke="#111" stroke-width="0.19">10<tspan dy="-1.94" font-size="4.00">1</tspan></text>
<text x="351.35" y="364.90000000000003" font-size="5.4" text-anchor="middle" font-weight="bold" font-style="normal" fill="#111" stroke="#111" stroke-width="0.19">10<tspan dy="-1.94" font-size="4.00">2</tspan></text>
<text x="362.3" y="364.90000000000003" font-size="5.4" text-anchor="middle" font-weight="bold" font-style="normal" fill="#111" stroke="#111" stroke-width="0.19">10<tspan dy="-1.94" font-size="4.00">3</tspan></text>
<text x="373.25" y="364.90000000000003" font-size="5.4" text-anchor="middle" font-weight="bold" font-style="normal" fill="#111" stroke="#111" stroke-width="0.19">10<tspan dy="-1.94" font-size="4.00">4</tspan></text>
<text x="384.20000000000005" y="364.90000000000003" font-size="5.4" text-anchor="middle" font-weight="bold" font-style="normal" fill="#111" stroke="#111" stroke-width="0.19">10<tspan dy="-1.94" font-size="4.00">5</tspan></text>
<line x1="224.5" y1="370.8" x2="380.09999999999997" y2="370.8" stroke="#111" stroke-width="1.15"/>
<polygon points="379.10,367.30 379.10,374.30 389.90,370.80" fill="#111"/>
<text x="306.6" y="378.6" font-size="6.25" text-anchor="middle" font-weight="normal" font-style="normal" fill="#111" stroke="#111" stroke-width="0.32">Fluorescence</text>
<rect x="395.40" y="193.60" width="3.70" height="3.20" fill="#c4d4c4"/>
<text x="399.8" y="196.6" font-size="4.6" text-anchor="start" font-weight="bold" font-style="normal" fill="#111" stroke="#111" stroke-width="0.16">PEC</text>
<rect x="395.40" y="199.20" width="3.70" height="3.20" fill="#ec9020"/>
<text x="399.8" y="202.2" font-size="4.6" text-anchor="start" font-weight="bold" font-style="normal" fill="#111" stroke="#111" stroke-width="0.16">M0</text>
<rect x="395.40" y="204.80" width="3.70" height="3.20" fill="#1414e8"/>
<text x="399.8" y="207.79999999999998" font-size="4.6" text-anchor="start" font-weight="bold" font-style="normal" fill="#111" stroke="#111" stroke-width="0.16">M1</text>
<rect x="395.40" y="210.40" width="3.70" height="3.20" fill="#e81414"/>
<text x="399.8" y="213.39999999999998" font-size="4.6" text-anchor="start" font-weight="bold" font-style="normal" fill="#111" stroke="#111" stroke-width="0.16">M2a</text>
<text x="416.3" y="187.4" font-size="12.3" text-anchor="start" font-weight="normal" font-style="normal" fill="#111" stroke="#111" stroke-width="0.60">F</text>
<text x="472.1" y="191.9" font-size="6.35" text-anchor="middle" font-weight="normal" font-style="normal" fill="#111" stroke="#111" stroke-width="0.36">PEC Arginase 1</text>
<line x1="436.6" y1="281" x2="436.6" y2="215.6" stroke="#111" stroke-width="1.1"/>
<polygon points="432.60,216.60 440.60,216.60 436.60,205.60" fill="#111"/>
<text x="433.4" y="244.3" font-size="7.4" text-anchor="middle" font-weight="normal" font-style="normal" fill="#111" transform="rotate(-90 433.4 244.3)" stroke="#111" stroke-width="0.41">(x10<tspan dy="-2.2" font-size="4.8">6</tspan><tspan dy="2.2">)</tspan></text>
<text x="423.3" y="330.3" font-size="6.75" text-anchor="start" font-weight="normal" font-style="normal" fill="#111" transform="rotate(-90 423.3 330.3)" stroke="#111" stroke-width="0.37">Relative expression (GAPDH)</text>
<line x1="450.8" y1="208.2" x2="450.8" y2="267.1" stroke="#111" stroke-width="1.15"/>
<line x1="450.8" y1="266.6" x2="480.5" y2="266.6" stroke="#111" stroke-width="1.05"/>
<line x1="447.6" y1="208.6" x2="450.8" y2="208.6" stroke="#111" stroke-width="0.9"/>
<line x1="447.6" y1="266.6" x2="450.8" y2="266.6" stroke="#111" stroke-width="0.9"/>
<line x1="448.24" y1="237.60000000000002" x2="450.8" y2="237.60000000000002" stroke="#111" stroke-width="0.7"/>
<text x="0" y="0" font-size="6.2" text-anchor="middle" font-weight="normal" font-style="normal" fill="#111" stroke="#111" stroke-width="0.30"></text>
<text x="446.40000000000003" y="210.4" font-size="5" text-anchor="end" font-weight="bold" font-style="normal" fill="#111" stroke="#111" stroke-width="0.18">4</text>
<text x="446.40000000000003" y="268.40000000000003" font-size="5" text-anchor="end" font-weight="bold" font-style="normal" fill="#111" stroke="#111" stroke-width="0.18">0</text>
<rect x="453.65" y="265.60" width="11.30" height="1.00" fill="#222"/>
<line x1="473.2" y1="223.5" x2="473.2" y2="208.9" stroke="#111" stroke-width="1.0"/>
<line x1="468.68" y1="208.9" x2="477.71999999999997" y2="208.9" stroke="#111" stroke-width="1.0"/>
<rect x="467.55" y="223.50" width="11.30" height="43.10" fill="#f01414"/>
<line x1="459.3" y1="266.6" x2="459.3" y2="267.90000000000003" stroke="#111" stroke-width="0.6"/>
<text x="459.3" y="273.0" font-size="5" text-anchor="middle" font-weight="bold" font-style="normal" fill="#111" stroke="#111" stroke-width="0.18"></text>
<line x1="473.2" y1="266.6" x2="473.2" y2="267.90000000000003" stroke="#111" stroke-width="0.6"/>
<text x="473.2" y="273.0" font-size="5" text-anchor="middle" font-weight="bold" font-style="normal" fill="#111" stroke="#111" stroke-width="0.18"></text>
<polyline points="458.6,205.2 458.6,203.0 473.6,203.0 473.6,205.2" fill="none" stroke="#111" stroke-width="1.1"/>
<text x="466.1" y="203.9" font-size="6" text-anchor="middle" font-weight="bold" font-style="normal" fill="#111" stroke="#111" stroke-width="0.21">*</text>
<rect x="485.60" y="205.50" width="3.00" height="2.80" fill="#fff" stroke="#111" stroke-width="1.0"/>
<text x="490.0" y="208.9" font-size="6.4" text-anchor="start" font-weight="bold" font-style="normal" fill="#111" stroke="#111" stroke-width="0.22">None</text>
<rect x="485.10" y="214.60" width="4.10" height="3.70" fill="#f01414"/>
<text x="490.2" y="218.6" font-size="6.4" text-anchor="start" font-weight="bold" font-style="normal" fill="#111" stroke="#111" stroke-width="0.22">IL-4+IL-13</text>
<text x="461.8" y="281.4" font-size="6.35" text-anchor="middle" font-weight="normal" font-style="normal" fill="#111" stroke="#111" stroke-width="0.36">PEC NOS2</text>
<line x1="436.4" y1="366.2" x2="436.4" y2="300.59999999999997" stroke="#111" stroke-width="1.1"/>
<polygon points="432.60,301.60 440.20,301.60 436.40,291.20" fill="#111"/>
<line x1="435.9" y1="366.2" x2="472" y2="366.2" stroke="#111" stroke-width="1.1"/>
<polygon points="471.00,362.60 471.00,369.80 482.00,366.20" fill="#111"/>
<line x1="451.5" y1="298.0" x2="451.5" y2="356.5" stroke="#111" stroke-width="1.15"/>
<line x1="451.5" y1="356.0" x2="480.5" y2="356.0" stroke="#111" stroke-width="1.05"/>
<line x1="448.3" y1="298.4" x2="451.5" y2="298.4" stroke="#111" stroke-width="0.9"/>
<line x1="448.3" y1="356.0" x2="451.5" y2="356.0" stroke="#111" stroke-width="0.9"/>
<line x1="448.94" y1="317.59999999999997" x2="451.5" y2="317.59999999999997" stroke="#111" stroke-width="0.7"/>
<line x1="448.94" y1="336.8" x2="451.5" y2="336.8" stroke="#111" stroke-width="0.7"/>
<text x="0" y="0" font-size="6.2" text-anchor="middle" font-weight="normal" font-style="normal" fill="#111" stroke="#111" stroke-width="0.30"></text>
<text x="447.1" y="300.2" font-size="5" text-anchor="end" font-weight="bold" font-style="normal" fill="#111" stroke="#111" stroke-width="0.18">75</text>
<text x="447.1" y="357.8" font-size="5" text-anchor="end" font-weight="bold" font-style="normal" fill="#111" stroke="#111" stroke-width="0.18">0</text>
<line x1="459.7" y1="323.4" x2="459.7" y2="312.8" stroke="#111" stroke-width="1.0"/>
<line x1="456.02799999999996" y1="312.8" x2="463.372" y2="312.8" stroke="#111" stroke-width="1.0"/>
<rect x="455.50" y="323.40" width="8.40" height="32.60" fill="#fff" stroke="#111" stroke-width="0.9"/>
<line x1="474.2" y1="344.5" x2="474.2" y2="339.7" stroke="#111" stroke-width="1.0"/>
<line x1="470.52799999999996" y1="339.7" x2="477.872" y2="339.7" stroke="#111" stroke-width="1.0"/>
<rect x="469.10" y="344.50" width="10.20" height="11.50" fill="#f01414"/>
<line x1="459.7" y1="356.0" x2="459.7" y2="357.3" stroke="#111" stroke-width="0.6"/>
<text x="459.7" y="362.4" font-size="5" text-anchor="middle" font-weight="bold" font-style="normal" fill="#111" stroke="#111" stroke-width="0.18"></text>
<line x1="474.2" y1="356.0" x2="474.2" y2="357.3" stroke="#111" stroke-width="0.6"/>
<text x="474.2" y="362.4" font-size="5" text-anchor="middle" font-weight="bold" font-style="normal" fill="#111" stroke="#111" stroke-width="0.18"></text>
<polyline points="459.0,294.4 459.0,292.4 473.6,292.4 473.6,294.4" fill="none" stroke="#111" stroke-width="1.1"/>
<text x="466.3" y="293.4" font-size="6" text-anchor="middle" font-weight="bold" font-style="normal" fill="#111" stroke="#111" stroke-width="0.21">*</text>
<text x="453.2" y="375.6" font-size="6.4" text-anchor="middle" font-weight="bold" font-style="normal" fill="#222" stroke="#222" stroke-width="0.22">Treatment</text>
<text x="215.3" y="392.6" font-size="12.3" text-anchor="start" font-weight="normal" font-style="normal" fill="#111" stroke="#111" stroke-width="0.60">G</text>
<text x="269.8" y="398.2" font-size="6.6" text-anchor="middle" font-weight="normal" font-style="normal" fill="#111" stroke="#111" stroke-width="0.30">F4/80<tspan dy="-2" font-size="4.4">+</tspan><tspan dy="2"> gate</tspan></text>
<line x1="248.5" y1="401.4" x2="291.8" y2="401.4" stroke="#111" stroke-width="1.0"/>
<text x="269" y="407.6" font-size="6.2" text-anchor="middle" font-weight="normal" font-style="normal" fill="#111" stroke="#111" stroke-width="0.30">48h</text>
<rect x="248.60" y="411.30" width="42.30" height="43.20" fill="none" stroke="#111" stroke-width="1.1"/>
<line x1="268.2" y1="411.3" x2="268.2" y2="454.5" stroke="#111" stroke-width="1.0"/>
<line x1="248.6" y1="433.5" x2="290.9" y2="433.5" stroke="#111" stroke-width="1.0"/>
<text x="251.4" y="417.6" font-size="5.6" text-anchor="start" font-weight="bold" font-style="normal" fill="#111" stroke="#111" stroke-width="0.20">0</text>
<text x="289.3" y="417.6" font-size="5.6" text-anchor="end" font-weight="bold" font-style="normal" fill="#111" stroke="#111" stroke-width="0.20">29</text>
<text x="251.4" y="451.4" font-size="5.6" text-anchor="start" font-weight="bold" font-style="normal" fill="#111" stroke="#111" stroke-width="0.20">0</text>
<text x="289.3" y="451.4" font-size="5.6" text-anchor="end" font-weight="bold" font-style="normal" fill="#111" stroke="#111" stroke-width="0.20">71</text>
<circle cx="276.0" cy="430.8" r="0.7" fill="#b8b8e8" fill-opacity="0.55"/>
<circle cx="273.4" cy="430.3" r="0.7" fill="#b8b8e8" fill-opacity="0.55"/>
<circle cx="275.1" cy="427.8" r="0.7" fill="#b8b8e8" fill-opacity="0.55"/>
<circle cx="280.7" cy="428.6" r="0.7" fill="#b8b8e8" fill-opacity="0.55"/>
<circle cx="275.7" cy="429.8" r="0.7" fill="#b8b8e8" fill-opacity="0.55"/>
<circle cx="278.7" cy="428.2" r="0.7" fill="#b8b8e8" fill-opacity="0.55"/>
<circle cx="277.3" cy="426.4" r="0.7" fill="#b8b8e8" fill-opacity="0.55"/>
<circle cx="274.8" cy="427.4" r="0.7" fill="#b8b8e8" fill-opacity="0.55"/>
<circle cx="272.3" cy="425.3" r="0.7" fill="#b8b8e8" fill-opacity="0.55"/>
<circle cx="271.6" cy="427.8" r="0.7" fill="#b8b8e8" fill-opacity="0.55"/>
<circle cx="275.4" cy="427.7" r="0.7" fill="#b8b8e8" fill-opacity="0.55"/>
<circle cx="276.0" cy="425.6" r="0.7" fill="#b8b8e8" fill-opacity="0.55"/>
<circle cx="275.6" cy="428.8" r="0.7" fill="#b8b8e8" fill-opacity="0.55"/>
<circle cx="277.8" cy="426.6" r="0.7" fill="#b8b8e8" fill-opacity="0.55"/>
<circle cx="274.8" cy="424.3" r="0.7" fill="#b8b8e8" fill-opacity="0.55"/>
<circle cx="274.5" cy="423.9" r="0.7" fill="#b8b8e8" fill-opacity="0.55"/>
<circle cx="272.1" cy="430.5" r="0.7" fill="#b8b8e8" fill-opacity="0.55"/>
<circle cx="270.1" cy="429.9" r="0.7" fill="#b8b8e8" fill-opacity="0.55"/>
<circle cx="275.9" cy="439.8" r="0.7" fill="#b8b8e8" fill-opacity="0.55"/>
<circle cx="276.3" cy="441.5" r="0.7" fill="#b8b8e8" fill-opacity="0.55"/>
<circle cx="277.9" cy="439.9" r="0.7" fill="#b8b8e8" fill-opacity="0.55"/>
<circle cx="273.3" cy="439.2" r="0.7" fill="#b8b8e8" fill-opacity="0.55"/>
<circle cx="272.2" cy="440.3" r="0.7" fill="#b8b8e8" fill-opacity="0.55"/>
<circle cx="272.8" cy="442.5" r="0.7" fill="#b8b8e8" fill-opacity="0.55"/>
<circle cx="269.8" cy="438.2" r="0.7" fill="#b8b8e8" fill-opacity="0.55"/>
<circle cx="272.3" cy="436.2" r="0.7" fill="#b8b8e8" fill-opacity="0.55"/>
<circle cx="280.3" cy="435.6" r="0.7" fill="#b8b8e8" fill-opacity="0.55"/>
<circle cx="274.2" cy="439.3" r="0.7" fill="#b8b8e8" fill-opacity="0.55"/>
<circle cx="279.6" cy="436.4" r="0.7" fill="#b8b8e8" fill-opacity="0.55"/>
<circle cx="278.0" cy="438.9" r="0.7" fill="#b8b8e8" fill-opacity="0.55"/>
<circle cx="274.6" cy="439.1" r="0.7" fill="#b8b8e8" fill-opacity="0.55"/>
<circle cx="276.8" cy="438.1" r="0.7" fill="#b8b8e8" fill-opacity="0.55"/>
<circle cx="274.8" cy="441.1" r="0.7" fill="#b8b8e8" fill-opacity="0.55"/>
<circle cx="280.2" cy="435.6" r="0.7" fill="#b8b8e8" fill-opacity="0.55"/>
<circle cx="279.3" cy="442.3" r="0.7" fill="#b8b8e8" fill-opacity="0.55"/>
<circle cx="273.6" cy="441.0" r="0.7" fill="#b8b8e8" fill-opacity="0.55"/>
<circle cx="273.7" cy="443.7" r="0.7" fill="#b8b8e8" fill-opacity="0.55"/>
<circle cx="275.6" cy="440.0" r="0.7" fill="#b8b8e8" fill-opacity="0.55"/>
<circle cx="274.4" cy="440.0" r="0.7" fill="#b8b8e8" fill-opacity="0.55"/>
<circle cx="274.5" cy="438.6" r="0.7" fill="#b8b8e8" fill-opacity="0.55"/>
<circle cx="280.8" cy="436.6" r="0.7" fill="#b8b8e8" fill-opacity="0.55"/>
<circle cx="264.9" cy="440.2" r="0.7" fill="#b8b8e8" fill-opacity="0.55"/>
<circle cx="274.6" cy="441.1" r="0.7" fill="#b8b8e8" fill-opacity="0.55"/>
<circle cx="274.4" cy="440.1" r="0.7" fill="#b8b8e8" fill-opacity="0.55"/>
<text x="243.2" y="426.2" font-size="5.4" text-anchor="middle" font-weight="bold" font-style="normal" fill="#111" stroke="#111" stroke-width="0.19">10<tspan dy="-1.94" font-size="4.00">4</tspan></text>
<text x="243.2" y="443.4" font-size="5.4" text-anchor="middle" font-weight="bold" font-style="normal" fill="#111" stroke="#111" stroke-width="0.19">10<tspan dy="-1.94" font-size="4.00">2</tspan></text>
<text x="260.4" y="461.2" font-size="5.4" text-anchor="middle" font-weight="bold" font-style="normal" fill="#111" stroke="#111" stroke-width="0.19">10<tspan dy="-1.94" font-size="4.00">2</tspan></text>
<text x="276.8" y="461.2" font-size="5.4" text-anchor="middle" font-weight="bold" font-style="normal" fill="#111" stroke="#111" stroke-width="0.19">10<tspan dy="-1.94" font-size="4.00">4</tspan></text>
<line x1="234.3" y1="463.8" x2="234.3" y2="418.8" stroke="#111" stroke-width="1.1"/>
<polygon points="231.20,419.80 237.40,419.80 234.30,411.00" fill="#111"/>
<line x1="233.8" y1="463.8" x2="280.6" y2="463.8" stroke="#111" stroke-width="1.1"/>
<polygon points="279.60,460.50 279.60,467.10 290.60,463.80" fill="#111"/>
<text x="231.7" y="438.9" font-size="6.3" text-anchor="middle" font-weight="bold" font-style="normal" fill="#1a1a1a" transform="rotate(-90 231.7 438.9)" stroke="#1a1a1a" stroke-width="0.22">YFP</text>
<text x="259.9" y="471.8" font-size="6.4" text-anchor="middle" font-weight="normal" font-style="normal" fill="#111" stroke="#111" stroke-width="0.30">F4/80</text>
<text x="337.0" y="395.2" font-size="6.4" text-anchor="middle" font-weight="normal" font-style="normal" fill="#111" stroke="#111" stroke-width="0.30">PEC F4/80<tspan dy="-1.8" font-size="5">+</tspan><tspan dy="1.8">YFP</tspan><tspan dy="-1.8" font-size="5">+</tspan></text>
<line x1="328.8" y1="401.4" x2="328.8" y2="460.2" stroke="#111" stroke-width="1.0"/>
<line x1="328.8" y1="459.8" x2="358.3" y2="459.8" stroke="#111" stroke-width="1.0"/>
<line x1="327.2" y1="401.8" x2="328.8" y2="401.8" stroke="#111" stroke-width="0.8"/>
<line x1="327.2" y1="416.3" x2="328.8" y2="416.3" stroke="#111" stroke-width="0.8"/>
<line x1="327.2" y1="430.8" x2="328.8" y2="430.8" stroke="#111" stroke-width="0.8"/>
<line x1="327.2" y1="445.3" x2="328.8" y2="445.3" stroke="#111" stroke-width="0.8"/>
<line x1="327.2" y1="459.8" x2="328.8" y2="459.8" stroke="#111" stroke-width="0.8"/>
<line x1="343.9" y1="459.8" x2="343.9" y2="461.4" stroke="#111" stroke-width="0.8"/>
<text x="327.0" y="403.6" font-size="5.1" text-anchor="end" font-weight="bold" font-style="normal" fill="#111" stroke="#111" stroke-width="0.18">100</text>
<text x="327.0" y="461.6" font-size="5.1" text-anchor="end" font-weight="bold" font-style="normal" fill="#111" stroke="#111" stroke-width="0.18">0</text>
<rect x="339.60" y="440.90" width="2.20" height="2.20" fill="#111"/>
<rect x="343.20" y="443.00" width="2.20" height="2.20" fill="#111"/>
<rect x="346.80" y="443.00" width="2.20" height="2.20" fill="#111"/>
<line x1="314.4" y1="464.5" x2="314.4" y2="409.6" stroke="#111" stroke-width="1.1"/>
<polygon points="311.00,410.60 317.80,410.60 314.40,401.00" fill="#111"/>
<line x1="313.9" y1="464.5" x2="352.2" y2="464.5" stroke="#111" stroke-width="1.1"/>
<polygon points="351.20,460.70 351.20,468.30 361.90,464.50" fill="#111"/>
<text x="311.0" y="458.0" font-size="7.0" text-anchor="start" font-weight="bold" font-style="normal" fill="#1a1a1a" transform="rotate(-90 311.0 458.0)" stroke="#1a1a1a" stroke-width="0.25">Frequency (%)</text>
<text x="333.2" y="475.2" font-size="6.3" text-anchor="middle" font-weight="bold" font-style="normal" fill="#1a1a1a" stroke="#1a1a1a" stroke-width="0.22">Cell Type</text>
<text x="215.8" y="494" font-size="12.3" text-anchor="start" font-weight="normal" font-style="normal" fill="#111" stroke="#111" stroke-width="0.60">H</text>
<text x="284.3" y="498.1" font-size="5.8" text-anchor="middle" font-weight="bold" font-style="normal" fill="#222" stroke="#222" stroke-width="0.20">PEC Arginase 1</text>
<text x="335.9" y="498.1" font-size="5.8" text-anchor="middle" font-weight="bold" font-style="normal" fill="#222" stroke="#222" stroke-width="0.20">PEC NOS2</text>
<line x1="253.8" y1="586.0" x2="253.8" y2="521.3" stroke="#111" stroke-width="1.1"/>
<polygon points="250.00,522.30 257.60,522.30 253.80,512.00" fill="#111"/>
<line x1="315.0" y1="586.0" x2="315.0" y2="521.3" stroke="#111" stroke-width="1.1"/>
<polygon points="311.20,522.30 318.80,522.30 315.00,512.00" fill="#111"/>
<line x1="253.3" y1="586.0" x2="350.4" y2="586.0" stroke="#111" stroke-width="1.1"/>
<polygon points="349.40,582.20 349.40,589.80 360.40,586.00" fill="#111"/>
<text x="306.6" y="593.6" font-size="6.5" text-anchor="middle" font-weight="normal" font-style="normal" fill="#111" stroke="#111" stroke-width="0.32">Treatment</text>
<text x="231.5" y="580.0" font-size="6.45" text-anchor="start" font-weight="normal" font-style="normal" fill="#111" transform="rotate(-90 231.5 580.0)" stroke="#111" stroke-width="0.35">Relative expression</text>
<text x="238.3" y="582.0" font-size="6.5" text-anchor="start" font-weight="normal" font-style="normal" fill="#111" transform="rotate(-90 238.3 582.0)" stroke="#111" stroke-width="0.36">(GAPDH)</text>
<text x="251.0" y="550.0" font-size="7.4" text-anchor="middle" font-weight="normal" font-style="normal" fill="#111" transform="rotate(-90 251.0 550.0)" stroke="#111" stroke-width="0.41">(x10<tspan dy="-2.2" font-size="4.8">7</tspan><tspan dy="2.2">)</tspan></text>
<line x1="269.3" y1="514.2" x2="269.3" y2="573.2" stroke="#111" stroke-width="1.15"/>
<line x1="269.3" y1="572.7" x2="300.2" y2="572.7" stroke="#111" stroke-width="1.05"/>
<line x1="266.1" y1="514.6" x2="269.3" y2="514.6" stroke="#111" stroke-width="0.9"/>
<line x1="266.1" y1="572.7" x2="269.3" y2="572.7" stroke="#111" stroke-width="0.9"/>
<line x1="266.74" y1="529.125" x2="269.3" y2="529.125" stroke="#111" stroke-width="0.7"/>
<line x1="266.74" y1="543.6500000000001" x2="269.3" y2="543.6500000000001" stroke="#111" stroke-width="0.7"/>
<line x1="266.74" y1="558.1750000000001" x2="269.3" y2="558.1750000000001" stroke="#111" stroke-width="0.7"/>
<text x="0" y="0" font-size="6.2" text-anchor="middle" font-weight="normal" font-style="normal" fill="#111" stroke="#111" stroke-width="0.30"></text>
<text x="264.90000000000003" y="516.328" font-size="4.8" text-anchor="end" font-weight="bold" font-style="normal" fill="#111" stroke="#111" stroke-width="0.17">1</text>
<text x="264.90000000000003" y="574.428" font-size="4.8" text-anchor="end" font-weight="bold" font-style="normal" fill="#111" stroke="#111" stroke-width="0.17">0</text>
<rect x="270.90" y="572.40" width="7.20" height="0.30" fill="#222"/>
<line x1="284.7" y1="561.6" x2="284.7" y2="557.2" stroke="#111" stroke-width="1.0"/>
<line x1="281.82" y1="557.2" x2="287.58" y2="557.2" stroke="#111" stroke-width="1.0"/>
<rect x="281.10" y="561.60" width="7.20" height="11.10" fill="#f01414"/>
<line x1="295.4" y1="527.9" x2="295.4" y2="517.5" stroke="#111" stroke-width="1.0"/>
<line x1="292.52" y1="517.5" x2="298.28" y2="517.5" stroke="#111" stroke-width="1.0"/>
<rect x="291.80" y="527.90" width="7.20" height="44.80" fill="#f88888"/>
<line x1="274.5" y1="572.7" x2="274.5" y2="574.0" stroke="#111" stroke-width="0.6"/>
<text x="274.5" y="579.1" font-size="4.8" text-anchor="middle" font-weight="bold" font-style="normal" fill="#111" stroke="#111" stroke-width="0.17"></text>
<line x1="284.7" y1="572.7" x2="284.7" y2="574.0" stroke="#111" stroke-width="0.6"/>
<text x="284.7" y="579.1" font-size="4.8" text-anchor="middle" font-weight="bold" font-style="normal" fill="#111" stroke="#111" stroke-width="0.17"></text>
<line x1="295.4" y1="572.7" x2="295.4" y2="574.0" stroke="#111" stroke-width="0.6"/>
<text x="295.4" y="579.1" font-size="4.8" text-anchor="middle" font-weight="bold" font-style="normal" fill="#111" stroke="#111" stroke-width="0.17"></text>
<polyline points="279.3,516.8 279.3,514.4 288.4,514.4 288.4,516.8" fill="none" stroke="#111" stroke-width="0.8"/>
<polyline points="279.3,514.0 279.3,511.6 298.8,511.6 298.8,514.0" fill="none" stroke="#111" stroke-width="0.8"/>
<text x="283.8" y="515.2" font-size="5.5" text-anchor="middle" font-weight="bold" font-style="normal" fill="#111" stroke="#111" stroke-width="0.19">*</text>
<text x="290.0" y="512.4" font-size="5.5" text-anchor="middle" font-weight="bold" font-style="normal" fill="#111" stroke="#111" stroke-width="0.19">**</text>
<line x1="330.5" y1="514.2" x2="330.5" y2="573.2" stroke="#111" stroke-width="1.15"/>
<line x1="330.5" y1="572.7" x2="361" y2="572.7" stroke="#111" stroke-width="1.05"/>
<line x1="327.3" y1="514.6" x2="330.5" y2="514.6" stroke="#111" stroke-width="0.9"/>
<line x1="327.3" y1="572.7" x2="330.5" y2="572.7" stroke="#111" stroke-width="0.9"/>
<line x1="327.94" y1="529.125" x2="330.5" y2="529.125" stroke="#111" stroke-width="0.7"/>
<line x1="327.94" y1="543.6500000000001" x2="330.5" y2="543.6500000000001" stroke="#111" stroke-width="0.7"/>
<line x1="327.94" y1="558.1750000000001" x2="330.5" y2="558.1750000000001" stroke="#111" stroke-width="0.7"/>
<text x="0" y="0" font-size="6.2" text-anchor="middle" font-weight="normal" font-style="normal" fill="#111" stroke="#111" stroke-width="0.30"></text>
<text x="326.1" y="516.328" font-size="4.8" text-anchor="end" font-weight="bold" font-style="normal" fill="#111" stroke="#111" stroke-width="0.17">100</text>
<text x="326.1" y="574.428" font-size="4.8" text-anchor="end" font-weight="bold" font-style="normal" fill="#111" stroke="#111" stroke-width="0.17">0</text>
<line x1="336.0" y1="548.2" x2="336.0" y2="530.3" stroke="#111" stroke-width="1.0"/>
<line x1="333.12" y1="530.3" x2="338.88" y2="530.3" stroke="#111" stroke-width="1.0"/>
<rect x="333.30" y="548.20" width="5.40" height="24.50" fill="#fff" stroke="#111" stroke-width="0.9"/>
<line x1="346.3" y1="547.3" x2="346.3" y2="541.3" stroke="#111" stroke-width="1.0"/>
<line x1="343.42" y1="541.3" x2="349.18" y2="541.3" stroke="#111" stroke-width="1.0"/>
<rect x="342.70" y="547.30" width="7.20" height="25.40" fill="#f01414"/>
<line x1="356.6" y1="530.3" x2="356.6" y2="519.0" stroke="#111" stroke-width="1.0"/>
<line x1="353.72" y1="519.0" x2="359.48" y2="519.0" stroke="#111" stroke-width="1.0"/>
<rect x="353.00" y="530.30" width="7.20" height="42.40" fill="#f88888"/>
<line x1="336.0" y1="572.7" x2="336.0" y2="574.0" stroke="#111" stroke-width="0.6"/>
<text x="336.0" y="579.1" font-size="4.8" text-anchor="middle" font-weight="bold" font-style="normal" fill="#111" stroke="#111" stroke-width="0.17"></text>
<line x1="346.3" y1="572.7" x2="346.3" y2="574.0" stroke="#111" stroke-width="0.6"/>
<text x="346.3" y="579.1" font-size="4.8" text-anchor="middle" font-weight="bold" font-style="normal" fill="#111" stroke="#111" stroke-width="0.17"></text>
<line x1="356.6" y1="572.7" x2="356.6" y2="574.0" stroke="#111" stroke-width="0.6"/>
<text x="356.6" y="579.1" font-size="4.8" text-anchor="middle" font-weight="bold" font-style="normal" fill="#111" stroke="#111" stroke-width="0.17"></text>
<rect x="368.60" y="527.90" width="3.20" height="2.90" fill="#fff" stroke="#111" stroke-width="1.0"/>
<text x="373.6" y="531.5" font-size="6.3" text-anchor="start" font-weight="bold" font-style="normal" fill="#111" stroke="#111" stroke-width="0.22">None</text>
<rect x="368.20" y="537.30" width="3.90" height="3.70" fill="#f01414"/>
<text x="373.6" y="541.5" font-size="6.3" text-anchor="start" font-weight="bold" font-style="normal" fill="#111" stroke="#111" stroke-width="0.22">F4/80<tspan dy="-1.8" font-size="5">+</tspan><tspan dy="1.8">YFP</tspan><tspan dy="-1.8" font-size="5">+</tspan></text>
<rect x="368.40" y="549.60" width="3.40" height="3.40" fill="#f6cece"/>
<text x="373.6" y="553.6" font-size="6.3" text-anchor="start" font-weight="bold" font-style="normal" fill="#111" stroke="#111" stroke-width="0.22">F4/80<tspan dy="-1.8" font-size="5">+</tspan><tspan dy="1.8">YFP</tspan><tspan dy="-2.2" font-size="5">-</tspan></text>
</g>
</svg>
</body></html>
